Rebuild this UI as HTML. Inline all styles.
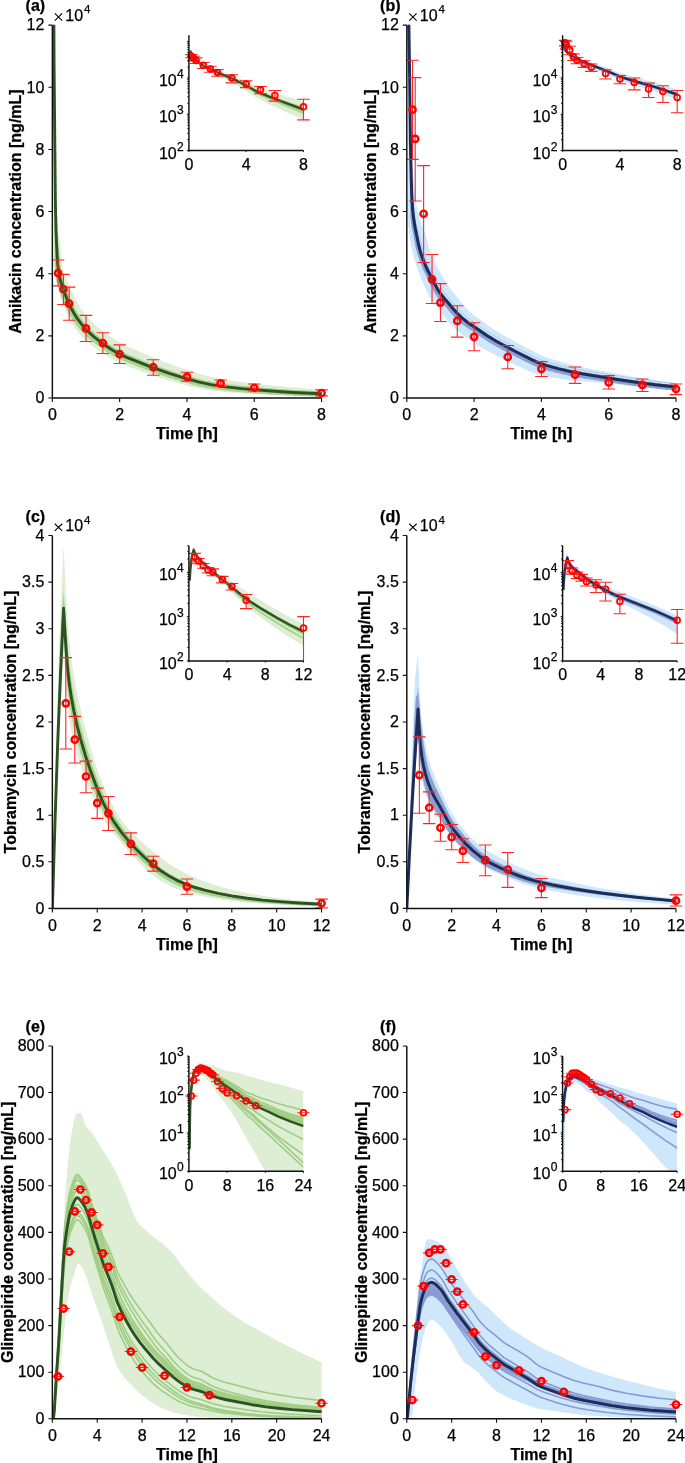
<!DOCTYPE html>
<html><head><meta charset="utf-8"><style>
html,body{margin:0;padding:0;background:#fff;}
svg{display:block;will-change:transform;}
text{font-family:"Liberation Sans",sans-serif;fill:#000;stroke:#000;stroke-width:0.25px;}
</style></head><body>
<svg width="685" height="1463" viewBox="0 0 685 1463">
<rect width="685" height="1463" fill="#fff"/>
<clipPath id="clipam"><rect x="52.35" y="24.65" width="269.7" height="372.85"/></clipPath>
<g clip-path="url(#clipam)"><path d="M52.4 -174.8 53.1 -174.7 53.1 -173.7 53.1 -172.7 53.1 -171.7 53.1 -170.7 53.1 -169.7 53.2 -168.7 53.2 -167.7" fill="none" stroke="#ddeed5" stroke-width="0.6" stroke-linecap="round" stroke-linejoin="round"/><path d="M53.2 -167.7 53.2 -166.7 53.2 -165.7 53.2 -164.7 53.2 -163.7 53.2 -162.7 53.2 -161.7 53.2 -160.7 53.2 -159.7" fill="none" stroke="#ddeed5" stroke-width="0.6" stroke-linecap="round" stroke-linejoin="round"/><path d="M53.2 -159.7 53.2 -158.7 53.2 -157.7 53.2 -156.7 53.2 -155.7 53.2 -154.7 53.2 -153.7 53.2 -152.7 53.2 -151.7" fill="none" stroke="#ddeed5" stroke-width="0.7" stroke-linecap="round" stroke-linejoin="round"/><path d="M53.2 -151.7 53.2 -150.7 53.2 -149.7 53.2 -148.7 53.2 -147.7 53.2 -146.7 53.2 -145.7 53.2 -144.7 53.2 -143.7" fill="none" stroke="#ddeed5" stroke-width="0.7" stroke-linecap="round" stroke-linejoin="round"/><path d="M53.2 -143.7 53.2 -142.7 53.2 -141.7 53.2 -140.7 53.2 -139.7 53.2 -138.7 53.2 -137.7 53.2 -136.7 53.2 -135.7" fill="none" stroke="#ddeed5" stroke-width="0.7" stroke-linecap="round" stroke-linejoin="round"/><path d="M53.2 -135.7 53.2 -134.7 53.2 -133.7 53.2 -132.7 53.2 -131.7 53.2 -130.7 53.2 -129.7 53.2 -128.7 53.2 -127.7" fill="none" stroke="#ddeed5" stroke-width="0.7" stroke-linecap="round" stroke-linejoin="round"/><path d="M53.2 -127.7 53.3 -126.7 53.3 -125.7 53.3 -124.7 53.3 -123.7 53.3 -122.7 53.3 -121.7 53.3 -120.7 53.3 -119.7" fill="none" stroke="#ddeed5" stroke-width="0.7" stroke-linecap="round" stroke-linejoin="round"/><path d="M53.3 -119.7 53.3 -118.7 53.3 -117.7 53.3 -116.7 53.3 -115.7 53.3 -114.7 53.3 -113.7 53.3 -112.7 53.3 -111.7" fill="none" stroke="#ddeed5" stroke-width="0.7" stroke-linecap="round" stroke-linejoin="round"/><path d="M53.3 -111.7 53.3 -110.7 53.3 -109.7 53.3 -108.7 53.3 -107.7 53.3 -106.7 53.3 -105.7 53.3 -104.7 53.3 -103.7" fill="none" stroke="#ddeed5" stroke-width="0.7" stroke-linecap="round" stroke-linejoin="round"/><path d="M53.3 -103.7 53.3 -102.7 53.3 -101.7 53.3 -100.7 53.3 -99.7 53.3 -98.7 53.3 -97.7 53.3 -96.7 53.3 -95.7" fill="none" stroke="#ddeed5" stroke-width="0.7" stroke-linecap="round" stroke-linejoin="round"/><path d="M53.3 -95.7 53.3 -94.7 53.3 -93.7 53.3 -92.7 53.3 -91.7 53.3 -90.7 53.3 -89.7 53.3 -88.7 53.4 -87.7" fill="none" stroke="#ddeed5" stroke-width="0.7" stroke-linecap="round" stroke-linejoin="round"/><path d="M53.4 -87.7 53.4 -86.7 53.4 -85.7 53.4 -84.7 53.4 -83.7 53.4 -82.7 53.4 -81.7 53.4 -80.7 53.4 -79.7" fill="none" stroke="#ddeed5" stroke-width="0.7" stroke-linecap="round" stroke-linejoin="round"/><path d="M53.4 -79.7 53.4 -78.7 53.4 -77.7 53.4 -76.7 53.4 -75.7 53.4 -74.7 53.4 -73.7 53.4 -72.7 53.4 -71.7" fill="none" stroke="#ddeed5" stroke-width="0.7" stroke-linecap="round" stroke-linejoin="round"/><path d="M53.4 -71.7 53.4 -70.7 53.4 -69.7 53.4 -68.7 53.4 -67.7 53.4 -66.7 53.4 -65.7 53.4 -64.7 53.4 -63.7" fill="none" stroke="#ddeed5" stroke-width="0.7" stroke-linecap="round" stroke-linejoin="round"/><path d="M53.4 -63.7 53.4 -62.7 53.4 -61.7 53.4 -60.7 53.4 -59.7 53.4 -58.7 53.4 -57.7 53.4 -56.7 53.4 -55.8" fill="none" stroke="#ddeed5" stroke-width="0.7" stroke-linecap="round" stroke-linejoin="round"/><path d="M53.4 -55.8 53.4 -54.8 53.5 -53.8 53.5 -52.8 53.5 -51.8 53.5 -50.8 53.5 -49.8 53.5 -48.8 53.5 -47.8" fill="none" stroke="#ddeed5" stroke-width="0.7" stroke-linecap="round" stroke-linejoin="round"/><path d="M53.5 -47.8 53.5 -46.8 53.5 -45.8 53.5 -44.8 53.5 -43.8 53.5 -42.8 53.5 -41.8 53.5 -40.8 53.5 -39.8" fill="none" stroke="#ddeed5" stroke-width="0.7" stroke-linecap="round" stroke-linejoin="round"/><path d="M53.5 -39.8 53.5 -38.8 53.5 -37.8 53.5 -36.8 53.5 -35.8 53.5 -34.8 53.5 -33.8 53.5 -32.8 53.5 -31.8" fill="none" stroke="#ddeed5" stroke-width="0.7" stroke-linecap="round" stroke-linejoin="round"/><path d="M53.5 -31.8 53.5 -30.8 53.5 -29.8 53.5 -28.8 53.5 -27.8 53.5 -26.8 53.5 -25.8 53.6 -24.8 53.6 -23.8" fill="none" stroke="#ddeed5" stroke-width="0.8" stroke-linecap="round" stroke-linejoin="round"/><path d="M53.6 -23.8 53.6 -22.8 53.6 -21.8 53.6 -20.8 53.6 -19.8 53.6 -18.8 53.6 -17.8 53.6 -16.8 53.6 -15.8" fill="none" stroke="#ddeed5" stroke-width="0.8" stroke-linecap="round" stroke-linejoin="round"/><path d="M53.6 -15.8 53.6 -14.8 53.6 -13.8 53.6 -12.8 53.6 -11.8 53.6 -10.8 53.6 -9.8 53.6 -8.8 53.6 -7.8" fill="none" stroke="#ddeed5" stroke-width="0.8" stroke-linecap="round" stroke-linejoin="round"/><path d="M53.6 -7.8 53.6 -6.8 53.6 -5.8 53.6 -4.8 53.6 -3.8 53.6 -2.8 53.6 -1.8 53.6 -0.8 53.6 0.2" fill="none" stroke="#ddeed5" stroke-width="0.8" stroke-linecap="round" stroke-linejoin="round"/><path d="M53.6 0.2 53.7 1.2 53.7 2.2 53.7 3.2 53.7 4.2 53.7 5.2 53.7 6.2 53.7 7.2 53.7 8.2" fill="none" stroke="#ddeed5" stroke-width="0.8" stroke-linecap="round" stroke-linejoin="round"/><path d="M53.7 8.2 53.7 9.2 53.7 10.2 53.7 11.2 53.7 12.2 53.7 13.2 53.7 14.2 53.7 15.2 53.7 16.2" fill="none" stroke="#ddeed5" stroke-width="0.8" stroke-linecap="round" stroke-linejoin="round"/><path d="M53.7 16.2 53.7 17.2 53.7 18.2 53.7 19.2 53.7 20.2 53.7 21.2 53.7 22.2 53.7 23.2 53.8 24.2" fill="none" stroke="#ddeed5" stroke-width="0.8" stroke-linecap="round" stroke-linejoin="round"/><path d="M53.8 24.2 53.8 25.2 53.8 26.2 53.8 27.2 53.8 28.2 53.8 29.2 53.8 30.2 53.8 31.2 53.8 32.2" fill="none" stroke="#ddeed5" stroke-width="0.8" stroke-linecap="round" stroke-linejoin="round"/><path d="M53.8 32.2 53.8 33.2 53.8 34.2 53.8 35.2 53.8 36.2 53.8 37.2 53.8 38.2 53.8 39.2 53.8 40.2" fill="none" stroke="#ddeed5" stroke-width="0.8" stroke-linecap="round" stroke-linejoin="round"/><path d="M53.8 40.2 53.8 41.2 53.8 42.2 53.9 43.2 53.9 44.2 53.9 45.2 53.9 46.2 53.9 47.2 53.9 48.2" fill="none" stroke="#ddeed5" stroke-width="0.9" stroke-linecap="round" stroke-linejoin="round"/><path d="M53.9 48.2 53.9 49.2 53.9 50.2 53.9 51.2 53.9 52.2 53.9 53.2 53.9 54.2 53.9 55.2 53.9 56.2" fill="none" stroke="#ddeed5" stroke-width="0.9" stroke-linecap="round" stroke-linejoin="round"/><path d="M53.9 56.2 53.9 57.2 53.9 58.2 53.9 59.2 54.0 60.2 54.0 61.2 54.0 62.2 54.0 63.2 54.0 64.2" fill="none" stroke="#ddeed5" stroke-width="0.9" stroke-linecap="round" stroke-linejoin="round"/><path d="M54.0 64.2 54.0 65.2 54.0 66.2 54.0 67.2 54.0 68.2 54.0 69.2 54.0 70.2 54.0 71.2 54.0 72.2" fill="none" stroke="#ddeed5" stroke-width="0.9" stroke-linecap="round" stroke-linejoin="round"/><path d="M54.0 72.2 54.0 73.2 54.1 74.2 54.1 75.2 54.1 76.2 54.1 77.2 54.1 78.2 54.1 79.2 54.1 80.2" fill="none" stroke="#ddeed5" stroke-width="0.9" stroke-linecap="round" stroke-linejoin="round"/><path d="M54.1 80.2 54.1 81.2 54.1 82.2 54.1 83.2 54.1 84.2 54.1 85.2 54.1 86.2 54.2 87.2 54.2 88.2" fill="none" stroke="#ddeed5" stroke-width="0.9" stroke-linecap="round" stroke-linejoin="round"/><path d="M54.2 88.2 54.2 89.2 54.2 90.2 54.2 91.2 54.2 92.2 54.2 93.2 54.2 94.2 54.2 95.2 54.2 96.2" fill="none" stroke="#ddeed5" stroke-width="1.0" stroke-linecap="round" stroke-linejoin="round"/><path d="M54.2 96.2 54.2 97.2 54.2 98.2 54.3 99.2 54.3 100.2 54.3 101.2 54.3 102.2 54.3 103.2 54.3 104.2" fill="none" stroke="#ddeed5" stroke-width="1.0" stroke-linecap="round" stroke-linejoin="round"/><path d="M54.3 104.2 54.3 105.2 54.3 106.2 54.3 107.2 54.3 108.2 54.3 109.2 54.4 110.2 54.4 111.2 54.4 112.2" fill="none" stroke="#ddeed5" stroke-width="1.0" stroke-linecap="round" stroke-linejoin="round"/><path d="M54.4 112.2 54.4 113.2 54.4 114.2 54.4 115.2 54.4 116.2 54.4 117.2 54.4 118.2 54.4 119.2 54.5 120.2" fill="none" stroke="#ddeed5" stroke-width="1.0" stroke-linecap="round" stroke-linejoin="round"/><path d="M54.5 120.2 54.5 121.2 54.5 122.2 54.5 123.2 54.5 124.2 54.5 125.2 54.5 126.2 54.5 127.2 54.5 128.2" fill="none" stroke="#ddeed5" stroke-width="1.0" stroke-linecap="round" stroke-linejoin="round"/><path d="M54.5 128.2 54.5 129.2 54.5 130.2 54.6 131.2 54.6 132.2 54.6 133.2 54.6 134.2 54.6 135.2 54.6 136.2" fill="none" stroke="#ddeed5" stroke-width="1.1" stroke-linecap="round" stroke-linejoin="round"/><path d="M54.6 136.2 54.6 137.2 54.6 138.2 54.6 139.2 54.6 140.2 54.7 141.2 54.7 142.1 54.7 143.1 54.7 144.1" fill="none" stroke="#ddeed5" stroke-width="1.1" stroke-linecap="round" stroke-linejoin="round"/><path d="M54.7 144.1 54.7 145.1 54.7 146.1 54.7 147.1 54.7 148.1 54.7 149.1 54.7 150.1 54.8 151.1 54.8 152.1" fill="none" stroke="#ddeed5" stroke-width="1.1" stroke-linecap="round" stroke-linejoin="round"/><path d="M54.8 152.1 54.8 153.1 54.8 154.1 54.8 155.1 54.8 156.1 54.8 157.1 54.8 158.1 54.8 159.1 54.8 160.1" fill="none" stroke="#ddeed5" stroke-width="1.1" stroke-linecap="round" stroke-linejoin="round"/><path d="M54.8 160.1 54.8 161.1 54.9 162.1 54.9 163.1 54.9 164.1 54.9 165.1 54.9 166.1 54.9 167.1 54.9 168.1" fill="none" stroke="#ddeed5" stroke-width="1.2" stroke-linecap="round" stroke-linejoin="round"/><path d="M54.9 168.1 54.9 169.1 54.9 170.1 54.9 171.1 54.9 172.1 55.0 173.1 55.0 174.1 55.0 175.1 55.0 176.1" fill="none" stroke="#ddeed5" stroke-width="1.2" stroke-linecap="round" stroke-linejoin="round"/><path d="M55.0 176.1 55.0 177.1 55.0 178.1 55.0 179.1 55.0 180.1 55.0 181.1 55.0 182.1 55.1 183.1 55.1 184.1" fill="none" stroke="#ddeed5" stroke-width="1.2" stroke-linecap="round" stroke-linejoin="round"/><path d="M55.1 184.1 55.1 185.1 55.1 186.1 55.1 187.1 55.1 188.1 55.1 189.1 55.2 190.1 55.2 191.1 55.2 192.1" fill="none" stroke="#ddeed5" stroke-width="1.5" stroke-linecap="round" stroke-linejoin="round"/><path d="M55.2 192.1 55.2 193.1 55.2 194.1 55.2 195.1 55.2 196.1 55.3 197.1 55.3 198.1 55.3 199.1 55.3 200.1" fill="none" stroke="#ddeed5" stroke-width="1.8" stroke-linecap="round" stroke-linejoin="round"/><path d="M55.3 200.1 55.3 201.1 55.3 202.1 55.4 203.1 55.4 204.1 55.4 205.1 55.4 206.1 55.4 207.1 55.5 208.1" fill="none" stroke="#ddeed5" stroke-width="2.2" stroke-linecap="round" stroke-linejoin="round"/><path d="M55.5 208.1 55.5 209.1 55.5 210.1 55.5 211.1 55.6 212.1 55.6 213.1 55.6 214.1 55.6 215.1 55.7 216.1" fill="none" stroke="#ddeed5" stroke-width="2.6" stroke-linecap="round" stroke-linejoin="round"/><path d="M55.7 216.1 55.7 217.1 55.7 218.1 55.8 219.1 55.8 220.1 55.8 221.1 55.9 222.1 55.9 223.1 55.9 224.1" fill="none" stroke="#ddeed5" stroke-width="3.2" stroke-linecap="round" stroke-linejoin="round"/><path d="M55.9 224.1 56.0 225.1 56.0 226.1 56.1 227.1 56.1 228.1 56.1 229.1 56.2 230.1 56.2 231.1 56.3 232.1" fill="none" stroke="#ddeed5" stroke-width="4.0" stroke-linecap="round" stroke-linejoin="round"/><path d="M56.3 232.1 56.3 233.1 56.4 234.1 56.4 235.1 56.5 236.1 56.6 237.1 56.6 238.1 56.7 239.1 56.8 240.1" fill="none" stroke="#ddeed5" stroke-width="5.0" stroke-linecap="round" stroke-linejoin="round"/><path d="M56.8 240.1 56.8 241.1 56.9 242.1 56.9 243.1 57.0 244.1 57.0 245.1 57.1 246.0 57.2 247.0 57.2 248.0" fill="none" stroke="#ddeed5" stroke-width="6.0" stroke-linecap="round" stroke-linejoin="round"/><path d="M57.2 248.0 57.3 249.0 57.3 250.0 57.4 251.0 57.5 252.0 57.5 253.0 57.6 254.0 57.6 255.0 57.7 256.0" fill="none" stroke="#ddeed5" stroke-width="6.5" stroke-linecap="round" stroke-linejoin="round"/><path d="M57.7 256.0 57.8 257.0 57.9 258.0 57.9 259.0 58.0 260.0 58.1 261.0 58.2 262.0 58.3 263.0 58.4 264.0" fill="none" stroke="#ddeed5" stroke-width="6.9" stroke-linecap="round" stroke-linejoin="round"/><path d="M58.4 264.0 58.5 265.0 58.6 265.9 58.7 266.9 58.8 267.9 59.0 268.9 59.1 269.9 59.3 270.9 59.4 271.8" fill="none" stroke="#ddeed5" stroke-width="7.6" stroke-linecap="round" stroke-linejoin="round"/><path d="M59.4 271.8 59.6 272.8 59.8 273.8 60.0 274.8 60.2 275.7 60.4 276.7 60.7 277.7 60.9 278.6 61.2 279.6" fill="none" stroke="#ddeed5" stroke-width="8.7" stroke-linecap="round" stroke-linejoin="round"/><path d="M61.2 279.6 61.5 280.5 61.8 281.4 62.1 282.4 62.4 283.3 62.8 284.2 63.1 285.1 63.5 286.1 63.9 287.0" fill="none" stroke="#ddeed5" stroke-width="10.5" stroke-linecap="round" stroke-linejoin="round"/><path d="M63.9 287.0 64.2 287.9 64.5 288.9 64.8 289.8 65.2 290.8 65.5 291.7 65.8 292.7 66.1 293.6 66.5 294.5" fill="none" stroke="#ddeed5" stroke-width="11.9" stroke-linecap="round" stroke-linejoin="round"/><path d="M66.5 294.5 66.8 295.5 67.2 296.4 67.5 297.3 67.9 298.2 68.2 299.2 68.6 300.1 69.0 301.0 69.4 301.9" fill="none" stroke="#ddeed5" stroke-width="12.6" stroke-linecap="round" stroke-linejoin="round"/><path d="M69.4 301.9 69.8 302.8 70.2 303.7 70.6 304.6 71.0 305.5 71.5 306.4 71.9 307.3 72.3 308.2 72.8 309.0" fill="none" stroke="#ddeed5" stroke-width="13.4" stroke-linecap="round" stroke-linejoin="round"/><path d="M72.8 309.0 73.3 309.9 73.7 310.8 74.2 311.7 74.7 312.5 75.2 313.4 75.7 314.2 76.2 315.1 76.7 315.9" fill="none" stroke="#ddeed5" stroke-width="14.4" stroke-linecap="round" stroke-linejoin="round"/><path d="M76.7 315.9 77.3 316.7 77.8 317.6 78.4 318.4 78.9 319.2 79.5 320.0 80.1 320.8 80.6 321.6 81.2 322.4" fill="none" stroke="#ddeed5" stroke-width="15.5" stroke-linecap="round" stroke-linejoin="round"/><path d="M81.2 322.4 81.8 323.2 82.4 324.0 83.1 324.8 83.7 325.5 84.3 326.3 85.0 327.0 85.6 327.8 86.3 328.5" fill="none" stroke="#ddeed5" stroke-width="16.8" stroke-linecap="round" stroke-linejoin="round"/><path d="M86.3 328.5 87.0 329.2 87.7 329.9 88.4 330.6 89.1 331.3 89.8 332.0 90.5 332.7 91.3 333.3 92.0 334.0" fill="none" stroke="#ddeed5" stroke-width="17.6" stroke-linecap="round" stroke-linejoin="round"/><path d="M92.0 334.0 92.8 334.6 93.5 335.3 94.3 335.9 95.0 336.5 95.8 337.2 96.6 337.8 97.4 338.4 98.2 339.0" fill="none" stroke="#ddeed5" stroke-width="17.8" stroke-linecap="round" stroke-linejoin="round"/><path d="M98.2 339.0 99.0 339.6 99.8 340.2 100.6 340.8 101.4 341.4 102.2 341.9 103.0 342.5 103.8 343.1 104.6 343.7" fill="none" stroke="#ddeed5" stroke-width="17.9" stroke-linecap="round" stroke-linejoin="round"/><path d="M104.6 343.7 105.4 344.2 106.3 344.8 107.1 345.3 107.9 345.9 108.7 346.4 109.6 347.0 110.4 347.5 111.2 348.1" fill="none" stroke="#ddeed5" stroke-width="18.1" stroke-linecap="round" stroke-linejoin="round"/><path d="M111.2 348.1 112.1 348.6 112.9 349.1 113.8 349.6 114.6 350.1 115.5 350.6 116.4 351.1 117.2 351.5 118.1 352.0" fill="none" stroke="#ddeed5" stroke-width="18.3" stroke-linecap="round" stroke-linejoin="round"/><path d="M118.1 352.0 119.0 352.5 119.8 352.9 120.7 353.3 121.6 353.8 122.5 354.2 123.4 354.6 124.3 355.0 125.2 355.4" fill="none" stroke="#ddeed5" stroke-width="18.4" stroke-linecap="round" stroke-linejoin="round"/><path d="M125.2 355.4 126.1 355.8 127.0 356.2 127.9 356.6 128.9 356.9 129.8 357.3 130.7 357.7 131.6 358.0 132.6 358.4" fill="none" stroke="#ddeed5" stroke-width="18.0" stroke-linecap="round" stroke-linejoin="round"/><path d="M132.6 358.4 133.5 358.8 134.4 359.2 135.4 359.5 136.3 359.9 137.2 360.3 138.1 360.7 139.1 361.1 140.0 361.4" fill="none" stroke="#ddeed5" stroke-width="17.6" stroke-linecap="round" stroke-linejoin="round"/><path d="M140.0 361.4 140.9 361.8 141.8 362.2 142.8 362.5 143.7 362.9 144.6 363.3 145.5 363.7 146.5 364.0 147.4 364.4" fill="none" stroke="#ddeed5" stroke-width="17.2" stroke-linecap="round" stroke-linejoin="round"/><path d="M147.4 364.4 148.3 364.7 149.3 365.1 150.2 365.5 151.1 365.8 152.1 366.2 153.0 366.5 153.9 366.9 154.9 367.2" fill="none" stroke="#ddeed5" stroke-width="16.8" stroke-linecap="round" stroke-linejoin="round"/><path d="M154.9 367.2 155.8 367.6 156.7 367.9 157.7 368.2 158.6 368.6 159.5 368.9 160.5 369.3 161.4 369.6 162.4 369.9" fill="none" stroke="#ddeed5" stroke-width="16.4" stroke-linecap="round" stroke-linejoin="round"/><path d="M162.4 369.9 163.3 370.2 164.2 370.6 165.2 370.9 166.1 371.2 167.1 371.5 168.0 371.8 169.0 372.1 169.9 372.4" fill="none" stroke="#ddeed5" stroke-width="15.9" stroke-linecap="round" stroke-linejoin="round"/><path d="M169.9 372.4 170.9 372.8 171.8 373.1 172.8 373.4 173.7 373.7 174.7 374.0 175.6 374.3 176.6 374.6 177.5 374.9" fill="none" stroke="#ddeed5" stroke-width="15.5" stroke-linecap="round" stroke-linejoin="round"/><path d="M177.5 374.9 178.5 375.1 179.4 375.4 180.4 375.7 181.3 376.0 182.3 376.3 183.3 376.6 184.2 376.9 185.2 377.1" fill="none" stroke="#ddeed5" stroke-width="15.1" stroke-linecap="round" stroke-linejoin="round"/><path d="M185.2 377.1 186.1 377.4 187.1 377.7 188.0 378.0 189.0 378.3 190.0 378.5 190.9 378.8 191.9 379.1 192.8 379.4" fill="none" stroke="#ddeed5" stroke-width="14.7" stroke-linecap="round" stroke-linejoin="round"/><path d="M192.8 379.4 193.8 379.7 194.8 379.9 195.7 380.2 196.7 380.5 197.6 380.7 198.6 381.0 199.5 381.2 200.5 381.5" fill="none" stroke="#ddeed5" stroke-width="14.2" stroke-linecap="round" stroke-linejoin="round"/><path d="M200.5 381.5 201.5 381.7 202.4 381.9 203.4 382.1 204.4 382.3 205.4 382.5 206.3 382.7 207.3 382.9 208.3 383.1" fill="none" stroke="#ddeed5" stroke-width="13.7" stroke-linecap="round" stroke-linejoin="round"/><path d="M208.3 383.1 209.3 383.3 210.2 383.5 211.2 383.7 212.2 383.8 213.2 384.0 214.2 384.2 215.2 384.3 216.1 384.5" fill="none" stroke="#ddeed5" stroke-width="13.1" stroke-linecap="round" stroke-linejoin="round"/><path d="M216.1 384.5 217.1 384.7 218.1 384.8 219.1 385.0 220.1 385.1 221.1 385.2 222.0 385.4 223.0 385.5 224.0 385.7" fill="none" stroke="#ddeed5" stroke-width="12.5" stroke-linecap="round" stroke-linejoin="round"/><path d="M224.0 385.7 225.0 385.8 226.0 385.9 227.0 386.0 228.0 386.2 229.0 386.3 230.0 386.4 230.9 386.5 231.9 386.6" fill="none" stroke="#ddeed5" stroke-width="12.0" stroke-linecap="round" stroke-linejoin="round"/><path d="M231.9 386.6 232.9 386.7 233.9 386.8 234.9 386.9 235.9 387.0 236.9 387.2 237.9 387.3 238.9 387.4 239.9 387.5" fill="none" stroke="#ddeed5" stroke-width="11.4" stroke-linecap="round" stroke-linejoin="round"/><path d="M239.9 387.5 240.9 387.5 241.9 387.6 242.9 387.7 243.9 387.8 244.8 387.9 245.8 388.0 246.8 388.1 247.8 388.2" fill="none" stroke="#ddeed5" stroke-width="10.8" stroke-linecap="round" stroke-linejoin="round"/><path d="M247.8 388.2 248.8 388.3 249.8 388.4 250.8 388.5 251.8 388.6 252.8 388.6 253.8 388.7 254.8 388.8 255.8 388.9" fill="none" stroke="#ddeed5" stroke-width="10.2" stroke-linecap="round" stroke-linejoin="round"/><path d="M255.8 388.9 256.8 389.0 257.8 389.1 258.8 389.1 259.8 389.2 260.8 389.3 261.8 389.4 262.8 389.5 263.8 389.5" fill="none" stroke="#ddeed5" stroke-width="9.7" stroke-linecap="round" stroke-linejoin="round"/><path d="M263.8 389.5 264.7 389.6 265.7 389.7 266.7 389.8 267.7 389.8 268.7 389.9 269.7 390.0 270.7 390.1 271.7 390.1" fill="none" stroke="#ddeed5" stroke-width="9.3" stroke-linecap="round" stroke-linejoin="round"/><path d="M271.7 390.1 272.7 390.2 273.7 390.3 274.7 390.3 275.7 390.4 276.7 390.5 277.7 390.5 278.7 390.6 279.7 390.7" fill="none" stroke="#ddeed5" stroke-width="8.9" stroke-linecap="round" stroke-linejoin="round"/><path d="M279.7 390.7 280.7 390.7 281.7 390.8 282.7 390.8 283.7 390.9 284.7 391.0 285.7 391.0 286.7 391.1 287.7 391.1" fill="none" stroke="#ddeed5" stroke-width="8.4" stroke-linecap="round" stroke-linejoin="round"/><path d="M287.7 391.1 288.7 391.2 289.7 391.3 290.7 391.3 291.7 391.4 292.7 391.4 293.6 391.5 294.6 391.5 295.6 391.6" fill="none" stroke="#ddeed5" stroke-width="8.0" stroke-linecap="round" stroke-linejoin="round"/><path d="M295.6 391.6 296.6 391.7 297.6 391.7 298.6 391.8 299.6 391.8 300.6 391.9 301.6 391.9 302.6 392.0 303.6 392.0" fill="none" stroke="#ddeed5" stroke-width="7.6" stroke-linecap="round" stroke-linejoin="round"/><path d="M303.6 392.0 304.6 392.1 305.6 392.1 306.6 392.2 307.6 392.2 308.6 392.2 309.6 392.3 310.6 392.3 311.6 392.4" fill="none" stroke="#ddeed5" stroke-width="7.1" stroke-linecap="round" stroke-linejoin="round"/><path d="M311.6 392.4 312.6 392.4 313.6 392.5 314.6 392.5 315.6 392.6 316.6 392.6 317.6 392.6 318.6 392.7 319.6 392.7" fill="none" stroke="#ddeed5" stroke-width="6.7" stroke-linecap="round" stroke-linejoin="round"/><path d="M319.6 392.7 320.6 392.8 321.6 392.8" fill="none" stroke="#ddeed5" stroke-width="6.5" stroke-linecap="round" stroke-linejoin="round"/><path d="M52.4 -174.8 53.2 -174.7 53.2 -173.7 53.2 -172.7 53.2 -171.7 53.2 -170.7 53.2 -169.7 53.2 -168.7 53.2 -167.7" fill="none" stroke="#a9d38f" stroke-width="0.5" stroke-linecap="round" stroke-linejoin="round"/><path d="M53.2 -167.7 53.2 -166.7 53.2 -165.7 53.2 -164.7 53.2 -163.7 53.2 -162.7 53.2 -161.7 53.2 -160.7 53.2 -159.7" fill="none" stroke="#a9d38f" stroke-width="0.5" stroke-linecap="round" stroke-linejoin="round"/><path d="M53.2 -159.7 53.2 -158.7 53.2 -157.7 53.2 -156.7 53.2 -155.7 53.2 -154.7 53.2 -153.7 53.2 -152.7 53.2 -151.7" fill="none" stroke="#a9d38f" stroke-width="0.5" stroke-linecap="round" stroke-linejoin="round"/><path d="M53.2 -151.7 53.2 -150.7 53.2 -149.7 53.2 -148.7 53.2 -147.7 53.2 -146.7 53.2 -145.7 53.2 -144.7 53.2 -143.7" fill="none" stroke="#a9d38f" stroke-width="0.5" stroke-linecap="round" stroke-linejoin="round"/><path d="M53.2 -143.7 53.2 -142.7 53.2 -141.7 53.3 -140.7 53.3 -139.7 53.3 -138.7 53.3 -137.7 53.3 -136.7 53.3 -135.7" fill="none" stroke="#a9d38f" stroke-width="0.5" stroke-linecap="round" stroke-linejoin="round"/><path d="M53.3 -135.7 53.3 -134.7 53.3 -133.7 53.3 -132.7 53.3 -131.7 53.3 -130.7 53.3 -129.7 53.3 -128.7 53.3 -127.7" fill="none" stroke="#a9d38f" stroke-width="0.5" stroke-linecap="round" stroke-linejoin="round"/><path d="M53.3 -127.7 53.3 -126.7 53.3 -125.7 53.3 -124.7 53.3 -123.7 53.3 -122.7 53.3 -121.7 53.3 -120.7 53.3 -119.7" fill="none" stroke="#a9d38f" stroke-width="0.5" stroke-linecap="round" stroke-linejoin="round"/><path d="M53.3 -119.7 53.3 -118.7 53.3 -117.7 53.3 -116.7 53.3 -115.7 53.3 -114.7 53.3 -113.7 53.3 -112.7 53.3 -111.7" fill="none" stroke="#a9d38f" stroke-width="0.5" stroke-linecap="round" stroke-linejoin="round"/><path d="M53.3 -111.7 53.3 -110.7 53.3 -109.7 53.3 -108.7 53.3 -107.7 53.3 -106.7 53.3 -105.7 53.3 -104.7 53.3 -103.7" fill="none" stroke="#a9d38f" stroke-width="0.5" stroke-linecap="round" stroke-linejoin="round"/><path d="M53.3 -103.7 53.3 -102.7 53.4 -101.7 53.4 -100.7 53.4 -99.7 53.4 -98.7 53.4 -97.7 53.4 -96.7 53.4 -95.7" fill="none" stroke="#a9d38f" stroke-width="0.5" stroke-linecap="round" stroke-linejoin="round"/><path d="M53.4 -95.7 53.4 -94.7 53.4 -93.7 53.4 -92.7 53.4 -91.7 53.4 -90.7 53.4 -89.7 53.4 -88.7 53.4 -87.7" fill="none" stroke="#a9d38f" stroke-width="0.5" stroke-linecap="round" stroke-linejoin="round"/><path d="M53.4 -87.7 53.4 -86.7 53.4 -85.7 53.4 -84.7 53.4 -83.7 53.4 -82.7 53.4 -81.7 53.4 -80.7 53.4 -79.7" fill="none" stroke="#a9d38f" stroke-width="0.6" stroke-linecap="round" stroke-linejoin="round"/><path d="M53.4 -79.7 53.4 -78.7 53.4 -77.7 53.4 -76.7 53.4 -75.7 53.4 -74.7 53.4 -73.7 53.4 -72.7 53.4 -71.7" fill="none" stroke="#a9d38f" stroke-width="0.6" stroke-linecap="round" stroke-linejoin="round"/><path d="M53.4 -71.7 53.4 -70.7 53.4 -69.7 53.4 -68.7 53.4 -67.7 53.5 -66.7 53.5 -65.7 53.5 -64.7 53.5 -63.7" fill="none" stroke="#a9d38f" stroke-width="0.6" stroke-linecap="round" stroke-linejoin="round"/><path d="M53.5 -63.7 53.5 -62.7 53.5 -61.7 53.5 -60.7 53.5 -59.7 53.5 -58.7 53.5 -57.7 53.5 -56.7 53.5 -55.8" fill="none" stroke="#a9d38f" stroke-width="0.6" stroke-linecap="round" stroke-linejoin="round"/><path d="M53.5 -55.8 53.5 -54.8 53.5 -53.8 53.5 -52.8 53.5 -51.8 53.5 -50.8 53.5 -49.8 53.5 -48.8 53.5 -47.8" fill="none" stroke="#a9d38f" stroke-width="0.6" stroke-linecap="round" stroke-linejoin="round"/><path d="M53.5 -47.8 53.5 -46.8 53.5 -45.8 53.5 -44.8 53.5 -43.8 53.5 -42.8 53.5 -41.8 53.5 -40.8 53.5 -39.8" fill="none" stroke="#a9d38f" stroke-width="0.6" stroke-linecap="round" stroke-linejoin="round"/><path d="M53.5 -39.8 53.5 -38.8 53.5 -37.8 53.6 -36.8 53.6 -35.8 53.6 -34.8 53.6 -33.8 53.6 -32.8 53.6 -31.8" fill="none" stroke="#a9d38f" stroke-width="0.6" stroke-linecap="round" stroke-linejoin="round"/><path d="M53.6 -31.8 53.6 -30.8 53.6 -29.8 53.6 -28.8 53.6 -27.8 53.6 -26.8 53.6 -25.8 53.6 -24.8 53.6 -23.8" fill="none" stroke="#a9d38f" stroke-width="0.6" stroke-linecap="round" stroke-linejoin="round"/><path d="M53.6 -23.8 53.6 -22.8 53.6 -21.8 53.6 -20.8 53.6 -19.8 53.6 -18.8 53.6 -17.8 53.6 -16.8 53.6 -15.8" fill="none" stroke="#a9d38f" stroke-width="0.6" stroke-linecap="round" stroke-linejoin="round"/><path d="M53.6 -15.8 53.6 -14.8 53.6 -13.8 53.6 -12.8 53.6 -11.8 53.6 -10.8 53.7 -9.8 53.7 -8.8 53.7 -7.8" fill="none" stroke="#a9d38f" stroke-width="0.6" stroke-linecap="round" stroke-linejoin="round"/><path d="M53.7 -7.8 53.7 -6.8 53.7 -5.8 53.7 -4.8 53.7 -3.8 53.7 -2.8 53.7 -1.8 53.7 -0.8 53.7 0.2" fill="none" stroke="#a9d38f" stroke-width="0.6" stroke-linecap="round" stroke-linejoin="round"/><path d="M53.7 0.2 53.7 1.2 53.7 2.2 53.7 3.2 53.7 4.2 53.7 5.2 53.7 6.2 53.7 7.2 53.7 8.2" fill="none" stroke="#a9d38f" stroke-width="0.6" stroke-linecap="round" stroke-linejoin="round"/><path d="M53.7 8.2 53.7 9.2 53.7 10.2 53.7 11.2 53.7 12.2 53.8 13.2 53.8 14.2 53.8 15.2 53.8 16.2" fill="none" stroke="#a9d38f" stroke-width="0.6" stroke-linecap="round" stroke-linejoin="round"/><path d="M53.8 16.2 53.8 17.2 53.8 18.2 53.8 19.2 53.8 20.2 53.8 21.2 53.8 22.2 53.8 23.2 53.8 24.2" fill="none" stroke="#a9d38f" stroke-width="0.6" stroke-linecap="round" stroke-linejoin="round"/><path d="M53.8 24.2 53.8 25.2 53.8 26.2 53.8 27.2 53.8 28.2 53.8 29.2 53.8 30.2 53.8 31.2 53.8 32.2" fill="none" stroke="#a9d38f" stroke-width="0.6" stroke-linecap="round" stroke-linejoin="round"/><path d="M53.8 32.2 53.9 33.2 53.9 34.2 53.9 35.2 53.9 36.2 53.9 37.2 53.9 38.2 53.9 39.2 53.9 40.2" fill="none" stroke="#a9d38f" stroke-width="0.6" stroke-linecap="round" stroke-linejoin="round"/><path d="M53.9 40.2 53.9 41.2 53.9 42.2 53.9 43.2 53.9 44.2 53.9 45.2 53.9 46.2 53.9 47.2 53.9 48.2" fill="none" stroke="#a9d38f" stroke-width="0.6" stroke-linecap="round" stroke-linejoin="round"/><path d="M53.9 48.2 53.9 49.2 54.0 50.2 54.0 51.2 54.0 52.2 54.0 53.2 54.0 54.2 54.0 55.2 54.0 56.2" fill="none" stroke="#a9d38f" stroke-width="0.6" stroke-linecap="round" stroke-linejoin="round"/><path d="M54.0 56.2 54.0 57.2 54.0 58.2 54.0 59.2 54.0 60.2 54.0 61.2 54.0 62.2 54.0 63.2 54.0 64.2" fill="none" stroke="#a9d38f" stroke-width="0.6" stroke-linecap="round" stroke-linejoin="round"/><path d="M54.0 64.2 54.0 65.2 54.1 66.2 54.1 67.2 54.1 68.2 54.1 69.2 54.1 70.2 54.1 71.2 54.1 72.2" fill="none" stroke="#a9d38f" stroke-width="0.6" stroke-linecap="round" stroke-linejoin="round"/><path d="M54.1 72.2 54.1 73.2 54.1 74.2 54.1 75.2 54.1 76.2 54.1 77.2 54.1 78.2 54.2 79.2 54.2 80.2" fill="none" stroke="#a9d38f" stroke-width="0.7" stroke-linecap="round" stroke-linejoin="round"/><path d="M54.2 80.2 54.2 81.2 54.2 82.2 54.2 83.2 54.2 84.2 54.2 85.2 54.2 86.2 54.2 87.2 54.2 88.2" fill="none" stroke="#a9d38f" stroke-width="0.7" stroke-linecap="round" stroke-linejoin="round"/><path d="M54.2 88.2 54.2 89.2 54.2 90.2 54.3 91.2 54.3 92.2 54.3 93.2 54.3 94.2 54.3 95.2 54.3 96.2" fill="none" stroke="#a9d38f" stroke-width="0.7" stroke-linecap="round" stroke-linejoin="round"/><path d="M54.3 96.2 54.3 97.2 54.3 98.2 54.3 99.2 54.3 100.2 54.3 101.2 54.4 102.2 54.4 103.2 54.4 104.2" fill="none" stroke="#a9d38f" stroke-width="0.7" stroke-linecap="round" stroke-linejoin="round"/><path d="M54.4 104.2 54.4 105.2 54.4 106.2 54.4 107.2 54.4 108.2 54.4 109.2 54.4 110.2 54.4 111.2 54.4 112.2" fill="none" stroke="#a9d38f" stroke-width="0.7" stroke-linecap="round" stroke-linejoin="round"/><path d="M54.4 112.2 54.5 113.2 54.5 114.2 54.5 115.2 54.5 116.2 54.5 117.2 54.5 118.2 54.5 119.2 54.5 120.2" fill="none" stroke="#a9d38f" stroke-width="0.7" stroke-linecap="round" stroke-linejoin="round"/><path d="M54.5 120.2 54.5 121.2 54.5 122.2 54.6 123.2 54.6 124.2 54.6 125.2 54.6 126.2 54.6 127.2 54.6 128.2" fill="none" stroke="#a9d38f" stroke-width="0.7" stroke-linecap="round" stroke-linejoin="round"/><path d="M54.6 128.2 54.6 129.2 54.6 130.2 54.6 131.2 54.7 132.2 54.7 133.2 54.7 134.2 54.7 135.2 54.7 136.2" fill="none" stroke="#a9d38f" stroke-width="0.7" stroke-linecap="round" stroke-linejoin="round"/><path d="M54.7 136.2 54.7 137.2 54.7 138.2 54.7 139.2 54.7 140.1 54.7 141.1 54.8 142.1 54.8 143.1 54.8 144.1" fill="none" stroke="#a9d38f" stroke-width="0.7" stroke-linecap="round" stroke-linejoin="round"/><path d="M54.8 144.1 54.8 145.1 54.8 146.1 54.8 147.1 54.8 148.1 54.8 149.1 54.8 150.1 54.8 151.1 54.9 152.1" fill="none" stroke="#a9d38f" stroke-width="0.8" stroke-linecap="round" stroke-linejoin="round"/><path d="M54.9 152.1 54.9 153.1 54.9 154.1 54.9 155.1 54.9 156.1 54.9 157.1 54.9 158.1 54.9 159.1 54.9 160.1" fill="none" stroke="#a9d38f" stroke-width="0.8" stroke-linecap="round" stroke-linejoin="round"/><path d="M54.9 160.1 54.9 161.1 55.0 162.1 55.0 163.1 55.0 164.1 55.0 165.1 55.0 166.1 55.0 167.1 55.0 168.1" fill="none" stroke="#a9d38f" stroke-width="0.8" stroke-linecap="round" stroke-linejoin="round"/><path d="M55.0 168.1 55.0 169.1 55.0 170.1 55.0 171.1 55.0 172.1 55.0 173.1 55.1 174.1 55.1 175.1 55.1 176.1" fill="none" stroke="#a9d38f" stroke-width="0.8" stroke-linecap="round" stroke-linejoin="round"/><path d="M55.1 176.1 55.1 177.1 55.1 178.1 55.1 179.1 55.1 180.1 55.1 181.1 55.1 182.1 55.1 183.1 55.1 184.1" fill="none" stroke="#a9d38f" stroke-width="0.8" stroke-linecap="round" stroke-linejoin="round"/><path d="M55.1 184.1 55.2 185.1 55.2 186.1 55.2 187.1 55.2 188.1 55.2 189.1 55.2 190.1 55.2 191.1 55.2 192.1" fill="none" stroke="#a9d38f" stroke-width="1.0" stroke-linecap="round" stroke-linejoin="round"/><path d="M55.2 192.1 55.2 193.1 55.2 194.1 55.2 195.1 55.2 196.1 55.3 197.1 55.3 198.1 55.3 199.1 55.3 200.1" fill="none" stroke="#a9d38f" stroke-width="1.1" stroke-linecap="round" stroke-linejoin="round"/><path d="M55.3 200.1 55.3 201.1 55.3 202.1 55.3 203.1 55.3 204.1 55.3 205.1 55.4 206.1 55.4 207.1 55.4 208.1" fill="none" stroke="#a9d38f" stroke-width="1.3" stroke-linecap="round" stroke-linejoin="round"/><path d="M55.4 208.1 55.4 209.1 55.4 210.1 55.4 211.1 55.4 212.1 55.4 213.1 55.5 214.1 55.5 215.1 55.5 216.1" fill="none" stroke="#a9d38f" stroke-width="1.5" stroke-linecap="round" stroke-linejoin="round"/><path d="M55.5 216.1 55.5 217.1 55.5 218.1 55.6 219.1 55.6 220.1 55.6 221.1 55.6 222.1 55.6 223.1 55.7 224.1" fill="none" stroke="#a9d38f" stroke-width="1.9" stroke-linecap="round" stroke-linejoin="round"/><path d="M55.7 224.1 55.7 225.1 55.7 226.1 55.7 227.1 55.7 228.1 55.8 229.1 55.8 230.1 55.8 231.1 55.9 232.1" fill="none" stroke="#a9d38f" stroke-width="2.3" stroke-linecap="round" stroke-linejoin="round"/><path d="M55.9 232.1 55.9 233.1 55.9 234.1 55.9 235.1 56.0 236.1 56.0 237.1 56.1 238.1 56.1 239.1 56.1 240.1" fill="none" stroke="#a9d38f" stroke-width="2.8" stroke-linecap="round" stroke-linejoin="round"/><path d="M56.1 240.1 56.2 241.1 56.2 242.1 56.3 243.1 56.3 244.1 56.3 245.1 56.4 246.1 56.4 247.1 56.5 248.1" fill="none" stroke="#a9d38f" stroke-width="3.5" stroke-linecap="round" stroke-linejoin="round"/><path d="M56.5 248.1 56.5 249.1 56.6 250.1 56.6 251.1 56.7 252.1 56.7 253.1 56.8 254.1 56.8 255.1 56.9 256.1" fill="none" stroke="#a9d38f" stroke-width="4.4" stroke-linecap="round" stroke-linejoin="round"/><path d="M56.9 256.1 57.0 257.1 57.0 258.1 57.1 259.1 57.1 260.1 57.2 261.1 57.3 262.1 57.4 263.1 57.4 264.1" fill="none" stroke="#a9d38f" stroke-width="5.4" stroke-linecap="round" stroke-linejoin="round"/><path d="M57.4 264.1 57.5 265.1 57.6 266.0 57.7 267.0 57.9 268.0 58.0 269.0 58.1 270.0 58.2 271.0 58.4 272.0" fill="none" stroke="#a9d38f" stroke-width="5.8" stroke-linecap="round" stroke-linejoin="round"/><path d="M58.4 272.0 58.5 273.0 58.7 274.0 58.9 275.0 59.0 276.0 59.2 277.0 59.4 277.9 59.7 278.9 59.9 279.9" fill="none" stroke="#a9d38f" stroke-width="6.3" stroke-linecap="round" stroke-linejoin="round"/><path d="M59.9 279.9 60.1 280.9 60.4 281.8 60.7 282.8 61.0 283.8 61.3 284.7 61.6 285.7 61.9 286.6 62.3 287.6" fill="none" stroke="#a9d38f" stroke-width="7.1" stroke-linecap="round" stroke-linejoin="round"/><path d="M62.3 287.6 62.6 288.5 62.9 289.4 63.3 290.4 63.6 291.3 63.9 292.3 64.2 293.2 64.6 294.2 64.9 295.1" fill="none" stroke="#a9d38f" stroke-width="7.5" stroke-linecap="round" stroke-linejoin="round"/><path d="M64.9 295.1 65.3 296.0 65.6 297.0 66.0 297.9 66.4 298.9 66.7 299.8 67.1 300.7 67.5 301.6 67.9 302.6" fill="none" stroke="#a9d38f" stroke-width="7.6" stroke-linecap="round" stroke-linejoin="round"/><path d="M67.9 302.6 68.3 303.5 68.7 304.4 69.2 305.3 69.6 306.2 70.0 307.1 70.5 308.0 71.0 308.9 71.4 309.8" fill="none" stroke="#a9d38f" stroke-width="7.6" stroke-linecap="round" stroke-linejoin="round"/><path d="M71.4 309.8 71.9 310.7 72.4 311.5 72.9 312.4 73.4 313.3 73.9 314.2 74.4 315.0 74.9 315.9 75.5 316.7" fill="none" stroke="#a9d38f" stroke-width="7.6" stroke-linecap="round" stroke-linejoin="round"/><path d="M75.5 316.7 76.0 317.6 76.6 318.4 77.1 319.2 77.7 320.1 78.3 320.9 78.9 321.7 79.5 322.5 80.1 323.3" fill="none" stroke="#a9d38f" stroke-width="7.7" stroke-linecap="round" stroke-linejoin="round"/><path d="M80.1 323.3 80.7 324.1 81.3 324.9 82.0 325.7 82.6 326.4 83.3 327.2 83.9 328.0 84.6 328.7 85.3 329.5" fill="none" stroke="#a9d38f" stroke-width="7.8" stroke-linecap="round" stroke-linejoin="round"/><path d="M85.3 329.5 86.0 330.2 86.7 330.9 87.4 331.6 88.1 332.3 88.8 333.0 89.6 333.7 90.3 334.4 91.1 335.1" fill="none" stroke="#a9d38f" stroke-width="7.8" stroke-linecap="round" stroke-linejoin="round"/><path d="M91.1 335.1 91.8 335.7 92.6 336.4 93.3 337.0 94.1 337.7 94.9 338.3 95.7 338.9 96.5 339.6 97.2 340.2" fill="none" stroke="#a9d38f" stroke-width="7.7" stroke-linecap="round" stroke-linejoin="round"/><path d="M97.2 340.2 98.0 340.8 98.8 341.4 99.6 342.0 100.4 342.6 101.3 343.2 102.1 343.8 102.9 344.4 103.7 345.0" fill="none" stroke="#a9d38f" stroke-width="7.7" stroke-linecap="round" stroke-linejoin="round"/><path d="M103.7 345.0 104.5 345.5 105.3 346.1 106.1 346.7 107.0 347.3 107.8 347.8 108.6 348.4 109.5 348.9 110.3 349.5" fill="none" stroke="#a9d38f" stroke-width="7.6" stroke-linecap="round" stroke-linejoin="round"/><path d="M110.3 349.5 111.2 350.0 112.0 350.5 112.9 351.1 113.7 351.6 114.6 352.1 115.5 352.6 116.4 353.1 117.2 353.6" fill="none" stroke="#a9d38f" stroke-width="7.6" stroke-linecap="round" stroke-linejoin="round"/><path d="M117.2 353.6 118.1 354.0 119.0 354.5 119.9 355.0 120.8 355.4 121.7 355.8 122.6 356.2 123.6 356.7 124.5 357.1" fill="none" stroke="#a9d38f" stroke-width="7.5" stroke-linecap="round" stroke-linejoin="round"/><path d="M124.5 357.1 125.4 357.4 126.3 357.8 127.3 358.2 128.2 358.6 129.1 359.0 130.1 359.3 131.0 359.7 131.9 360.1" fill="none" stroke="#a9d38f" stroke-width="7.5" stroke-linecap="round" stroke-linejoin="round"/><path d="M131.9 360.1 132.8 360.4 133.8 360.8 134.7 361.2 135.6 361.5 136.5 361.9 137.5 362.3 138.4 362.7 139.3 363.0" fill="none" stroke="#a9d38f" stroke-width="7.4" stroke-linecap="round" stroke-linejoin="round"/><path d="M139.3 363.0 140.3 363.4 141.2 363.8 142.1 364.2 143.1 364.5 144.0 364.9 144.9 365.2 145.8 365.6 146.8 366.0" fill="none" stroke="#a9d38f" stroke-width="7.3" stroke-linecap="round" stroke-linejoin="round"/><path d="M146.8 366.0 147.7 366.3 148.7 366.7 149.6 367.0 150.5 367.4 151.5 367.7 152.4 368.1 153.3 368.4 154.3 368.8" fill="none" stroke="#a9d38f" stroke-width="7.3" stroke-linecap="round" stroke-linejoin="round"/><path d="M154.3 368.8 155.2 369.1 156.2 369.5 157.1 369.8 158.0 370.1 159.0 370.5 159.9 370.8 160.9 371.1 161.8 371.5" fill="none" stroke="#a9d38f" stroke-width="7.2" stroke-linecap="round" stroke-linejoin="round"/><path d="M161.8 371.5 162.8 371.8 163.7 372.1 164.7 372.4 165.6 372.7 166.6 373.1 167.5 373.4 168.5 373.7 169.4 374.0" fill="none" stroke="#a9d38f" stroke-width="7.2" stroke-linecap="round" stroke-linejoin="round"/><path d="M169.4 374.0 170.4 374.3 171.3 374.6 172.3 374.9 173.2 375.2 174.2 375.5 175.1 375.8 176.1 376.1 177.1 376.4" fill="none" stroke="#a9d38f" stroke-width="7.1" stroke-linecap="round" stroke-linejoin="round"/><path d="M177.1 376.4 178.0 376.7 179.0 376.9 179.9 377.2 180.9 377.5 181.9 377.8 182.8 378.1 183.8 378.4 184.7 378.6" fill="none" stroke="#a9d38f" stroke-width="7.0" stroke-linecap="round" stroke-linejoin="round"/><path d="M184.7 378.6 185.7 378.9 186.7 379.2 187.6 379.4 188.6 379.7 189.5 380.0 190.5 380.3 191.5 380.6 192.4 380.8" fill="none" stroke="#a9d38f" stroke-width="7.0" stroke-linecap="round" stroke-linejoin="round"/><path d="M192.4 380.8 193.4 381.1 194.3 381.4 195.3 381.7 196.3 381.9 197.2 382.2 198.2 382.4 199.2 382.7 200.2 382.9" fill="none" stroke="#a9d38f" stroke-width="6.9" stroke-linecap="round" stroke-linejoin="round"/><path d="M200.2 382.9 201.2 383.1 202.1 383.3 203.1 383.5 204.1 383.8 205.1 384.0 206.0 384.2 207.0 384.4 208.0 384.5" fill="none" stroke="#a9d38f" stroke-width="6.8" stroke-linecap="round" stroke-linejoin="round"/><path d="M208.0 384.5 209.0 384.7 210.0 384.9 211.0 385.1 212.0 385.3 212.9 385.4 213.9 385.6 214.9 385.8 215.9 385.9" fill="none" stroke="#a9d38f" stroke-width="6.7" stroke-linecap="round" stroke-linejoin="round"/><path d="M215.9 385.9 216.9 386.1 217.9 386.2 218.9 386.4 219.9 386.5 220.9 386.7 221.8 386.8 222.8 386.9 223.8 387.1" fill="none" stroke="#a9d38f" stroke-width="6.6" stroke-linecap="round" stroke-linejoin="round"/><path d="M223.8 387.1 224.8 387.2 225.8 387.3 226.8 387.4 227.8 387.6 228.8 387.7 229.8 387.8 230.8 387.9 231.8 388.0" fill="none" stroke="#a9d38f" stroke-width="6.5" stroke-linecap="round" stroke-linejoin="round"/><path d="M231.8 388.0 232.8 388.1 233.8 388.2 234.8 388.3 235.8 388.4 236.8 388.6 237.7 388.7 238.7 388.7 239.7 388.8" fill="none" stroke="#a9d38f" stroke-width="6.5" stroke-linecap="round" stroke-linejoin="round"/><path d="M239.7 388.8 240.7 388.9 241.7 389.0 242.7 389.1 243.7 389.2 244.7 389.3 245.7 389.4 246.7 389.5 247.7 389.6" fill="none" stroke="#a9d38f" stroke-width="6.4" stroke-linecap="round" stroke-linejoin="round"/><path d="M247.7 389.6 248.7 389.7 249.7 389.8 250.7 389.8 251.7 389.9 252.7 390.0 253.7 390.1 254.7 390.2 255.7 390.3" fill="none" stroke="#a9d38f" stroke-width="6.3" stroke-linecap="round" stroke-linejoin="round"/><path d="M255.7 390.3 256.7 390.3 257.7 390.4 258.7 390.5 259.7 390.6 260.7 390.7 261.7 390.7 262.6 390.8 263.6 390.9" fill="none" stroke="#a9d38f" stroke-width="6.2" stroke-linecap="round" stroke-linejoin="round"/><path d="M263.6 390.9 264.6 391.0 265.6 391.0 266.6 391.1 267.6 391.2 268.6 391.3 269.6 391.3 270.6 391.4 271.6 391.5" fill="none" stroke="#a9d38f" stroke-width="6.1" stroke-linecap="round" stroke-linejoin="round"/><path d="M271.6 391.5 272.6 391.5 273.6 391.6 274.6 391.7 275.6 391.7 276.6 391.8 277.6 391.9 278.6 391.9 279.6 392.0" fill="none" stroke="#a9d38f" stroke-width="6.0" stroke-linecap="round" stroke-linejoin="round"/><path d="M279.6 392.0 280.6 392.0 281.6 392.1 282.6 392.2 283.6 392.2 284.6 392.3 285.6 392.3 286.6 392.4 287.6 392.5" fill="none" stroke="#a9d38f" stroke-width="5.9" stroke-linecap="round" stroke-linejoin="round"/><path d="M287.6 392.5 288.6 392.5 289.6 392.6 290.6 392.6 291.6 392.7 292.6 392.7 293.6 392.8 294.6 392.8 295.6 392.9" fill="none" stroke="#a9d38f" stroke-width="5.8" stroke-linecap="round" stroke-linejoin="round"/><path d="M295.6 392.9 296.6 392.9 297.6 393.0 298.6 393.0 299.6 393.1 300.6 393.1 301.6 393.2 302.6 393.2 303.6 393.3" fill="none" stroke="#a9d38f" stroke-width="5.7" stroke-linecap="round" stroke-linejoin="round"/><path d="M303.6 393.3 304.6 393.3 305.6 393.4 306.6 393.4 307.6 393.5 308.6 393.5 309.6 393.6 310.6 393.6 311.6 393.6" fill="none" stroke="#a9d38f" stroke-width="5.7" stroke-linecap="round" stroke-linejoin="round"/><path d="M311.6 393.6 312.6 393.7 313.5 393.7 314.5 393.8 315.5 393.8 316.5 393.9 317.5 393.9 318.5 393.9 319.5 394.0" fill="none" stroke="#a9d38f" stroke-width="5.6" stroke-linecap="round" stroke-linejoin="round"/><path d="M319.5 394.0 320.5 394.0 321.5 394.1" fill="none" stroke="#a9d38f" stroke-width="5.5" stroke-linecap="round" stroke-linejoin="round"/><path d="M52.4 -50.0 53.5 -50.0 54.1 68.2 55.4 204.3 56.1 233.3 57.2 256.7 57.7 264.1 58.6 271.3 59.6 277.0 60.9 282.3 64.9 293.8 67.8 301.0 70.9 307.7 74.4 314.0 77.7 319.1 81.3 323.9 85.0 328.3 89.2 332.5 93.7 336.6 98.9 340.7 105.8 345.7 111.8 349.7 119.3 354.0 126.7 357.4 151.5 367.2 169.3 373.4 182.0 377.3 199.2 382.2 210.9 384.6 223.3 386.6 241.8 388.6 267.6 390.8 293.1 392.5 321.6 393.8" fill="none" stroke="#2d5222" stroke-width="2.9" stroke-linejoin="round"/></g>
<path d="M58.07 260.05V285.83M51.82 260.05h12.5M51.82 285.83h12.5M63.45 274.34V304.48M57.20 274.34h12.5M57.20 304.48h12.5M69.17 287.08V320.32M62.92 287.08h12.5M62.92 320.32h12.5M86.00 315.35V341.45M79.75 315.35h12.5M79.75 341.45h12.5M102.82 332.75V353.57M96.57 332.75h12.5M96.57 353.57h12.5M119.65 344.87V363.51M113.40 344.87h12.5M113.40 363.51h12.5M153.30 359.78V375.32M147.05 359.78h12.5M147.05 375.32h12.5M186.95 372.21V381.22M180.70 372.21h12.5M180.70 381.22h12.5M220.60 379.98V386.50M214.35 379.98h12.5M214.35 386.50h12.5M254.25 384.02V390.85M248.00 384.02h12.5M248.00 390.85h12.5M321.55 389.92V395.83M315.30 389.92h12.5M315.30 395.83h12.5" stroke="#ff2525" stroke-width="1.1" fill="none"/>
<g fill="none" stroke="#ff0000" stroke-width="2.45"><circle cx="58.07" cy="273.10" r="3.15"/><circle cx="63.45" cy="289.25" r="3.15"/><circle cx="69.17" cy="303.54" r="3.15"/><circle cx="86.00" cy="328.40" r="3.15"/><circle cx="102.82" cy="343.00" r="3.15"/><circle cx="119.65" cy="354.19" r="3.15"/><circle cx="153.30" cy="367.24" r="3.15"/><circle cx="186.95" cy="376.87" r="3.15"/><circle cx="220.60" cy="383.40" r="3.15"/><circle cx="254.25" cy="387.75" r="3.15"/><circle cx="321.55" cy="393.03" r="3.15"/></g>
<clipPath id="clipai"><rect x="188.9" y="35.3" width="114.6" height="115.2"/></clipPath>
<g clip-path="url(#clipai)"><path d="M190.3 49.8 191.2 54.1 191.7 55.4 192.6 56.4 195.6 59.1 198.2 61.0 201.7 63.1 205.5 65.0 216.4 69.7 227.6 73.5 237.8 77.5 245.9 81.1 254.5 85.4 261.4 88.3 282.8 95.3 303.5 101.6 L303.5 119.7 282.8 110.4 261.4 100.4 254.5 96.5 245.9 90.8 237.8 86.0 227.6 80.5 216.4 75.1 205.5 68.9 201.7 66.4 198.2 63.8 195.6 61.5 192.6 58.3 191.7 57.2 191.2 55.9 190.3 51.4Z" fill="#ddeed5"/><path d="M190.3 50.0 191.2 54.4 191.7 55.6 192.6 56.7 195.6 59.6 198.2 61.6 201.7 63.9 205.5 66.0 216.4 71.1 227.6 75.5 237.8 79.9 245.9 83.9 254.5 88.7 261.4 91.9 282.8 99.9 303.5 107.1 L303.5 113.9 282.8 105.6 261.4 96.6 254.5 93.1 245.9 87.9 237.8 83.5 227.6 78.5 216.4 73.6 205.5 67.9 201.7 65.6 198.2 63.2 195.6 61.0 192.6 58.0 191.7 56.9 191.2 55.6 190.3 51.2Z" fill="#a9d38f"/><path d="M190.3 50.5 191.2 54.9 191.7 56.2 192.6 57.2 195.6 60.2 198.2 62.2 201.7 64.6 205.5 66.7 216.4 72.0 227.6 76.6 237.8 81.2 245.9 85.3 254.5 90.3 261.4 93.6 282.8 101.9 303.5 109.5" fill="none" stroke="#2d5222" stroke-width="2.4" stroke-linejoin="round"/></g>
<path d="M191.34 54.48V57.74M185.09 54.48h12.5M185.09 57.74h12.5M193.63 56.20V60.60M187.38 56.20h12.5M187.38 60.60h12.5M196.06 57.91V63.52M189.81 57.91h12.5M189.81 63.52h12.5M203.22 62.55V68.52M196.97 62.55h12.5M196.97 68.52h12.5M210.39 66.27V72.32M204.14 66.27h12.5M204.14 72.32h12.5M217.55 69.51V76.31M211.30 69.51h12.5M211.30 76.31h12.5M231.88 74.70V82.92M225.62 74.70h12.5M225.62 82.92h12.5M246.20 80.89V87.66M239.95 80.89h12.5M239.95 87.66h12.5M260.52 86.54V93.62M254.27 86.54h12.5M254.27 93.62h12.5M274.85 90.54V101.11M268.60 90.54h12.5M268.60 101.11h12.5M303.50 99.18V119.85M297.25 99.18h12.5M297.25 119.85h12.5" stroke="#ff2525" stroke-width="1.1" fill="none"/>
<g fill="none" stroke="#ff0000" stroke-width="1.7"><circle cx="191.34" cy="56.04" r="2.9"/><circle cx="193.63" cy="58.22" r="2.9"/><circle cx="196.06" cy="60.44" r="2.9"/><circle cx="203.22" cy="65.25" r="2.9"/><circle cx="210.39" cy="68.96" r="2.9"/><circle cx="217.55" cy="72.55" r="2.9"/><circle cx="231.88" cy="78.12" r="2.9"/><circle cx="246.20" cy="84.03" r="2.9"/><circle cx="260.52" cy="89.85" r="2.9"/><circle cx="274.85" cy="95.42" r="2.9"/><circle cx="303.50" cy="106.83" r="2.9"/></g>
<path d="M52.35 25.15V398H321.55" fill="none" stroke="#111" stroke-width="1.45"/>
<path d="M52.35 398v4M119.65 398v4M186.95 398v4M254.25 398v4M321.55 398v4M52.35 398h-4M52.35 335.86h-4M52.35 273.72h-4M52.35 211.57h-4M52.35 149.43h-4M52.35 87.29h-4M52.35 25.15h-4" stroke="#111" stroke-width="1.1" fill="none"/>
<text x="52.35" y="420.1" font-size="16" text-anchor="middle" >0</text>
<text x="119.65" y="420.1" font-size="16" text-anchor="middle" >2</text>
<text x="186.95" y="420.1" font-size="16" text-anchor="middle" >4</text>
<text x="254.25" y="420.1" font-size="16" text-anchor="middle" >6</text>
<text x="321.55" y="420.1" font-size="16" text-anchor="middle" >8</text>
<text x="44.35" y="403.3" font-size="16" text-anchor="end" >0</text>
<text x="44.35" y="341.16" font-size="16" text-anchor="end" >2</text>
<text x="44.35" y="279.02" font-size="16" text-anchor="end" >4</text>
<text x="44.35" y="216.88" font-size="16" text-anchor="end" >6</text>
<text x="44.35" y="154.73" font-size="16" text-anchor="end" >8</text>
<text x="44.35" y="92.59" font-size="16" text-anchor="end" >10</text>
<text x="44.35" y="30.45" font-size="16" text-anchor="end" >12</text>
<text x="186.95" y="439.3" font-size="16" text-anchor="middle" font-weight="bold" >Time [h]</text>
<text transform="translate(21.05,211.58) rotate(-90)" font-size="16" font-weight="bold" text-anchor="middle">Amikacin concentration [ng/mL]</text>
<text x="25.6" y="11.45" font-size="16" text-anchor="start" font-weight="bold" >(a)</text>
<path d="M54.8 13.35l7.4 7.2M54.8 20.55l7.4 -7.2" stroke="#000" stroke-width="1.05" fill="none"/>
<text x="65.35" y="21.05" font-size="16" text-anchor="start" >10</text>
<text x="83.95" y="13.35" font-size="11.5" text-anchor="start" >4</text>
<path d="M188.9 35.3V150.5H303.5" fill="none" stroke="#111" stroke-width="1.45"/>
<path d="M188.9 150.5v1.6M246.2 150.5v1.6M303.5 150.5v1.6M188.9 150.5h-2.0M188.9 139.58h-1.6M188.9 133.19h-1.6M188.9 128.66h-1.6M188.9 125.15h-1.6M188.9 122.28h-1.6M188.9 119.85h-1.6M188.9 117.74h-1.6M188.9 115.89h-1.6M188.9 114.23h-2.0M188.9 103.31h-1.6M188.9 96.92h-1.6M188.9 92.39h-1.6M188.9 88.88h-1.6M188.9 86h-1.6M188.9 83.58h-1.6M188.9 81.47h-1.6M188.9 79.62h-1.6M188.9 77.96h-2.0M188.9 67.04h-1.6M188.9 60.65h-1.6M188.9 56.12h-1.6M188.9 52.61h-1.6M188.9 49.73h-1.6M188.9 47.31h-1.6M188.9 45.2h-1.6M188.9 43.35h-1.6M188.9 41.69h-2.0" stroke="#111" stroke-width="1" fill="none"/>
<text x="188.9" y="169.8" font-size="16" text-anchor="middle" >0</text>
<text x="246.2" y="169.8" font-size="16" text-anchor="middle" >4</text>
<text x="303.5" y="169.8" font-size="16" text-anchor="middle" >8</text>
<text x="176.7" y="158.6" font-size="16" text-anchor="end" >10</text>
<text x="183.7" y="150.6" font-size="12" text-anchor="end" >2</text>
<text x="176.7" y="122.33" font-size="16" text-anchor="end" >10</text>
<text x="183.7" y="114.33" font-size="12" text-anchor="end" >3</text>
<text x="176.7" y="86.06" font-size="16" text-anchor="end" >10</text>
<text x="183.7" y="78.06" font-size="12" text-anchor="end" >4</text>
<clipPath id="clipbm"><rect x="406.8" y="24.65" width="269.7" height="372.85"/></clipPath>
<g clip-path="url(#clipbm)"><path d="M406.8 -174.8 407.7 -174.7 407.6 -173.9 407.6 -172.9 407.6 -171.9 407.6 -170.9 407.6 -169.9 407.6 -168.9 407.7 -167.9" fill="none" stroke="#cfe7fb" stroke-width="0.9" stroke-linecap="round" stroke-linejoin="round"/><path d="M407.7 -167.9 407.7 -166.9 407.7 -165.9 407.7 -164.9 407.7 -163.9 407.7 -162.9 407.7 -161.9 407.7 -160.9 407.7 -159.9" fill="none" stroke="#cfe7fb" stroke-width="0.9" stroke-linecap="round" stroke-linejoin="round"/><path d="M407.7 -159.9 407.7 -158.9 407.7 -157.9 407.7 -156.9 407.7 -155.9 407.7 -154.9 407.7 -153.9 407.7 -152.9 407.7 -151.9" fill="none" stroke="#cfe7fb" stroke-width="1.0" stroke-linecap="round" stroke-linejoin="round"/><path d="M407.7 -151.9 407.7 -150.9 407.7 -149.9 407.7 -148.9 407.7 -147.9 407.7 -146.9 407.7 -145.9 407.7 -144.9 407.7 -143.9" fill="none" stroke="#cfe7fb" stroke-width="1.0" stroke-linecap="round" stroke-linejoin="round"/><path d="M407.7 -143.9 407.7 -142.9 407.7 -141.9 407.7 -140.9 407.7 -139.9 407.7 -138.9 407.7 -137.9 407.7 -136.9 407.7 -135.9" fill="none" stroke="#cfe7fb" stroke-width="1.0" stroke-linecap="round" stroke-linejoin="round"/><path d="M407.7 -135.9 407.7 -134.9 407.7 -133.9 407.7 -132.9 407.7 -131.9 407.8 -130.9 407.8 -129.9 407.8 -128.9 407.8 -127.9" fill="none" stroke="#cfe7fb" stroke-width="1.0" stroke-linecap="round" stroke-linejoin="round"/><path d="M407.8 -127.9 407.8 -126.9 407.8 -125.9 407.8 -124.9 407.8 -123.9 407.8 -122.9 407.8 -121.9 407.8 -120.9 407.8 -119.9" fill="none" stroke="#cfe7fb" stroke-width="1.0" stroke-linecap="round" stroke-linejoin="round"/><path d="M407.8 -119.9 407.8 -118.9 407.8 -117.9 407.8 -116.9 407.8 -115.9 407.8 -114.9 407.8 -113.9 407.8 -112.9 407.8 -111.9" fill="none" stroke="#cfe7fb" stroke-width="1.0" stroke-linecap="round" stroke-linejoin="round"/><path d="M407.8 -111.9 407.8 -110.9 407.8 -109.9 407.8 -108.9 407.8 -107.9 407.8 -106.9 407.8 -105.9 407.8 -104.9 407.8 -103.9" fill="none" stroke="#cfe7fb" stroke-width="1.0" stroke-linecap="round" stroke-linejoin="round"/><path d="M407.8 -103.9 407.8 -102.9 407.8 -101.9 407.8 -100.9 407.8 -99.9 407.8 -98.9 407.9 -97.9 407.9 -96.9 407.9 -95.9" fill="none" stroke="#cfe7fb" stroke-width="1.0" stroke-linecap="round" stroke-linejoin="round"/><path d="M407.9 -95.9 407.9 -94.9 407.9 -93.9 407.9 -92.9 407.9 -91.9 407.9 -90.9 407.9 -89.9 407.9 -88.9 407.9 -87.9" fill="none" stroke="#cfe7fb" stroke-width="1.0" stroke-linecap="round" stroke-linejoin="round"/><path d="M407.9 -87.9 407.9 -86.9 407.9 -85.9 407.9 -84.9 407.9 -83.9 407.9 -82.9 407.9 -81.9 407.9 -80.9 407.9 -79.9" fill="none" stroke="#cfe7fb" stroke-width="1.1" stroke-linecap="round" stroke-linejoin="round"/><path d="M407.9 -79.9 407.9 -78.9 407.9 -77.9 407.9 -76.9 407.9 -75.9 407.9 -74.9 407.9 -74.0 407.9 -73.0 407.9 -72.0" fill="none" stroke="#cfe7fb" stroke-width="1.1" stroke-linecap="round" stroke-linejoin="round"/><path d="M407.9 -72.0 407.9 -71.0 408.0 -70.0 408.0 -69.0 408.0 -68.0 408.0 -67.0 408.0 -66.0 408.0 -65.0 408.0 -64.0" fill="none" stroke="#cfe7fb" stroke-width="1.1" stroke-linecap="round" stroke-linejoin="round"/><path d="M408.0 -64.0 408.0 -63.0 408.0 -62.0 408.0 -61.0 408.0 -60.0 408.0 -59.0 408.0 -58.0 408.0 -57.0 408.0 -56.0" fill="none" stroke="#cfe7fb" stroke-width="1.1" stroke-linecap="round" stroke-linejoin="round"/><path d="M408.0 -56.0 408.0 -55.0 408.0 -54.0 408.0 -53.0 408.0 -52.0 408.0 -51.0 408.0 -50.0 408.0 -49.0 408.0 -48.0" fill="none" stroke="#cfe7fb" stroke-width="1.1" stroke-linecap="round" stroke-linejoin="round"/><path d="M408.0 -48.0 408.0 -47.0 408.0 -46.0 408.1 -45.0 408.1 -44.0 408.1 -43.0 408.1 -42.0 408.1 -41.0 408.1 -40.0" fill="none" stroke="#cfe7fb" stroke-width="1.1" stroke-linecap="round" stroke-linejoin="round"/><path d="M408.1 -40.0 408.1 -39.0 408.1 -38.0 408.1 -37.0 408.1 -36.0 408.1 -35.0 408.1 -34.0 408.1 -33.0 408.1 -32.0" fill="none" stroke="#cfe7fb" stroke-width="1.2" stroke-linecap="round" stroke-linejoin="round"/><path d="M408.1 -32.0 408.1 -31.0 408.1 -30.0 408.1 -29.0 408.1 -28.0 408.1 -27.0 408.1 -26.0 408.1 -25.0 408.2 -24.0" fill="none" stroke="#cfe7fb" stroke-width="1.2" stroke-linecap="round" stroke-linejoin="round"/><path d="M408.2 -24.0 408.2 -23.0 408.2 -22.0 408.2 -21.0 408.2 -20.0 408.2 -19.0 408.2 -18.0 408.2 -17.0 408.2 -16.0" fill="none" stroke="#cfe7fb" stroke-width="1.2" stroke-linecap="round" stroke-linejoin="round"/><path d="M408.2 -16.0 408.2 -15.0 408.2 -14.0 408.2 -13.0 408.2 -12.0 408.2 -11.0 408.2 -10.0 408.2 -9.0 408.2 -8.0" fill="none" stroke="#cfe7fb" stroke-width="1.2" stroke-linecap="round" stroke-linejoin="round"/><path d="M408.2 -8.0 408.2 -7.0 408.3 -6.0 408.3 -5.0 408.3 -4.0 408.3 -3.0 408.3 -2.0 408.3 -1.0 408.3 -0.0" fill="none" stroke="#cfe7fb" stroke-width="1.2" stroke-linecap="round" stroke-linejoin="round"/><path d="M408.3 -0.0 408.3 1.0 408.3 2.0 408.3 3.0 408.3 4.0 408.3 5.0 408.3 6.0 408.3 7.0 408.3 8.0" fill="none" stroke="#cfe7fb" stroke-width="1.3" stroke-linecap="round" stroke-linejoin="round"/><path d="M408.3 8.0 408.3 9.0 408.4 10.0 408.4 11.0 408.4 12.0 408.4 13.0 408.4 14.0 408.4 15.0 408.4 16.0" fill="none" stroke="#cfe7fb" stroke-width="1.3" stroke-linecap="round" stroke-linejoin="round"/><path d="M408.4 16.0 408.4 17.0 408.4 18.0 408.4 19.0 408.4 20.0 408.4 21.0 408.4 22.0 408.5 23.0 408.5 24.0" fill="none" stroke="#cfe7fb" stroke-width="1.3" stroke-linecap="round" stroke-linejoin="round"/><path d="M408.5 24.0 408.5 25.0 408.5 26.0 408.5 27.0 408.5 28.0 408.5 29.0 408.5 30.0 408.5 31.0 408.5 32.0" fill="none" stroke="#cfe7fb" stroke-width="1.4" stroke-linecap="round" stroke-linejoin="round"/><path d="M408.5 32.0 408.5 33.0 408.6 34.0 408.6 35.0 408.6 36.0 408.6 37.0 408.6 37.9 408.6 38.9 408.6 39.9" fill="none" stroke="#cfe7fb" stroke-width="1.4" stroke-linecap="round" stroke-linejoin="round"/><path d="M408.6 39.9 408.6 40.9 408.6 41.9 408.7 42.9 408.7 43.9 408.7 44.9 408.7 45.9 408.7 46.9 408.7 47.9" fill="none" stroke="#cfe7fb" stroke-width="1.4" stroke-linecap="round" stroke-linejoin="round"/><path d="M408.7 47.9 408.7 48.9 408.8 49.9 408.8 50.9 408.8 51.9 408.8 52.9 408.8 53.9 408.8 54.9 408.9 55.9" fill="none" stroke="#cfe7fb" stroke-width="1.5" stroke-linecap="round" stroke-linejoin="round"/><path d="M408.9 55.9 408.9 56.9 408.9 57.9 408.9 58.9 408.9 59.9 408.9 60.9 409.0 61.9 409.0 62.9 409.0 63.9" fill="none" stroke="#cfe7fb" stroke-width="1.6" stroke-linecap="round" stroke-linejoin="round"/><path d="M409.0 63.9 409.0 64.9 409.0 65.9 409.0 66.9 409.0 67.9 409.1 68.9 409.1 69.9 409.1 70.9 409.1 71.9" fill="none" stroke="#cfe7fb" stroke-width="1.6" stroke-linecap="round" stroke-linejoin="round"/><path d="M409.1 71.9 409.1 72.9 409.1 73.9 409.1 74.9 409.2 75.9 409.2 76.9 409.2 77.9 409.2 78.9 409.2 79.9" fill="none" stroke="#cfe7fb" stroke-width="1.7" stroke-linecap="round" stroke-linejoin="round"/><path d="M409.2 79.9 409.2 80.9 409.2 81.9 409.2 82.9 409.2 83.9 409.3 84.9 409.3 85.9 409.3 86.9 409.3 87.9" fill="none" stroke="#cfe7fb" stroke-width="1.7" stroke-linecap="round" stroke-linejoin="round"/><path d="M409.3 87.9 409.3 88.9 409.3 89.9 409.3 90.9 409.3 91.9 409.3 92.9 409.3 93.9 409.3 94.9 409.4 95.9" fill="none" stroke="#cfe7fb" stroke-width="1.8" stroke-linecap="round" stroke-linejoin="round"/><path d="M409.4 95.9 409.4 96.9 409.4 97.9 409.4 98.9 409.4 99.9 409.4 100.9 409.4 101.9 409.4 102.9 409.4 103.9" fill="none" stroke="#cfe7fb" stroke-width="1.8" stroke-linecap="round" stroke-linejoin="round"/><path d="M409.4 103.9 409.4 104.9 409.4 105.9 409.4 106.9 409.5 107.9 409.5 108.9 409.5 109.9 409.5 110.9 409.5 111.9" fill="none" stroke="#cfe7fb" stroke-width="1.8" stroke-linecap="round" stroke-linejoin="round"/><path d="M409.5 111.9 409.5 112.9 409.5 113.9 409.5 114.9 409.5 115.9 409.5 116.9 409.5 117.9 409.5 118.9 409.6 119.9" fill="none" stroke="#cfe7fb" stroke-width="1.9" stroke-linecap="round" stroke-linejoin="round"/><path d="M409.6 119.9 409.6 120.9 409.6 121.9 409.6 122.9 409.6 123.9 409.6 124.9 409.6 125.9 409.6 126.9 409.6 127.9" fill="none" stroke="#cfe7fb" stroke-width="1.9" stroke-linecap="round" stroke-linejoin="round"/><path d="M409.6 127.9 409.6 128.9 409.7 129.9 409.7 130.9 409.7 131.9 409.7 132.9 409.7 133.9 409.7 134.9 409.7 135.9" fill="none" stroke="#cfe7fb" stroke-width="2.1" stroke-linecap="round" stroke-linejoin="round"/><path d="M409.7 135.9 409.8 136.9 409.8 137.9 409.8 138.9 409.8 139.9 409.8 140.9 409.8 141.9 409.9 142.8 409.9 143.8" fill="none" stroke="#cfe7fb" stroke-width="2.5" stroke-linecap="round" stroke-linejoin="round"/><path d="M409.9 143.8 409.9 144.8 409.9 145.8 409.9 146.8 409.9 147.8 410.0 148.8 410.0 149.8 410.0 150.8 410.0 151.8" fill="none" stroke="#cfe7fb" stroke-width="3.0" stroke-linecap="round" stroke-linejoin="round"/><path d="M410.0 151.8 410.0 152.8 410.1 153.8 410.1 154.8 410.1 155.8 410.1 156.8 410.1 157.8 410.2 158.8 410.2 159.8" fill="none" stroke="#cfe7fb" stroke-width="3.6" stroke-linecap="round" stroke-linejoin="round"/><path d="M410.2 159.8 410.2 160.8 410.2 161.8 410.3 162.8 410.3 163.8 410.3 164.8 410.3 165.8 410.4 166.8 410.4 167.8" fill="none" stroke="#cfe7fb" stroke-width="4.2" stroke-linecap="round" stroke-linejoin="round"/><path d="M410.4 167.8 410.4 168.8 410.4 169.8 410.5 170.8 410.5 171.8 410.5 172.8 410.5 173.8 410.6 174.8 410.6 175.8" fill="none" stroke="#cfe7fb" stroke-width="4.9" stroke-linecap="round" stroke-linejoin="round"/><path d="M410.6 175.8 410.6 176.8 410.7 177.8 410.7 178.8 410.7 179.8 410.7 180.8 410.8 181.8 410.8 182.8 410.8 183.8" fill="none" stroke="#cfe7fb" stroke-width="5.7" stroke-linecap="round" stroke-linejoin="round"/><path d="M410.8 183.8 410.9 184.8 410.9 185.8 410.9 186.8 410.9 187.8 411.0 188.8 411.0 189.8 411.0 190.8 411.1 191.8" fill="none" stroke="#cfe7fb" stroke-width="6.5" stroke-linecap="round" stroke-linejoin="round"/><path d="M411.1 191.8 411.1 192.8 411.2 193.8 411.2 194.8 411.3 195.8 411.3 196.8 411.4 197.8 411.4 198.8 411.5 199.8" fill="none" stroke="#cfe7fb" stroke-width="7.6" stroke-linecap="round" stroke-linejoin="round"/><path d="M411.5 199.8 411.5 200.8 411.6 201.8 411.7 202.8 411.8 203.8 411.8 204.8 411.9 205.8 412.0 206.8 412.1 207.8" fill="none" stroke="#cfe7fb" stroke-width="9.0" stroke-linecap="round" stroke-linejoin="round"/><path d="M412.1 207.8 412.2 208.8 412.4 209.8 412.5 210.8 412.6 211.7 412.7 212.7 412.9 213.7 413.0 214.7 413.1 215.7" fill="none" stroke="#cfe7fb" stroke-width="10.0" stroke-linecap="round" stroke-linejoin="round"/><path d="M413.1 215.7 413.3 216.7 413.4 217.7 413.6 218.7 413.8 219.7 413.9 220.6 414.1 221.6 414.3 222.6 414.5 223.6" fill="none" stroke="#cfe7fb" stroke-width="11.4" stroke-linecap="round" stroke-linejoin="round"/><path d="M414.5 223.6 414.7 224.6 415.0 225.5 415.2 226.5 415.4 227.5 415.7 228.4 415.9 229.4 416.2 230.4 416.4 231.3" fill="none" stroke="#cfe7fb" stroke-width="13.3" stroke-linecap="round" stroke-linejoin="round"/><path d="M416.4 231.3 416.7 232.3 417.0 233.3 417.2 234.2 417.5 235.2 417.7 236.2 418.0 237.2 418.1 238.1 418.3 239.1" fill="none" stroke="#cfe7fb" stroke-width="15.4" stroke-linecap="round" stroke-linejoin="round"/><path d="M418.3 239.1 418.5 240.1 418.7 241.1 418.9 242.0 419.1 243.0 419.3 244.0 419.5 245.0 419.7 245.9 419.9 246.9" fill="none" stroke="#cfe7fb" stroke-width="16.3" stroke-linecap="round" stroke-linejoin="round"/><path d="M419.9 246.9 420.2 247.9 420.4 248.8 420.7 249.8 420.9 250.7 421.2 251.7 421.5 252.6 421.8 253.6 422.1 254.5" fill="none" stroke="#cfe7fb" stroke-width="16.8" stroke-linecap="round" stroke-linejoin="round"/><path d="M422.1 254.5 422.4 255.5 422.7 256.4 423.0 257.3 423.4 258.3 423.7 259.2 424.1 260.1 424.4 261.1 424.8 262.0" fill="none" stroke="#cfe7fb" stroke-width="17.5" stroke-linecap="round" stroke-linejoin="round"/><path d="M424.8 262.0 425.1 262.9 425.5 263.9 425.9 264.8 426.3 265.7 426.6 266.6 427.0 267.5 427.4 268.4 427.8 269.4" fill="none" stroke="#cfe7fb" stroke-width="18.2" stroke-linecap="round" stroke-linejoin="round"/><path d="M427.8 269.4 428.2 270.3 428.7 271.2 429.1 272.1 429.5 273.0 429.9 273.9 430.4 274.8 430.8 275.7 431.2 276.6" fill="none" stroke="#cfe7fb" stroke-width="19.1" stroke-linecap="round" stroke-linejoin="round"/><path d="M431.2 276.6 431.7 277.5 432.1 278.4 432.5 279.3 433.0 280.2 433.4 281.1 433.9 281.9 434.3 282.8 434.8 283.7" fill="none" stroke="#cfe7fb" stroke-width="20.0" stroke-linecap="round" stroke-linejoin="round"/><path d="M434.8 283.7 435.2 284.6 435.7 285.5 436.2 286.4 436.6 287.3 437.1 288.1 437.6 289.0 438.1 289.9 438.6 290.7" fill="none" stroke="#cfe7fb" stroke-width="21.0" stroke-linecap="round" stroke-linejoin="round"/><path d="M438.6 290.7 439.1 291.6 439.7 292.4 440.2 293.3 440.8 294.1 441.3 294.9 441.9 295.7 442.5 296.5 443.1 297.3" fill="none" stroke="#cfe7fb" stroke-width="21.9" stroke-linecap="round" stroke-linejoin="round"/><path d="M443.1 297.3 443.7 298.1 444.3 298.9 445.0 299.7 445.6 300.5 446.2 301.3 446.8 302.0 447.5 302.8 448.1 303.6" fill="none" stroke="#cfe7fb" stroke-width="22.1" stroke-linecap="round" stroke-linejoin="round"/><path d="M448.1 303.6 448.7 304.4 449.3 305.2 449.9 306.0 450.5 306.8 451.1 307.6 451.7 308.4 452.4 309.1 453.0 309.9" fill="none" stroke="#cfe7fb" stroke-width="22.2" stroke-linecap="round" stroke-linejoin="round"/><path d="M453.0 309.9 453.6 310.7 454.2 311.5 454.9 312.3 455.5 313.1 456.2 313.8 456.9 314.6 457.6 315.3 458.3 316.1" fill="none" stroke="#cfe7fb" stroke-width="22.2" stroke-linecap="round" stroke-linejoin="round"/><path d="M458.3 316.1 459.0 316.8 459.7 317.5 460.4 318.2 461.1 318.9 461.9 319.6 462.6 320.3 463.4 321.0 464.1 321.7" fill="none" stroke="#cfe7fb" stroke-width="22.3" stroke-linecap="round" stroke-linejoin="round"/><path d="M464.1 321.7 464.9 322.3 465.7 323.0 466.4 323.7 467.2 324.3 468.1 325.0 468.9 325.6 469.7 326.2 470.5 326.8" fill="none" stroke="#cfe7fb" stroke-width="22.4" stroke-linecap="round" stroke-linejoin="round"/><path d="M470.5 326.8 471.4 327.3 472.2 327.9 473.0 328.5 473.8 329.0 474.6 329.6 475.4 330.1 476.2 330.7 477.0 331.3" fill="none" stroke="#cfe7fb" stroke-width="22.4" stroke-linecap="round" stroke-linejoin="round"/><path d="M477.0 331.3 477.8 331.8 478.6 332.4 479.5 333.0 480.3 333.6 481.1 334.1 481.9 334.7 482.8 335.3 483.6 335.9" fill="none" stroke="#cfe7fb" stroke-width="22.1" stroke-linecap="round" stroke-linejoin="round"/><path d="M483.6 335.9 484.5 336.4 485.3 337.0 486.2 337.5 487.0 338.1 487.9 338.6 488.7 339.1 489.6 339.6 490.5 340.2" fill="none" stroke="#cfe7fb" stroke-width="21.8" stroke-linecap="round" stroke-linejoin="round"/><path d="M490.5 340.2 491.3 340.7 492.2 341.2 493.1 341.7 494.0 342.2 494.8 342.7 495.7 343.2 496.6 343.7 497.5 344.1" fill="none" stroke="#cfe7fb" stroke-width="21.4" stroke-linecap="round" stroke-linejoin="round"/><path d="M497.5 344.1 498.4 344.6 499.2 345.1 500.1 345.6 501.0 346.0 501.9 346.5 502.8 347.0 503.7 347.5 504.5 347.9" fill="none" stroke="#cfe7fb" stroke-width="21.1" stroke-linecap="round" stroke-linejoin="round"/><path d="M504.5 347.9 505.4 348.4 506.3 348.9 507.2 349.3 508.1 349.8 509.0 350.3 509.9 350.7 510.8 351.2 511.7 351.6" fill="none" stroke="#cfe7fb" stroke-width="20.7" stroke-linecap="round" stroke-linejoin="round"/><path d="M511.7 351.6 512.5 352.1 513.4 352.6 514.3 353.0 515.2 353.5 516.1 353.9 517.0 354.4 517.9 354.8 518.8 355.3" fill="none" stroke="#cfe7fb" stroke-width="20.4" stroke-linecap="round" stroke-linejoin="round"/><path d="M518.8 355.3 519.7 355.7 520.6 356.1 521.5 356.6 522.4 357.0 523.3 357.5 524.2 357.9 525.1 358.3 526.0 358.8" fill="none" stroke="#cfe7fb" stroke-width="20.0" stroke-linecap="round" stroke-linejoin="round"/><path d="M526.0 358.8 526.9 359.2 527.8 359.7 528.7 360.1 529.6 360.6 530.5 361.0 531.4 361.4 532.3 361.9 533.2 362.3" fill="none" stroke="#cfe7fb" stroke-width="19.7" stroke-linecap="round" stroke-linejoin="round"/><path d="M533.2 362.3 534.2 362.7 535.1 363.1 536.0 363.5 537.0 363.9 537.9 364.3 538.9 364.7 539.8 365.0 540.8 365.4" fill="none" stroke="#cfe7fb" stroke-width="19.3" stroke-linecap="round" stroke-linejoin="round"/><path d="M540.8 365.4 541.7 365.7 542.7 366.0 543.7 366.2 544.7 366.5 545.6 366.8 546.6 367.1 547.6 367.3 548.6 367.6" fill="none" stroke="#cfe7fb" stroke-width="18.6" stroke-linecap="round" stroke-linejoin="round"/><path d="M548.6 367.6 549.5 367.8 550.5 368.1 551.5 368.3 552.5 368.5 553.4 368.8 554.4 369.0 555.4 369.2 556.4 369.4" fill="none" stroke="#cfe7fb" stroke-width="17.6" stroke-linecap="round" stroke-linejoin="round"/><path d="M556.4 369.4 557.3 369.7 558.3 369.9 559.3 370.1 560.3 370.3 561.3 370.5 562.2 370.7 563.2 371.0 564.2 371.2" fill="none" stroke="#cfe7fb" stroke-width="16.7" stroke-linecap="round" stroke-linejoin="round"/><path d="M564.2 371.2 565.2 371.4 566.2 371.6 567.1 371.8 568.1 372.0 569.1 372.1 570.1 372.3 571.1 372.5 572.1 372.7" fill="none" stroke="#cfe7fb" stroke-width="15.7" stroke-linecap="round" stroke-linejoin="round"/><path d="M572.1 372.7 573.1 372.9 574.0 373.1 575.0 373.2 576.0 373.4 577.0 373.6 578.0 373.7 579.0 373.9 580.0 374.0" fill="none" stroke="#cfe7fb" stroke-width="14.7" stroke-linecap="round" stroke-linejoin="round"/><path d="M580.0 374.0 581.0 374.2 581.9 374.3 582.9 374.5 583.9 374.6 584.9 374.8 585.9 374.9 586.9 375.0 587.9 375.2" fill="none" stroke="#cfe7fb" stroke-width="13.7" stroke-linecap="round" stroke-linejoin="round"/><path d="M587.9 375.2 588.9 375.3 589.9 375.5 590.9 375.6 591.9 375.7 592.8 375.8 593.8 376.0 594.8 376.1 595.8 376.2" fill="none" stroke="#cfe7fb" stroke-width="12.6" stroke-linecap="round" stroke-linejoin="round"/><path d="M595.8 376.2 596.8 376.4 597.8 376.5 598.8 376.6 599.8 376.7 600.8 376.9 601.8 377.0 602.8 377.1 603.8 377.2" fill="none" stroke="#cfe7fb" stroke-width="11.6" stroke-linecap="round" stroke-linejoin="round"/><path d="M603.8 377.2 604.7 377.4 605.7 377.5 606.7 377.6 607.7 377.7 608.7 377.9 609.7 378.0 610.7 378.2 611.7 378.3" fill="none" stroke="#cfe7fb" stroke-width="10.7" stroke-linecap="round" stroke-linejoin="round"/><path d="M611.7 378.3 612.7 378.5 613.6 378.6 614.6 378.8 615.6 378.9 616.6 379.1 617.6 379.2 618.6 379.4 619.6 379.5" fill="none" stroke="#cfe7fb" stroke-width="10.2" stroke-linecap="round" stroke-linejoin="round"/><path d="M619.6 379.5 620.6 379.7 621.5 379.8 622.5 380.0 623.5 380.1 624.5 380.3 625.5 380.4 626.5 380.6 627.5 380.7" fill="none" stroke="#cfe7fb" stroke-width="9.8" stroke-linecap="round" stroke-linejoin="round"/><path d="M627.5 380.7 628.5 380.8 629.5 381.0 630.4 381.1 631.4 381.3 632.4 381.4 633.4 381.5 634.4 381.7 635.4 381.8" fill="none" stroke="#cfe7fb" stroke-width="9.4" stroke-linecap="round" stroke-linejoin="round"/><path d="M635.4 381.8 636.4 382.0 637.4 382.1 638.4 382.2 639.3 382.4 640.3 382.5 641.3 382.6 642.3 382.8 643.3 382.9" fill="none" stroke="#cfe7fb" stroke-width="9.0" stroke-linecap="round" stroke-linejoin="round"/><path d="M643.3 382.9 644.3 383.0 645.3 383.1 646.3 383.3 647.3 383.4 648.3 383.5 649.3 383.6 650.2 383.8 651.2 383.9" fill="none" stroke="#cfe7fb" stroke-width="8.6" stroke-linecap="round" stroke-linejoin="round"/><path d="M651.2 383.9 652.2 384.0 653.2 384.1 654.2 384.3 655.2 384.4 656.2 384.5 657.2 384.6 658.2 384.7 659.2 384.9" fill="none" stroke="#cfe7fb" stroke-width="8.2" stroke-linecap="round" stroke-linejoin="round"/><path d="M659.2 384.9 660.2 385.0 661.2 385.1 662.1 385.2 663.1 385.3 664.1 385.4 665.1 385.5 666.1 385.7 667.1 385.8" fill="none" stroke="#cfe7fb" stroke-width="7.8" stroke-linecap="round" stroke-linejoin="round"/><path d="M667.1 385.8 668.1 385.9 669.1 386.0 670.1 386.1 671.1 386.2 672.1 386.3 673.1 386.4 674.1 386.5 675.0 386.6" fill="none" stroke="#cfe7fb" stroke-width="7.4" stroke-linecap="round" stroke-linejoin="round"/><path d="M675.0 386.6 676.0 386.7" fill="none" stroke="#cfe7fb" stroke-width="7.2" stroke-linecap="round" stroke-linejoin="round"/><path d="M406.8 -174.8 407.8 -174.8 407.8 -173.9 407.8 -172.9 407.8 -171.9 407.8 -170.9 407.8 -169.9 407.8 -168.9 407.8 -167.9" fill="none" stroke="#8d9fd3" stroke-width="0.5" stroke-linecap="round" stroke-linejoin="round"/><path d="M407.8 -167.9 407.8 -166.9 407.8 -165.9 407.8 -164.9 407.8 -163.9 407.8 -162.9 407.8 -161.9 407.8 -160.9 407.8 -159.9" fill="none" stroke="#8d9fd3" stroke-width="0.5" stroke-linecap="round" stroke-linejoin="round"/><path d="M407.8 -159.9 407.9 -158.9 407.9 -157.9 407.9 -156.9 407.9 -155.9 407.9 -154.9 407.9 -153.9 407.9 -152.9 407.9 -151.9" fill="none" stroke="#8d9fd3" stroke-width="0.5" stroke-linecap="round" stroke-linejoin="round"/><path d="M407.9 -151.9 407.9 -150.9 407.9 -149.9 407.9 -148.9 407.9 -147.9 407.9 -146.9 407.9 -145.9 407.9 -144.9 407.9 -143.9" fill="none" stroke="#8d9fd3" stroke-width="0.5" stroke-linecap="round" stroke-linejoin="round"/><path d="M407.9 -143.9 407.9 -142.9 407.9 -141.9 407.9 -140.9 407.9 -139.9 407.9 -138.9 407.9 -137.9 407.9 -136.9 407.9 -135.9" fill="none" stroke="#8d9fd3" stroke-width="0.5" stroke-linecap="round" stroke-linejoin="round"/><path d="M407.9 -135.9 407.9 -134.9 407.9 -133.9 407.9 -132.9 407.9 -131.9 407.9 -130.9 407.9 -129.9 407.9 -128.9 408.0 -127.9" fill="none" stroke="#8d9fd3" stroke-width="0.5" stroke-linecap="round" stroke-linejoin="round"/><path d="M408.0 -127.9 408.0 -126.9 408.0 -125.9 408.0 -124.9 408.0 -123.9 408.0 -122.9 408.0 -121.9 408.0 -120.9 408.0 -119.9" fill="none" stroke="#8d9fd3" stroke-width="0.5" stroke-linecap="round" stroke-linejoin="round"/><path d="M408.0 -119.9 408.0 -118.9 408.0 -117.9 408.0 -116.9 408.0 -115.9 408.0 -114.9 408.0 -113.9 408.0 -112.9 408.0 -111.9" fill="none" stroke="#8d9fd3" stroke-width="0.5" stroke-linecap="round" stroke-linejoin="round"/><path d="M408.0 -111.9 408.0 -110.9 408.0 -109.9 408.0 -108.9 408.0 -107.9 408.0 -106.9 408.0 -105.9 408.0 -104.9 408.0 -103.9" fill="none" stroke="#8d9fd3" stroke-width="0.5" stroke-linecap="round" stroke-linejoin="round"/><path d="M408.0 -103.9 408.0 -102.9 408.0 -101.9 408.0 -100.9 408.0 -99.9 408.1 -98.9 408.1 -97.9 408.1 -96.9 408.1 -95.9" fill="none" stroke="#8d9fd3" stroke-width="0.6" stroke-linecap="round" stroke-linejoin="round"/><path d="M408.1 -95.9 408.1 -94.9 408.1 -93.9 408.1 -92.9 408.1 -91.9 408.1 -90.9 408.1 -89.9 408.1 -88.9 408.1 -87.9" fill="none" stroke="#8d9fd3" stroke-width="0.6" stroke-linecap="round" stroke-linejoin="round"/><path d="M408.1 -87.9 408.1 -86.9 408.1 -85.9 408.1 -84.9 408.1 -83.9 408.1 -82.9 408.1 -81.9 408.1 -80.9 408.1 -79.9" fill="none" stroke="#8d9fd3" stroke-width="0.6" stroke-linecap="round" stroke-linejoin="round"/><path d="M408.1 -79.9 408.1 -78.9 408.1 -77.9 408.1 -76.9 408.1 -76.0 408.1 -75.0 408.2 -74.0 408.2 -73.0 408.2 -72.0" fill="none" stroke="#8d9fd3" stroke-width="0.6" stroke-linecap="round" stroke-linejoin="round"/><path d="M408.2 -72.0 408.2 -71.0 408.2 -70.0 408.2 -69.0 408.2 -68.0 408.2 -67.0 408.2 -66.0 408.2 -65.0 408.2 -64.0" fill="none" stroke="#8d9fd3" stroke-width="0.6" stroke-linecap="round" stroke-linejoin="round"/><path d="M408.2 -64.0 408.2 -63.0 408.2 -62.0 408.2 -61.0 408.2 -60.0 408.2 -59.0 408.2 -58.0 408.2 -57.0 408.2 -56.0" fill="none" stroke="#8d9fd3" stroke-width="0.6" stroke-linecap="round" stroke-linejoin="round"/><path d="M408.2 -56.0 408.2 -55.0 408.2 -54.0 408.2 -53.0 408.3 -52.0 408.3 -51.0 408.3 -50.0 408.3 -49.0 408.3 -48.0" fill="none" stroke="#8d9fd3" stroke-width="0.6" stroke-linecap="round" stroke-linejoin="round"/><path d="M408.3 -48.0 408.3 -47.0 408.3 -46.0 408.3 -45.0 408.3 -44.0 408.3 -43.0 408.3 -42.0 408.3 -41.0 408.3 -40.0" fill="none" stroke="#8d9fd3" stroke-width="0.6" stroke-linecap="round" stroke-linejoin="round"/><path d="M408.3 -40.0 408.3 -39.0 408.3 -38.0 408.3 -37.0 408.3 -36.0 408.3 -35.0 408.3 -34.0 408.3 -33.0 408.4 -32.0" fill="none" stroke="#8d9fd3" stroke-width="0.6" stroke-linecap="round" stroke-linejoin="round"/><path d="M408.4 -32.0 408.4 -31.0 408.4 -30.0 408.4 -29.0 408.4 -28.0 408.4 -27.0 408.4 -26.0 408.4 -25.0 408.4 -24.0" fill="none" stroke="#8d9fd3" stroke-width="0.6" stroke-linecap="round" stroke-linejoin="round"/><path d="M408.4 -24.0 408.4 -23.0 408.4 -22.0 408.4 -21.0 408.4 -20.0 408.4 -19.0 408.4 -18.0 408.4 -17.0 408.4 -16.0" fill="none" stroke="#8d9fd3" stroke-width="0.6" stroke-linecap="round" stroke-linejoin="round"/><path d="M408.4 -16.0 408.5 -15.0 408.5 -14.0 408.5 -13.0 408.5 -12.0 408.5 -11.0 408.5 -10.0 408.5 -9.0 408.5 -8.0" fill="none" stroke="#8d9fd3" stroke-width="0.6" stroke-linecap="round" stroke-linejoin="round"/><path d="M408.5 -8.0 408.5 -7.0 408.5 -6.0 408.5 -5.0 408.5 -4.0 408.5 -3.0 408.5 -2.0 408.5 -1.0 408.6 -0.0" fill="none" stroke="#8d9fd3" stroke-width="0.6" stroke-linecap="round" stroke-linejoin="round"/><path d="M408.6 -0.0 408.6 1.0 408.6 2.0 408.6 3.0 408.6 4.0 408.6 5.0 408.6 6.0 408.6 7.0 408.6 8.0" fill="none" stroke="#8d9fd3" stroke-width="0.6" stroke-linecap="round" stroke-linejoin="round"/><path d="M408.6 8.0 408.6 9.0 408.6 10.0 408.6 11.0 408.6 12.0 408.7 13.0 408.7 14.0 408.7 15.0 408.7 16.0" fill="none" stroke="#8d9fd3" stroke-width="0.6" stroke-linecap="round" stroke-linejoin="round"/><path d="M408.7 16.0 408.7 17.0 408.7 18.0 408.7 19.0 408.7 20.0 408.7 21.0 408.7 22.0 408.7 23.0 408.7 24.0" fill="none" stroke="#8d9fd3" stroke-width="0.6" stroke-linecap="round" stroke-linejoin="round"/><path d="M408.7 24.0 408.8 25.0 408.8 26.0 408.8 27.0 408.8 28.0 408.8 29.0 408.8 30.0 408.8 31.0 408.8 32.0" fill="none" stroke="#8d9fd3" stroke-width="0.6" stroke-linecap="round" stroke-linejoin="round"/><path d="M408.8 32.0 408.8 33.0 408.9 33.9 408.9 34.9 408.9 35.9 408.9 36.9 408.9 37.9 408.9 38.9 408.9 39.9" fill="none" stroke="#8d9fd3" stroke-width="0.7" stroke-linecap="round" stroke-linejoin="round"/><path d="M408.9 39.9 408.9 40.9 409.0 41.9 409.0 42.9 409.0 43.9 409.0 44.9 409.0 45.9 409.0 46.9 409.1 47.9" fill="none" stroke="#8d9fd3" stroke-width="0.7" stroke-linecap="round" stroke-linejoin="round"/><path d="M409.1 47.9 409.1 48.9 409.1 49.9 409.1 50.9 409.1 51.9 409.1 52.9 409.2 53.9 409.2 54.9 409.2 55.9" fill="none" stroke="#8d9fd3" stroke-width="0.7" stroke-linecap="round" stroke-linejoin="round"/><path d="M409.2 55.9 409.2 56.9 409.2 57.9 409.3 58.9 409.3 59.9 409.3 60.9 409.3 61.9 409.3 62.9 409.3 63.9" fill="none" stroke="#8d9fd3" stroke-width="0.7" stroke-linecap="round" stroke-linejoin="round"/><path d="M409.3 63.9 409.4 64.9 409.4 65.9 409.4 66.9 409.4 67.9 409.4 68.9 409.4 69.9 409.5 70.9 409.5 71.9" fill="none" stroke="#8d9fd3" stroke-width="0.7" stroke-linecap="round" stroke-linejoin="round"/><path d="M409.5 71.9 409.5 72.9 409.5 73.9 409.5 74.9 409.5 75.9 409.6 76.9 409.6 77.9 409.6 78.9 409.6 79.9" fill="none" stroke="#8d9fd3" stroke-width="0.7" stroke-linecap="round" stroke-linejoin="round"/><path d="M409.6 79.9 409.6 80.9 409.6 81.9 409.6 82.9 409.6 83.9 409.7 84.9 409.7 85.9 409.7 86.9 409.7 87.9" fill="none" stroke="#8d9fd3" stroke-width="0.7" stroke-linecap="round" stroke-linejoin="round"/><path d="M409.7 87.9 409.7 88.9 409.7 89.9 409.7 90.9 409.7 91.9 409.7 92.9 409.7 93.9 409.8 94.9 409.8 95.9" fill="none" stroke="#8d9fd3" stroke-width="0.8" stroke-linecap="round" stroke-linejoin="round"/><path d="M409.8 95.9 409.8 96.9 409.8 97.9 409.8 98.9 409.8 99.9 409.8 100.9 409.8 101.9 409.8 102.9 409.8 103.9" fill="none" stroke="#8d9fd3" stroke-width="0.8" stroke-linecap="round" stroke-linejoin="round"/><path d="M409.8 103.9 409.9 104.9 409.9 105.9 409.9 106.9 409.9 107.9 409.9 108.9 409.9 109.9 409.9 110.9 409.9 111.9" fill="none" stroke="#8d9fd3" stroke-width="0.8" stroke-linecap="round" stroke-linejoin="round"/><path d="M409.9 111.9 409.9 112.9 409.9 113.9 409.9 114.9 410.0 115.9 410.0 116.9 410.0 117.9 410.0 118.9 410.0 119.9" fill="none" stroke="#8d9fd3" stroke-width="0.8" stroke-linecap="round" stroke-linejoin="round"/><path d="M410.0 119.9 410.0 120.9 410.0 121.9 410.0 122.9 410.0 123.9 410.0 124.9 410.1 125.9 410.1 126.9 410.1 127.9" fill="none" stroke="#8d9fd3" stroke-width="0.8" stroke-linecap="round" stroke-linejoin="round"/><path d="M410.1 127.9 410.1 128.9 410.1 129.9 410.1 130.9 410.1 131.9 410.1 132.9 410.1 133.9 410.2 134.8 410.2 135.8" fill="none" stroke="#8d9fd3" stroke-width="0.9" stroke-linecap="round" stroke-linejoin="round"/><path d="M410.2 135.8 410.2 136.8 410.2 137.8 410.2 138.8 410.2 139.8 410.2 140.8 410.2 141.8 410.3 142.8 410.3 143.8" fill="none" stroke="#8d9fd3" stroke-width="1.0" stroke-linecap="round" stroke-linejoin="round"/><path d="M410.3 143.8 410.3 144.8 410.3 145.8 410.3 146.8 410.3 147.8 410.4 148.8 410.4 149.8 410.4 150.8 410.4 151.8" fill="none" stroke="#8d9fd3" stroke-width="1.2" stroke-linecap="round" stroke-linejoin="round"/><path d="M410.4 151.8 410.4 152.8 410.4 153.8 410.5 154.8 410.5 155.8 410.5 156.8 410.5 157.8 410.5 158.8 410.5 159.8" fill="none" stroke="#8d9fd3" stroke-width="1.4" stroke-linecap="round" stroke-linejoin="round"/><path d="M410.5 159.8 410.6 160.8 410.6 161.8 410.6 162.8 410.6 163.8 410.6 164.8 410.7 165.8 410.7 166.8 410.7 167.8" fill="none" stroke="#8d9fd3" stroke-width="1.6" stroke-linecap="round" stroke-linejoin="round"/><path d="M410.7 167.8 410.7 168.8 410.8 169.8 410.8 170.8 410.8 171.8 410.8 172.8 410.8 173.8 410.9 174.8 410.9 175.8" fill="none" stroke="#8d9fd3" stroke-width="1.8" stroke-linecap="round" stroke-linejoin="round"/><path d="M410.9 175.8 410.9 176.8 410.9 177.8 411.0 178.8 411.0 179.8 411.0 180.8 411.0 181.8 411.0 182.8 411.1 183.8" fill="none" stroke="#8d9fd3" stroke-width="2.1" stroke-linecap="round" stroke-linejoin="round"/><path d="M411.1 183.8 411.1 184.8 411.1 185.8 411.1 186.8 411.2 187.8 411.2 188.8 411.2 189.8 411.3 190.8 411.3 191.8" fill="none" stroke="#8d9fd3" stroke-width="2.3" stroke-linecap="round" stroke-linejoin="round"/><path d="M411.3 191.8 411.3 192.8 411.4 193.8 411.4 194.8 411.4 195.8 411.5 196.8 411.5 197.8 411.6 198.8 411.6 199.8" fill="none" stroke="#8d9fd3" stroke-width="2.7" stroke-linecap="round" stroke-linejoin="round"/><path d="M411.6 199.8 411.7 200.8 411.7 201.8 411.8 202.8 411.8 203.8 411.9 204.8 411.9 205.8 412.0 206.8 412.1 207.8" fill="none" stroke="#8d9fd3" stroke-width="3.3" stroke-linecap="round" stroke-linejoin="round"/><path d="M412.1 207.8 412.1 208.8 412.2 209.8 412.3 210.8 412.4 211.8 412.5 212.8 412.5 213.8 412.6 214.8 412.7 215.8" fill="none" stroke="#8d9fd3" stroke-width="4.0" stroke-linecap="round" stroke-linejoin="round"/><path d="M412.7 215.8 412.8 216.8 412.9 217.8 413.0 218.7 413.2 219.7 413.3 220.7 413.4 221.7 413.6 222.7 413.7 223.7" fill="none" stroke="#8d9fd3" stroke-width="4.8" stroke-linecap="round" stroke-linejoin="round"/><path d="M413.7 223.7 413.9 224.7 414.1 225.7 414.2 226.7 414.4 227.7 414.6 228.7 414.8 229.6 415.0 230.6 415.2 231.6" fill="none" stroke="#8d9fd3" stroke-width="4.9" stroke-linecap="round" stroke-linejoin="round"/><path d="M415.2 231.6 415.4 232.6 415.6 233.6 415.7 234.5 415.9 235.5 416.1 236.5 416.3 237.5 416.5 238.5 416.7 239.4" fill="none" stroke="#8d9fd3" stroke-width="5.0" stroke-linecap="round" stroke-linejoin="round"/><path d="M416.7 239.4 416.9 240.4 417.1 241.4 417.3 242.4 417.5 243.4 417.7 244.4 417.9 245.3 418.1 246.3 418.3 247.3" fill="none" stroke="#8d9fd3" stroke-width="5.1" stroke-linecap="round" stroke-linejoin="round"/><path d="M418.3 247.3 418.6 248.3 418.8 249.3 419.1 250.2 419.3 251.2 419.6 252.2 419.9 253.1 420.2 254.1 420.5 255.1" fill="none" stroke="#8d9fd3" stroke-width="5.2" stroke-linecap="round" stroke-linejoin="round"/><path d="M420.5 255.1 420.9 256.0 421.2 257.0 421.5 257.9 421.9 258.9 422.2 259.8 422.6 260.7 423.0 261.7 423.3 262.6" fill="none" stroke="#8d9fd3" stroke-width="5.3" stroke-linecap="round" stroke-linejoin="round"/><path d="M423.3 262.6 423.7 263.5 424.1 264.5 424.5 265.4 424.8 266.3 425.2 267.2 425.6 268.2 426.0 269.1 426.5 270.0" fill="none" stroke="#8d9fd3" stroke-width="5.5" stroke-linecap="round" stroke-linejoin="round"/><path d="M426.5 270.0 426.9 270.9 427.3 271.8 427.7 272.7 428.2 273.6 428.6 274.5 429.0 275.4 429.5 276.3 429.9 277.2" fill="none" stroke="#8d9fd3" stroke-width="5.7" stroke-linecap="round" stroke-linejoin="round"/><path d="M429.9 277.2 430.4 278.1 430.8 279.0 431.3 279.9 431.7 280.8 432.2 281.7 432.6 282.6 433.1 283.5 433.5 284.4" fill="none" stroke="#8d9fd3" stroke-width="5.9" stroke-linecap="round" stroke-linejoin="round"/><path d="M433.5 284.4 434.0 285.3 434.5 286.2 435.0 287.1 435.4 287.9 435.9 288.8 436.4 289.7 437.0 290.6 437.5 291.4" fill="none" stroke="#8d9fd3" stroke-width="6.2" stroke-linecap="round" stroke-linejoin="round"/><path d="M437.5 291.4 438.0 292.3 438.6 293.2 439.1 294.0 439.7 294.9 440.3 295.7 441.0 296.5 441.6 297.3 442.2 298.1" fill="none" stroke="#8d9fd3" stroke-width="6.4" stroke-linecap="round" stroke-linejoin="round"/><path d="M442.2 298.1 442.9 298.8 443.5 299.6 444.2 300.4 444.8 301.1 445.5 301.9 446.2 302.6 446.8 303.4 447.5 304.1" fill="none" stroke="#8d9fd3" stroke-width="6.4" stroke-linecap="round" stroke-linejoin="round"/><path d="M447.5 304.1 448.1 304.9 448.7 305.6 449.4 306.4 450.0 307.2 450.7 308.0 451.3 308.7 451.9 309.5 452.6 310.3" fill="none" stroke="#8d9fd3" stroke-width="6.4" stroke-linecap="round" stroke-linejoin="round"/><path d="M452.6 310.3 453.2 311.0 453.9 311.8 454.6 312.6 455.3 313.3 456.0 314.0 456.7 314.8 457.4 315.5 458.2 316.2" fill="none" stroke="#8d9fd3" stroke-width="6.4" stroke-linecap="round" stroke-linejoin="round"/><path d="M458.2 316.2 458.9 316.9 459.6 317.6 460.4 318.2 461.1 318.9 461.9 319.6 462.7 320.2 463.5 320.9 464.2 321.5" fill="none" stroke="#8d9fd3" stroke-width="6.4" stroke-linecap="round" stroke-linejoin="round"/><path d="M464.2 321.5 465.0 322.2 465.8 322.8 466.6 323.4 467.5 324.0 468.3 324.6 469.2 325.2 470.0 325.7 470.9 326.3" fill="none" stroke="#8d9fd3" stroke-width="6.4" stroke-linecap="round" stroke-linejoin="round"/><path d="M470.9 326.3 471.7 326.8 472.5 327.3 473.4 327.9 474.2 328.4 475.0 329.0 475.8 329.5 476.6 330.1 477.4 330.7" fill="none" stroke="#8d9fd3" stroke-width="6.4" stroke-linecap="round" stroke-linejoin="round"/><path d="M477.4 330.7 478.3 331.3 479.1 331.8 479.9 332.4 480.7 333.0 481.5 333.6 482.3 334.1 483.2 334.7 484.0 335.3" fill="none" stroke="#8d9fd3" stroke-width="6.4" stroke-linecap="round" stroke-linejoin="round"/><path d="M484.0 335.3 484.8 335.8 485.7 336.4 486.5 337.0 487.4 337.5 488.2 338.0 489.1 338.6 489.9 339.1 490.8 339.6" fill="none" stroke="#8d9fd3" stroke-width="6.4" stroke-linecap="round" stroke-linejoin="round"/><path d="M490.8 339.6 491.7 340.1 492.5 340.6 493.4 341.1 494.3 341.6 495.2 342.1 496.0 342.6 496.9 343.1 497.8 343.6" fill="none" stroke="#8d9fd3" stroke-width="6.4" stroke-linecap="round" stroke-linejoin="round"/><path d="M497.8 343.6 498.7 344.1 499.5 344.6 500.4 345.1 501.3 345.5 502.2 346.0 503.1 346.5 503.9 347.0 504.8 347.4" fill="none" stroke="#8d9fd3" stroke-width="6.4" stroke-linecap="round" stroke-linejoin="round"/><path d="M504.8 347.4 505.7 347.9 506.6 348.4 507.5 348.9 508.3 349.3 509.2 349.8 510.1 350.3 511.0 350.7 511.9 351.2" fill="none" stroke="#8d9fd3" stroke-width="6.4" stroke-linecap="round" stroke-linejoin="round"/><path d="M511.9 351.2 512.8 351.6 513.7 352.1 514.6 352.6 515.5 353.0 516.3 353.5 517.2 353.9 518.1 354.4 519.0 354.8" fill="none" stroke="#8d9fd3" stroke-width="6.4" stroke-linecap="round" stroke-linejoin="round"/><path d="M519.0 354.8 519.9 355.3 520.8 355.7 521.7 356.2 522.6 356.6 523.5 357.0 524.4 357.5 525.3 357.9 526.2 358.4" fill="none" stroke="#8d9fd3" stroke-width="6.4" stroke-linecap="round" stroke-linejoin="round"/><path d="M526.2 358.4 527.1 358.8 528.0 359.3 528.9 359.7 529.8 360.2 530.7 360.6 531.6 361.1 532.5 361.5 533.4 361.9" fill="none" stroke="#8d9fd3" stroke-width="6.4" stroke-linecap="round" stroke-linejoin="round"/><path d="M533.4 361.9 534.3 362.4 535.2 362.8 536.2 363.2 537.1 363.6 538.0 363.9 539.0 364.3 539.9 364.7 540.9 365.0" fill="none" stroke="#8d9fd3" stroke-width="6.4" stroke-linecap="round" stroke-linejoin="round"/><path d="M540.9 365.0 541.9 365.4 542.8 365.7 543.8 366.0 544.7 366.3 545.7 366.6 546.7 366.9 547.6 367.1 548.6 367.4" fill="none" stroke="#8d9fd3" stroke-width="6.4" stroke-linecap="round" stroke-linejoin="round"/><path d="M548.6 367.4 549.6 367.7 550.5 367.9 551.5 368.2 552.5 368.5 553.5 368.7 554.4 369.0 555.4 369.2 556.4 369.5" fill="none" stroke="#8d9fd3" stroke-width="6.3" stroke-linecap="round" stroke-linejoin="round"/><path d="M556.4 369.5 557.3 369.7 558.3 370.0 559.3 370.2 560.2 370.4 561.2 370.7 562.2 370.9 563.2 371.1 564.1 371.4" fill="none" stroke="#8d9fd3" stroke-width="6.2" stroke-linecap="round" stroke-linejoin="round"/><path d="M564.1 371.4 565.1 371.6 566.1 371.8 567.1 372.0 568.1 372.3 569.0 372.5 570.0 372.7 571.0 372.9 572.0 373.1" fill="none" stroke="#8d9fd3" stroke-width="6.2" stroke-linecap="round" stroke-linejoin="round"/><path d="M572.0 373.1 573.0 373.3 573.9 373.5 574.9 373.7 575.9 373.9 576.9 374.1 577.9 374.3 578.9 374.5 579.9 374.6" fill="none" stroke="#8d9fd3" stroke-width="6.1" stroke-linecap="round" stroke-linejoin="round"/><path d="M579.9 374.6 580.8 374.8 581.8 375.0 582.8 375.2 583.8 375.3 584.8 375.5 585.8 375.7 586.8 375.8 587.8 376.0" fill="none" stroke="#8d9fd3" stroke-width="6.1" stroke-linecap="round" stroke-linejoin="round"/><path d="M587.8 376.0 588.7 376.1 589.7 376.3 590.7 376.5 591.7 376.6 592.7 376.8 593.7 376.9 594.7 377.1 595.7 377.2" fill="none" stroke="#8d9fd3" stroke-width="6.0" stroke-linecap="round" stroke-linejoin="round"/><path d="M595.7 377.2 596.7 377.4 597.6 377.5 598.6 377.7 599.6 377.8 600.6 378.0 601.6 378.1 602.6 378.3 603.6 378.4" fill="none" stroke="#8d9fd3" stroke-width="5.9" stroke-linecap="round" stroke-linejoin="round"/><path d="M603.6 378.4 604.6 378.6 605.5 378.7 606.5 378.9 607.5 379.0 608.5 379.2 609.5 379.3 610.5 379.5 611.5 379.6" fill="none" stroke="#8d9fd3" stroke-width="5.9" stroke-linecap="round" stroke-linejoin="round"/><path d="M611.5 379.6 612.5 379.8 613.4 379.9 614.4 380.1 615.4 380.2 616.4 380.4 617.4 380.5 618.4 380.7 619.4 380.8" fill="none" stroke="#8d9fd3" stroke-width="5.8" stroke-linecap="round" stroke-linejoin="round"/><path d="M619.4 380.8 620.4 381.0 621.4 381.1 622.3 381.3 623.3 381.4 624.3 381.6 625.3 381.7 626.3 381.8 627.3 382.0" fill="none" stroke="#8d9fd3" stroke-width="5.7" stroke-linecap="round" stroke-linejoin="round"/><path d="M627.3 382.0 628.3 382.1 629.3 382.3 630.3 382.4 631.2 382.6 632.2 382.7 633.2 382.8 634.2 383.0 635.2 383.1" fill="none" stroke="#8d9fd3" stroke-width="5.7" stroke-linecap="round" stroke-linejoin="round"/><path d="M635.2 383.1 636.2 383.2 637.2 383.4 638.2 383.5 639.2 383.6 640.2 383.8 641.2 383.9 642.1 384.0 643.1 384.2" fill="none" stroke="#8d9fd3" stroke-width="5.6" stroke-linecap="round" stroke-linejoin="round"/><path d="M643.1 384.2 644.1 384.3 645.1 384.4 646.1 384.5 647.1 384.7 648.1 384.8 649.1 384.9 650.1 385.0 651.1 385.2" fill="none" stroke="#8d9fd3" stroke-width="5.5" stroke-linecap="round" stroke-linejoin="round"/><path d="M651.1 385.2 652.1 385.3 653.1 385.4 654.1 385.5 655.0 385.6 656.0 385.8 657.0 385.9 658.0 386.0 659.0 386.1" fill="none" stroke="#8d9fd3" stroke-width="5.5" stroke-linecap="round" stroke-linejoin="round"/><path d="M659.0 386.1 660.0 386.2 661.0 386.3 662.0 386.5 663.0 386.6 664.0 386.7 665.0 386.8 666.0 386.9 667.0 387.0" fill="none" stroke="#8d9fd3" stroke-width="5.4" stroke-linecap="round" stroke-linejoin="round"/><path d="M667.0 387.0 668.0 387.1 669.0 387.2 669.9 387.3 670.9 387.4 671.9 387.6 672.9 387.7 673.9 387.8 674.9 387.9" fill="none" stroke="#8d9fd3" stroke-width="5.3" stroke-linecap="round" stroke-linejoin="round"/><path d="M674.9 387.9 675.9 388.0" fill="none" stroke="#8d9fd3" stroke-width="5.3" stroke-linecap="round" stroke-linejoin="round"/><path d="M406.8 -174.8 407.8 -174.8 407.8 -172.9 408.3 -48.0 408.8 28.0 409.7 80.9 410.4 144.8 411.2 178.8 411.8 196.8 412.6 204.7 413.4 211.7 414.4 217.6 415.7 223.4 419.5 235.8 421.6 245.5 423.2 251.1 425.8 258.4 429.8 267.4 432.9 273.5 438.1 283.1 440.5 287.3 443.2 291.2 446.7 295.7 457.6 308.5 460.9 311.9 465.1 315.8 471.1 320.5 476.9 324.3 487.6 331.8 494.2 335.9 512.4 345.9 534.6 357.1 541.6 360.1 549.9 362.8 565.2 366.7 579.7 369.8 594.4 372.3 633.9 378.4 654.6 381.2 676.4 383.7" fill="none" stroke="#869bd4" stroke-width="0.40"/><path d="M406.8 -50.0 408.3 -50.0 408.9 28.4 409.7 81.1 410.4 143.2 411.6 191.2 412.1 201.4 412.8 211.2 413.8 220.1 415.1 227.8 418.6 245.0 420.8 253.3 423.4 260.5 427.4 269.8 433.8 282.5 438.2 290.3 440.3 293.4 442.8 296.7 455.9 312.0 461.9 317.8 468.3 323.0 475.2 327.5 486.4 335.3 496.1 341.2 516.3 352.0 531.5 359.6 538.1 362.6 546.2 365.4 557.8 368.6 570.1 371.5 581.9 373.8 613.9 378.9 634.5 382.0 655.0 384.7 676.0 387.1" fill="none" stroke="#1b2d58" stroke-width="3.0" stroke-linejoin="round"/></g>
<path d="M412.52 60.26V159.38M406.27 60.26h12.5M406.27 159.38h12.5M415.21 77.66V201.01M408.96 77.66h12.5M408.96 201.01h12.5M423.62 165.59V262.53M417.38 165.59h12.5M417.38 262.53h12.5M432.04 254.45V303.54M425.79 254.45h12.5M425.79 303.54h12.5M440.45 283.66V321.57M434.20 283.66h12.5M434.20 321.57h12.5M457.27 305.72V337.10M451.02 305.72h12.5M451.02 337.10h12.5M474.10 322.81V350.77M467.85 322.81h12.5M467.85 350.77h12.5M507.75 345.49V368.79M501.50 345.49h12.5M501.50 368.79h12.5M541.40 361.65V376.56M535.15 361.65h12.5M535.15 376.56h12.5M575.05 366.93V383.40M568.80 366.93h12.5M568.80 383.40h12.5M608.70 375.63V388.99M602.45 375.63h12.5M602.45 388.99h12.5M642.35 379.05V391.48M636.10 379.05h12.5M636.10 391.48h12.5M676.00 384.02V394.58M669.75 384.02h12.5M669.75 394.58h12.5" stroke="#ff2525" stroke-width="1.1" fill="none"/>
<g fill="none" stroke="#ff0000" stroke-width="2.45"><circle cx="412.52" cy="109.66" r="3.15"/><circle cx="415.21" cy="138.87" r="3.15"/><circle cx="423.62" cy="213.75" r="3.15"/><circle cx="432.04" cy="279.31" r="3.15"/><circle cx="440.45" cy="302.61" r="3.15"/><circle cx="457.27" cy="320.94" r="3.15"/><circle cx="474.10" cy="336.79" r="3.15"/><circle cx="507.75" cy="356.99" r="3.15"/><circle cx="541.40" cy="368.79" r="3.15"/><circle cx="575.05" cy="374.70" r="3.15"/><circle cx="608.70" cy="382.46" r="3.15"/><circle cx="642.35" cy="384.95" r="3.15"/><circle cx="676.00" cy="388.99" r="3.15"/></g>
<clipPath id="clipbi"><rect x="562.6" y="35.3" width="114.6" height="115.2"/></clipPath>
<g clip-path="url(#clipbi)"><path d="M564.0 41.6 564.6 45.7 565.1 47.3 565.9 48.7 568.1 51.1 570.8 53.0 576.1 56.2 583.8 59.8 587.8 61.3 605.6 67.2 612.1 69.7 618.7 72.5 621.8 73.5 633.8 77.0 647.0 80.3 653.8 82.1 665.9 85.8 677.2 89.5 L677.2 99.7 665.8 95.3 653.7 91.1 646.9 88.9 633.7 85.0 621.6 80.9 606.4 74.2 587.6 66.9 583.7 65.3 575.9 61.4 570.8 58.2 568.1 56.2 565.9 53.6 565.1 52.2 564.6 50.5 564.0 46.4Z" fill="#cfe7fb"/><path d="M564.0 43.0 564.6 47.1 565.1 48.7 565.9 50.1 568.1 52.5 570.7 54.4 576.0 57.5 583.9 61.2 606.7 69.7 618.6 74.8 621.7 76.0 633.9 79.8 647.0 83.2 653.9 85.2 666.0 89.1 677.2 93.0 L677.2 96.5 666.0 92.5 653.9 88.5 647.0 86.4 633.9 82.7 621.7 78.8 618.6 77.6 606.7 72.4 583.9 63.6 576.0 59.8 570.7 56.6 568.1 54.7 565.9 52.2 565.1 50.8 564.6 49.2 564.0 45.1Z" fill="#8d9fd3"/><path d="M564.0 43.8 564.6 47.9 565.1 49.5 565.9 50.9 568.1 53.3 570.7 55.2 576.0 58.4 583.9 62.1 606.7 70.8 618.6 75.9 621.7 77.1 633.9 81.0 647.0 84.5 653.9 86.6 666.0 90.6 677.2 94.5" fill="none" stroke="#1b2d58" stroke-width="2.4" stroke-linejoin="round"/></g>
<path d="M565.04 40.37V45.85M558.79 40.37h12.5M558.79 45.85h12.5M566.18 41.21V48.87M559.93 41.21h12.5M559.93 48.87h12.5M569.76 46.26V54.76M563.51 46.26h12.5M563.51 54.76h12.5M573.34 53.85V60.44M567.09 53.85h12.5M567.09 60.44h12.5M576.93 57.43V63.78M570.68 57.43h12.5M570.68 63.78h12.5M584.09 60.81V67.36M577.84 60.81h12.5M577.84 67.36h12.5M591.25 64.04V71.36M585.00 64.04h12.5M585.00 71.36h12.5M605.58 69.69V78.93M599.33 69.69h12.5M599.33 78.93h12.5M619.90 75.48V83.80M613.65 75.48h12.5M613.65 83.80h12.5M634.23 77.96V89.85M627.98 77.96h12.5M627.98 89.85h12.5M648.55 83.13V97.46M642.30 83.13h12.5M642.30 97.46h12.5M662.88 85.74V102.54M656.62 85.74h12.5M656.62 102.54h12.5M677.20 90.54V112.73M670.95 90.54h12.5M670.95 112.73h12.5" stroke="#ff2525" stroke-width="1.1" fill="none"/>
<g fill="none" stroke="#ff0000" stroke-width="1.7"><circle cx="565.04" cy="42.86" r="2.9"/><circle cx="566.18" cy="44.55" r="2.9"/><circle cx="569.76" cy="49.92" r="2.9"/><circle cx="573.34" cy="56.85" r="2.9"/><circle cx="576.93" cy="60.29" r="2.9"/><circle cx="584.09" cy="63.65" r="2.9"/><circle cx="591.25" cy="67.28" r="2.9"/><circle cx="605.58" cy="73.58" r="2.9"/><circle cx="619.90" cy="78.93" r="2.9"/><circle cx="634.23" cy="82.49" r="2.9"/><circle cx="648.55" cy="88.88" r="2.9"/><circle cx="662.88" cy="91.62" r="2.9"/><circle cx="677.20" cy="97.46" r="2.9"/></g>
<path d="M406.8 25.15V398H676" fill="none" stroke="#111" stroke-width="1.45"/>
<path d="M406.8 398v4M474.1 398v4M541.4 398v4M608.7 398v4M676 398v4M406.8 398h-4M406.8 335.86h-4M406.8 273.72h-4M406.8 211.57h-4M406.8 149.43h-4M406.8 87.29h-4M406.8 25.15h-4" stroke="#111" stroke-width="1.1" fill="none"/>
<text x="406.8" y="420.1" font-size="16" text-anchor="middle" >0</text>
<text x="474.1" y="420.1" font-size="16" text-anchor="middle" >2</text>
<text x="541.4" y="420.1" font-size="16" text-anchor="middle" >4</text>
<text x="608.7" y="420.1" font-size="16" text-anchor="middle" >6</text>
<text x="676" y="420.1" font-size="16" text-anchor="middle" >8</text>
<text x="398.8" y="403.3" font-size="16" text-anchor="end" >0</text>
<text x="398.8" y="341.16" font-size="16" text-anchor="end" >2</text>
<text x="398.8" y="279.02" font-size="16" text-anchor="end" >4</text>
<text x="398.8" y="216.88" font-size="16" text-anchor="end" >6</text>
<text x="398.8" y="154.73" font-size="16" text-anchor="end" >8</text>
<text x="398.8" y="92.59" font-size="16" text-anchor="end" >10</text>
<text x="398.8" y="30.45" font-size="16" text-anchor="end" >12</text>
<text x="541.4" y="439.3" font-size="16" text-anchor="middle" font-weight="bold" >Time [h]</text>
<text transform="translate(375.5,211.58) rotate(-90)" font-size="16" font-weight="bold" text-anchor="middle">Amikacin concentration [ng/mL]</text>
<text x="380.05" y="11.45" font-size="16" text-anchor="start" font-weight="bold" >(b)</text>
<path d="M409.25 13.35l7.4 7.2M409.25 20.55l7.4 -7.2" stroke="#000" stroke-width="1.05" fill="none"/>
<text x="419.8" y="21.05" font-size="16" text-anchor="start" >10</text>
<text x="438.4" y="13.35" font-size="11.5" text-anchor="start" >4</text>
<path d="M562.6 35.3V150.5H677.2" fill="none" stroke="#111" stroke-width="1.45"/>
<path d="M562.6 150.5v1.6M619.9 150.5v1.6M677.2 150.5v1.6M562.6 150.5h-2.0M562.6 139.58h-1.6M562.6 133.19h-1.6M562.6 128.66h-1.6M562.6 125.15h-1.6M562.6 122.28h-1.6M562.6 119.85h-1.6M562.6 117.74h-1.6M562.6 115.89h-1.6M562.6 114.23h-2.0M562.6 103.31h-1.6M562.6 96.92h-1.6M562.6 92.39h-1.6M562.6 88.88h-1.6M562.6 86h-1.6M562.6 83.58h-1.6M562.6 81.47h-1.6M562.6 79.62h-1.6M562.6 77.96h-2.0M562.6 67.04h-1.6M562.6 60.65h-1.6M562.6 56.12h-1.6M562.6 52.61h-1.6M562.6 49.73h-1.6M562.6 47.31h-1.6M562.6 45.2h-1.6M562.6 43.35h-1.6M562.6 41.69h-2.0" stroke="#111" stroke-width="1" fill="none"/>
<text x="562.6" y="169.8" font-size="16" text-anchor="middle" >0</text>
<text x="619.9" y="169.8" font-size="16" text-anchor="middle" >4</text>
<text x="677.2" y="169.8" font-size="16" text-anchor="middle" >8</text>
<text x="550.4" y="158.6" font-size="16" text-anchor="end" >10</text>
<text x="557.4" y="150.6" font-size="12" text-anchor="end" >2</text>
<text x="550.4" y="122.33" font-size="16" text-anchor="end" >10</text>
<text x="557.4" y="114.33" font-size="12" text-anchor="end" >3</text>
<text x="550.4" y="86.06" font-size="16" text-anchor="end" >10</text>
<text x="557.4" y="78.06" font-size="12" text-anchor="end" >4</text>
<clipPath id="clipcm"><rect x="52.35" y="535.05" width="269.7" height="372.85"/></clipPath>
<g clip-path="url(#clipcm)"><path d="M52.4 908.4 55.2 782.5 58.1 678.4 60.0 621.0 63.6 545.2 64.9 574.6 66.2 600.3 67.5 620.1 69.0 638.2 70.7 653.8 72.6 667.6 75.6 685.5 78.4 699.5 83.5 721.5 88.0 738.8 94.4 760.4 99.7 776.4 104.8 789.4 110.0 800.5 115.9 811.3 119.8 817.5 122.8 821.9 128.5 829.0 135.6 836.3 140.9 841.2 154.1 852.8 160.1 857.6 167.3 862.7 178.4 869.4 188.7 874.9 197.2 878.7 209.8 883.3 223.0 887.4 237.1 891.0 251.6 894.0 266.5 896.5 282.7 898.6 301.3 900.4 321.6 902.0 L321.6 906.3 299.8 905.7 280.6 904.8 264.0 903.9 248.6 902.7 234.1 901.2 220.9 899.5 208.7 897.5 197.6 895.2 188.9 893.0 180.8 890.4 172.9 887.2 165.4 883.6 159.9 880.4 154.1 876.3 148.4 871.5 142.0 865.6 132.8 856.0 118.1 839.0 111.9 831.3 107.0 824.3 101.4 815.0 96.7 805.8 89.9 790.6 84.6 777.2 79.7 763.2 76.3 752.0 72.8 738.2 70.5 726.3 68.6 713.3 66.9 697.5 65.2 677.6 63.6 653.3 60.6 707.4 57.7 767.9 55.0 834.9 52.4 908.4Z" fill="#ddeed5"/><path d="M52.4 908.4 55.4 795.1 58.4 699.1 61.4 621.9 63.6 589.6 64.1 598.8 65.5 614.6 67.9 648.6 69.2 662.1 70.7 674.8 72.8 689.3 75.4 703.2 78.4 716.7 82.0 730.9 87.1 749.0 92.9 767.0 98.7 783.2 104.0 796.0 109.1 806.4 114.9 816.3 122.5 827.7 130.2 837.6 137.3 845.7 145.2 853.9 153.9 862.1 161.6 868.3 169.0 873.4 177.4 878.2 185.5 882.1 194.0 885.4 205.1 888.8 218.7 892.2 232.0 894.8 247.5 897.3 263.3 899.3 280.2 900.9 299.8 902.4 321.6 903.6 L321.6 904.8 299.6 903.8 279.7 902.6 262.7 901.2 246.9 899.5 231.3 897.4 218.1 895.1 204.5 892.2 193.4 889.3 184.8 886.5 176.5 883.0 168.0 878.8 160.7 874.5 152.8 868.9 144.1 861.9 136.2 854.8 128.9 847.6 121.5 839.2 113.8 829.3 108.3 820.9 102.9 811.3 97.6 800.0 91.0 783.7 85.6 769.0 80.5 752.9 76.9 740.1 73.9 727.5 71.4 715.1 69.4 703.2 67.9 691.0 66.4 674.9 65.0 655.6 63.6 632.6 60.6 691.1 57.7 756.4 55.0 828.9 52.4 908.4Z" fill="#a9d38f"/><path d="M52.4 908.4 55.0 822.0 57.7 743.1 60.6 671.9 63.6 608.3 65.1 635.0 66.7 657.1 68.2 674.0 69.6 686.8 71.8 700.8 75.0 717.4 77.8 729.8 81.4 743.8 86.5 761.5 91.8 777.7 97.8 794.0 103.1 806.4 108.5 817.0 114.2 826.5 121.9 837.4 129.4 846.6 136.4 854.3 144.1 861.7 152.6 869.0 160.3 874.8 167.3 879.2 175.9 883.7 184.2 887.2 192.7 890.2 203.6 893.1 217.0 896.0 230.3 898.2 245.6 900.3 261.6 901.9 278.9 903.3 298.9 904.4 321.6 905.4" fill="none" stroke="#9fcd82" stroke-width="1.6"/><path d="M52.4 908.4 55.0 822.0 57.7 743.1 60.6 671.9 63.6 608.3 65.0 633.2 66.4 654.2 67.9 671.6 69.4 684.8 71.4 697.8 73.9 711.3 76.9 724.9 80.5 738.8 85.6 756.2 91.0 772.1 97.6 789.8 102.9 802.1 108.3 812.5 113.8 821.6 121.5 832.3 128.9 841.4 136.2 849.3 144.1 857.0 153.0 864.8 160.7 870.7 168.0 875.4 176.5 880.1 184.8 883.9 193.4 887.0 204.5 890.2 218.1 893.4 231.5 895.9 247.1 898.2 262.9 900.1 280.0 901.6 299.6 903.0 321.6 904.1" fill="none" stroke="#2d5222" stroke-width="2.9" stroke-linejoin="round"/></g>
<path d="M65.81 657.66V749.01M59.56 657.66h12.5M59.56 749.01h12.5M74.78 716.38V762.99M68.53 716.38h12.5M68.53 762.99h12.5M86.00 761.12V792.82M79.75 761.12h12.5M79.75 792.82h12.5M97.22 788.16V818.36M90.97 788.16h12.5M90.97 818.36h12.5M108.43 796.54V830.47M102.18 796.54h12.5M102.18 830.47h12.5M130.87 832.90V854.52M124.62 832.90h12.5M124.62 854.52h12.5M153.30 856.20V871.12M147.05 856.20h12.5M147.05 871.12h12.5M186.95 879.04V894.23M180.70 879.04h12.5M180.70 894.23h12.5M321.55 899.08V907.84M315.30 899.08h12.5M315.30 907.84h12.5" stroke="#ff2525" stroke-width="1.1" fill="none"/>
<g fill="none" stroke="#ff0000" stroke-width="2.45"><circle cx="65.81" cy="703.33" r="3.15"/><circle cx="74.78" cy="739.69" r="3.15"/><circle cx="86.00" cy="776.50" r="3.15"/><circle cx="97.22" cy="803.07" r="3.15"/><circle cx="108.43" cy="813.32" r="3.15"/><circle cx="130.87" cy="843.80" r="3.15"/><circle cx="153.30" cy="863.66" r="3.15"/><circle cx="186.95" cy="886.68" r="3.15"/><circle cx="321.55" cy="903.27" r="3.15"/></g>
<clipPath id="clipci"><rect x="188.9" y="545.7" width="114.6" height="115.2"/></clipPath>
<g clip-path="url(#clipci)"><path d="M189.7 574.8 190.3 564.5 191.1 556.5 192.1 551.0 193.7 546.2 194.8 549.4 195.9 551.7 197.1 553.5 199.1 555.9 210.9 567.3 214.3 570.3 219.2 574.0 229.8 580.6 249.4 593.6 272.4 607.5 287.3 615.8 295.5 620.0 303.5 623.8 L303.5 645.7 290.5 638.0 277.8 629.7 260.8 617.6 251.7 610.8 247.2 607.1 236.5 597.3 227.0 587.3 222.1 582.5 218.8 579.5 210.2 572.7 199.4 562.8 197.4 560.4 196.0 558.5 194.9 556.2 193.7 553.0 192.2 558.4 191.1 565.1 190.3 573.3 189.7 583.7Z" fill="#ddeed5"/><path d="M189.7 577.9 190.3 567.3 191.1 559.0 192.4 552.1 192.9 550.4 193.7 548.7 196.0 553.5 197.9 556.3 200.2 558.7 209.3 567.4 213.9 571.3 227.0 581.5 237.4 590.2 246.1 597.1 251.0 600.4 260.0 606.1 276.8 616.0 290.0 623.0 303.5 629.4 L303.5 634.9 290.0 628.0 276.9 620.6 259.7 610.0 250.7 604.1 245.9 600.7 237.4 593.8 227.1 585.1 213.7 574.4 209.0 570.2 200.0 561.6 197.2 558.6 195.4 555.9 193.7 551.5 192.2 556.9 191.1 563.6 190.3 571.8 189.7 582.1Z" fill="#a9d38f"/><path d="M189.7 580.5 190.3 570.2 191.1 562.0 192.2 555.3 193.7 549.9 195.4 554.3 197.2 557.0 199.9 560.0 208.8 569.0 213.4 573.3 226.7 584.5 237.5 594.4 246.1 601.7 250.9 605.4 260.0 611.8 276.9 622.9 290.0 630.8 303.5 638.1" fill="none" stroke="#9fcd82" stroke-width="1.6"/><path d="M189.7 580.5 190.3 570.2 191.1 562.0 192.2 555.3 193.7 549.9 195.4 554.3 197.2 556.9 200.0 560.0 209.1 568.6 213.8 572.7 227.0 583.1 237.4 591.8 245.9 598.5 250.8 601.9 259.8 607.7 276.8 617.8 290.0 625.0 303.5 631.6" fill="none" stroke="#2d5222" stroke-width="2.4" stroke-linejoin="round"/></g>
<path d="M194.63 553.33V562.04M188.38 553.33h12.5M188.38 562.04h12.5M198.45 558.46V563.80M192.20 558.46h12.5M192.20 563.80h12.5M203.22 563.56V568.22M196.97 563.56h12.5M196.97 568.22h12.5M208.00 567.46V573.02M201.75 567.46h12.5M201.75 573.02h12.5M212.78 568.85V575.80M206.53 568.85h12.5M206.53 575.80h12.5M222.32 576.41V582.89M216.07 576.41h12.5M216.07 582.89h12.5M231.88 583.50V589.97M225.62 583.50h12.5M225.62 589.97h12.5M246.20 594.57V608.58M239.95 594.57h12.5M239.95 608.58h12.5M303.50 616.63V660.90M297.25 616.63h12.5" stroke="#ff2525" stroke-width="1.1" fill="none"/>
<g fill="none" stroke="#ff0000" stroke-width="1.7"><circle cx="194.63" cy="557.19" r="2.9"/><circle cx="198.45" cy="560.95" r="2.9"/><circle cx="203.22" cy="565.68" r="2.9"/><circle cx="208.00" cy="570.00" r="2.9"/><circle cx="212.78" cy="571.97" r="2.9"/><circle cx="222.32" cy="579.41" r="2.9"/><circle cx="231.88" cy="586.47" r="2.9"/><circle cx="246.20" cy="600.36" r="2.9"/><circle cx="303.50" cy="628.12" r="2.9"/></g>
<path d="M52.35 535.55V908.4H321.55" fill="none" stroke="#111" stroke-width="1.45"/>
<path d="M52.35 908.4v4M97.22 908.4v4M142.08 908.4v4M186.95 908.4v4M231.82 908.4v4M276.68 908.4v4M321.55 908.4v4M52.35 908.4h-4M52.35 861.79h-4M52.35 815.19h-4M52.35 768.58h-4M52.35 721.97h-4M52.35 675.37h-4M52.35 628.76h-4M52.35 582.16h-4M52.35 535.55h-4" stroke="#111" stroke-width="1.1" fill="none"/>
<text x="52.35" y="930.5" font-size="16" text-anchor="middle" >0</text>
<text x="97.22" y="930.5" font-size="16" text-anchor="middle" >2</text>
<text x="142.08" y="930.5" font-size="16" text-anchor="middle" >4</text>
<text x="186.95" y="930.5" font-size="16" text-anchor="middle" >6</text>
<text x="231.82" y="930.5" font-size="16" text-anchor="middle" >8</text>
<text x="276.68" y="930.5" font-size="16" text-anchor="middle" >10</text>
<text x="321.55" y="930.5" font-size="16" text-anchor="middle" >12</text>
<text x="44.35" y="913.7" font-size="16" text-anchor="end" >0</text>
<text x="44.35" y="867.09" font-size="16" text-anchor="end" >0.5</text>
<text x="44.35" y="820.49" font-size="16" text-anchor="end" >1</text>
<text x="44.35" y="773.88" font-size="16" text-anchor="end" >1.5</text>
<text x="44.35" y="727.27" font-size="16" text-anchor="end" >2</text>
<text x="44.35" y="680.67" font-size="16" text-anchor="end" >2.5</text>
<text x="44.35" y="634.06" font-size="16" text-anchor="end" >3</text>
<text x="44.35" y="587.46" font-size="16" text-anchor="end" >3.5</text>
<text x="44.35" y="540.85" font-size="16" text-anchor="end" >4</text>
<text x="186.95" y="949.7" font-size="16" text-anchor="middle" font-weight="bold" >Time [h]</text>
<text transform="translate(16,721.97) rotate(-90)" font-size="16" font-weight="bold" text-anchor="middle">Tobramycin concentration [ng/mL]</text>
<text x="25.6" y="521.85" font-size="16" text-anchor="start" font-weight="bold" >(c)</text>
<path d="M54.8 523.75l7.4 7.2M54.8 530.95l7.4 -7.2" stroke="#000" stroke-width="1.05" fill="none"/>
<text x="65.35" y="531.45" font-size="16" text-anchor="start" >10</text>
<text x="83.95" y="523.75" font-size="11.5" text-anchor="start" >4</text>
<path d="M188.9 545.7V660.9H303.5" fill="none" stroke="#111" stroke-width="1.45"/>
<path d="M188.9 660.9v1.6M227.1 660.9v1.6M265.3 660.9v1.6M303.5 660.9v1.6M188.9 660.9h-2.0M188.9 647.57h-1.6M188.9 639.78h-1.6M188.9 634.25h-1.6M188.9 629.95h-1.6M188.9 626.45h-1.6M188.9 623.49h-1.6M188.9 620.92h-1.6M188.9 618.65h-1.6M188.9 616.63h-2.0M188.9 603.3h-1.6M188.9 595.5h-1.6M188.9 589.97h-1.6M188.9 585.68h-1.6M188.9 582.18h-1.6M188.9 579.21h-1.6M188.9 576.65h-1.6M188.9 574.38h-1.6M188.9 572.35h-2.0M188.9 559.03h-1.6M188.9 551.23h-1.6M188.9 545.7h-1.6" stroke="#111" stroke-width="1" fill="none"/>
<text x="188.9" y="680.2" font-size="16" text-anchor="middle" >0</text>
<text x="227.1" y="680.2" font-size="16" text-anchor="middle" >4</text>
<text x="265.3" y="680.2" font-size="16" text-anchor="middle" >8</text>
<text x="303.5" y="680.2" font-size="16" text-anchor="middle" >12</text>
<text x="176.7" y="669" font-size="16" text-anchor="end" >10</text>
<text x="183.7" y="661" font-size="12" text-anchor="end" >2</text>
<text x="176.7" y="624.73" font-size="16" text-anchor="end" >10</text>
<text x="183.7" y="616.73" font-size="12" text-anchor="end" >3</text>
<text x="176.7" y="580.45" font-size="16" text-anchor="end" >10</text>
<text x="183.7" y="572.45" font-size="12" text-anchor="end" >4</text>
<clipPath id="clipdm"><rect x="406.8" y="535.05" width="269.7" height="372.85"/></clipPath>
<g clip-path="url(#clipdm)"><path d="M406.8 908.4 410.4 793.8 413.7 703.5 414.5 688.5 415.3 676.5 416.9 661.2 417.7 656.3 418.0 653.1 419.6 691.9 420.7 708.0 421.8 719.7 423.2 731.8 425.0 742.6 426.9 752.0 429.2 761.2 432.0 769.7 435.4 778.5 446.3 802.8 450.5 811.3 454.8 818.2 459.9 825.2 466.1 832.4 472.5 839.0 478.1 844.0 483.8 848.3 489.8 852.2 497.7 856.5 512.2 863.9 519.9 867.4 530.3 871.5 540.3 874.8 550.2 877.3 573.2 882.6 588.5 885.8 602.4 888.4 619.9 891.3 639.3 894.2 657.7 896.6 676.0 898.7 L676.0 904.7 657.2 903.5 639.3 902.2 621.2 900.5 604.3 898.7 589.8 896.9 575.5 894.9 558.3 892.0 545.7 889.7 538.4 888.1 531.2 886.2 523.5 883.8 516.7 881.4 507.9 877.8 494.5 871.9 488.3 868.8 482.8 865.5 475.9 860.7 469.1 855.0 461.2 847.5 454.8 840.6 449.5 833.9 440.3 820.2 435.2 813.4 432.2 808.7 429.9 804.5 427.5 799.3 425.2 792.8 423.2 785.8 421.8 778.7 420.7 771.7 419.6 762.3 418.0 738.8 415.1 776.9 412.2 817.9 409.5 861.7 406.8 908.4Z" fill="#cfe7fb"/><path d="M406.8 908.4 410.7 802.0 414.5 718.6 415.7 699.3 416.2 696.4 417.0 694.8 417.4 693.5 418.0 687.0 418.6 696.1 419.6 705.5 421.1 723.4 423.5 742.6 425.2 753.2 427.1 762.9 428.8 769.6 431.1 776.5 435.4 786.8 439.9 795.8 445.6 807.8 449.3 814.9 452.5 820.2 458.2 828.3 465.3 836.8 472.3 844.3 479.3 850.7 485.3 855.2 491.7 859.2 499.4 863.3 512.2 869.5 519.2 872.6 526.5 875.4 534.4 878.0 542.3 880.2 552.3 882.4 573.0 886.6 587.1 889.1 600.9 891.3 618.6 893.8 638.5 896.2 657.0 898.2 676.0 900.0 L676.0 902.1 638.7 899.0 601.3 895.1 587.3 893.3 573.4 891.3 552.7 888.0 542.5 886.2 534.8 884.4 526.9 882.4 519.4 880.1 512.6 877.7 499.8 872.7 492.1 869.4 485.5 866.0 479.8 862.6 472.9 857.6 466.1 851.8 458.9 844.8 453.1 838.4 450.5 835.1 448.0 831.4 439.9 818.2 435.6 811.8 432.6 806.6 430.3 802.0 427.7 795.9 425.4 789.0 423.5 781.7 422.0 774.3 420.7 765.6 419.7 756.3 418.0 731.2 415.1 770.9 412.2 813.7 409.5 859.5 406.8 908.4Z" fill="#8d9fd3"/><path d="M406.8 908.4 409.5 853.5 412.2 801.9 415.1 753.7 418.0 708.9 419.7 737.2 420.7 747.6 422.0 757.3 423.5 765.6 425.4 773.8 427.7 781.6 430.3 788.3 432.6 793.5 435.6 799.3 439.9 806.5 448.2 821.6 450.5 825.4 453.1 829.1 458.9 836.3 466.1 844.2 472.9 850.7 479.8 856.2 485.5 860.2 492.1 863.9 499.8 867.6 512.6 873.3 519.4 876.0 526.9 878.5 534.8 880.9 542.5 882.8 552.5 884.9 573.4 888.7 587.3 890.9 601.3 893.0 619.1 895.2 638.9 897.5 657.2 899.3 676.0 900.9" fill="none" stroke="#1b2d58" stroke-width="3.0" stroke-linejoin="round"/></g>
<path d="M419.36 736.89V813.32M413.11 736.89h12.5M413.11 813.32h12.5M429.23 791.88V823.58M422.98 791.88h12.5M422.98 823.58h12.5M440.45 814.26V841.29M434.20 814.26h12.5M434.20 841.29h12.5M451.67 824.51V849.68M445.42 824.51h12.5M445.42 849.68h12.5M462.88 838.77V862.54M456.63 838.77h12.5M456.63 862.54h12.5M485.32 845.02V875.78M479.07 845.02h12.5M479.07 875.78h12.5M507.75 852.47V887.33M501.50 852.47h12.5M501.50 887.33h12.5M541.40 878.57V897.59M535.15 878.57h12.5M535.15 897.59h12.5M676.00 894.88V906.07M669.75 894.88h12.5M669.75 906.07h12.5" stroke="#ff2525" stroke-width="1.1" fill="none"/>
<g fill="none" stroke="#ff0000" stroke-width="2.45"><circle cx="419.36" cy="775.11" r="3.15"/><circle cx="429.23" cy="807.73" r="3.15"/><circle cx="440.45" cy="827.77" r="3.15"/><circle cx="451.67" cy="837.19" r="3.15"/><circle cx="462.88" cy="850.89" r="3.15"/><circle cx="485.32" cy="860.21" r="3.15"/><circle cx="507.75" cy="869.53" r="3.15"/><circle cx="541.40" cy="887.89" r="3.15"/><circle cx="676.00" cy="900.66" r="3.15"/></g>
<clipPath id="clipdi"><rect x="562.6" y="545.7" width="114.6" height="115.2"/></clipPath>
<g clip-path="url(#clipdi)"><path d="M563.4 580.9 564.0 569.5 565.0 560.7 565.9 555.7 566.5 554.3 567.4 553.0 568.1 556.3 569.1 559.0 570.4 561.4 572.2 563.7 582.6 572.6 587.9 576.3 593.3 579.7 597.6 581.9 615.9 590.5 620.7 592.4 634.3 597.4 653.2 604.9 665.0 610.1 677.2 615.9 L677.2 634.2 666.1 627.1 655.3 620.7 636.1 610.3 617.8 601.2 595.3 587.5 583.9 579.1 577.3 573.8 573.7 571.3 571.8 569.7 570.1 567.9 569.0 566.0 568.1 563.8 567.4 560.9 565.9 566.8 564.8 573.9 564.0 582.4 563.4 593.0Z" fill="#cfe7fb"/><path d="M563.4 584.1 564.0 572.8 565.0 563.9 566.2 557.2 566.5 556.7 567.1 556.3 567.4 555.7 568.8 559.4 569.9 561.6 571.3 563.9 572.7 565.4 583.2 574.3 591.3 580.1 596.4 583.3 610.8 591.0 617.9 594.3 654.9 608.8 665.8 613.5 677.2 618.7 L677.2 624.0 665.7 618.5 654.6 613.6 617.7 598.8 610.7 595.4 596.3 587.6 591.4 584.5 583.6 578.8 572.1 569.4 570.3 567.4 569.0 565.2 568.1 562.9 567.4 560.0 565.9 565.9 564.8 573.0 564.0 581.5 563.4 592.1Z" fill="#8d9fd3"/><path d="M563.4 589.9 564.0 579.3 564.8 570.8 565.9 563.6 567.4 557.7 568.1 560.6 569.0 562.9 570.3 565.1 572.1 567.1 583.6 576.4 591.4 582.0 596.3 585.1 610.7 592.8 617.7 596.1 654.6 610.7 665.7 615.5 677.2 620.9" fill="none" stroke="#1b2d58" stroke-width="2.4" stroke-linejoin="round"/></g>
<path d="M567.95 560.63V571.97M561.70 560.63h12.5M561.70 571.97h12.5M572.15 568.06V574.17M565.90 568.06h12.5M565.90 574.17h12.5M576.93 572.16V578.67M570.68 572.16h12.5M570.68 578.67h12.5M581.70 574.38V581.24M575.45 574.38h12.5M575.45 581.24h12.5M586.48 577.96V585.99M580.23 577.96h12.5M580.23 585.99h12.5M596.02 579.77V592.54M589.77 579.77h12.5M589.77 592.54h12.5M605.58 582.18V600.95M599.33 582.18h12.5M599.33 600.95h12.5M619.90 594.26V613.77M613.65 594.26h12.5M613.65 613.77h12.5M677.20 609.48V643.28M670.95 609.48h12.5M670.95 643.28h12.5" stroke="#ff2525" stroke-width="1.1" fill="none"/>
<g fill="none" stroke="#ff0000" stroke-width="1.7"><circle cx="567.95" cy="565.48" r="2.9"/><circle cx="572.15" cy="570.88" r="2.9"/><circle cx="576.93" cy="575.14" r="2.9"/><circle cx="581.70" cy="577.53" r="2.9"/><circle cx="586.48" cy="581.64" r="2.9"/><circle cx="596.02" cy="585.04" r="2.9"/><circle cx="605.58" cy="589.17" r="2.9"/><circle cx="619.90" cy="601.47" r="2.9"/><circle cx="677.20" cy="620.21" r="2.9"/></g>
<path d="M406.8 535.55V908.4H676" fill="none" stroke="#111" stroke-width="1.45"/>
<path d="M406.8 908.4v4M451.67 908.4v4M496.53 908.4v4M541.4 908.4v4M586.27 908.4v4M631.13 908.4v4M676 908.4v4M406.8 908.4h-4M406.8 861.79h-4M406.8 815.19h-4M406.8 768.58h-4M406.8 721.97h-4M406.8 675.37h-4M406.8 628.76h-4M406.8 582.16h-4M406.8 535.55h-4" stroke="#111" stroke-width="1.1" fill="none"/>
<text x="406.8" y="930.5" font-size="16" text-anchor="middle" >0</text>
<text x="451.67" y="930.5" font-size="16" text-anchor="middle" >2</text>
<text x="496.53" y="930.5" font-size="16" text-anchor="middle" >4</text>
<text x="541.4" y="930.5" font-size="16" text-anchor="middle" >6</text>
<text x="586.27" y="930.5" font-size="16" text-anchor="middle" >8</text>
<text x="631.13" y="930.5" font-size="16" text-anchor="middle" >10</text>
<text x="676" y="930.5" font-size="16" text-anchor="middle" >12</text>
<text x="398.8" y="913.7" font-size="16" text-anchor="end" >0</text>
<text x="398.8" y="867.09" font-size="16" text-anchor="end" >0.5</text>
<text x="398.8" y="820.49" font-size="16" text-anchor="end" >1</text>
<text x="398.8" y="773.88" font-size="16" text-anchor="end" >1.5</text>
<text x="398.8" y="727.27" font-size="16" text-anchor="end" >2</text>
<text x="398.8" y="680.67" font-size="16" text-anchor="end" >2.5</text>
<text x="398.8" y="634.06" font-size="16" text-anchor="end" >3</text>
<text x="398.8" y="587.46" font-size="16" text-anchor="end" >3.5</text>
<text x="398.8" y="540.85" font-size="16" text-anchor="end" >4</text>
<text x="541.4" y="949.7" font-size="16" text-anchor="middle" font-weight="bold" >Time [h]</text>
<text transform="translate(370.45,721.97) rotate(-90)" font-size="16" font-weight="bold" text-anchor="middle">Tobramycin concentration [ng/mL]</text>
<text x="380.05" y="521.85" font-size="16" text-anchor="start" font-weight="bold" >(d)</text>
<path d="M409.25 523.75l7.4 7.2M409.25 530.95l7.4 -7.2" stroke="#000" stroke-width="1.05" fill="none"/>
<text x="419.8" y="531.45" font-size="16" text-anchor="start" >10</text>
<text x="438.4" y="523.75" font-size="11.5" text-anchor="start" >4</text>
<path d="M562.6 545.7V660.9H677.2" fill="none" stroke="#111" stroke-width="1.45"/>
<path d="M562.6 660.9v1.6M600.8 660.9v1.6M639 660.9v1.6M677.2 660.9v1.6M562.6 660.9h-2.0M562.6 647.57h-1.6M562.6 639.78h-1.6M562.6 634.25h-1.6M562.6 629.95h-1.6M562.6 626.45h-1.6M562.6 623.49h-1.6M562.6 620.92h-1.6M562.6 618.65h-1.6M562.6 616.63h-2.0M562.6 603.3h-1.6M562.6 595.5h-1.6M562.6 589.97h-1.6M562.6 585.68h-1.6M562.6 582.18h-1.6M562.6 579.21h-1.6M562.6 576.65h-1.6M562.6 574.38h-1.6M562.6 572.35h-2.0M562.6 559.03h-1.6M562.6 551.23h-1.6M562.6 545.7h-1.6" stroke="#111" stroke-width="1" fill="none"/>
<text x="562.6" y="680.2" font-size="16" text-anchor="middle" >0</text>
<text x="600.8" y="680.2" font-size="16" text-anchor="middle" >4</text>
<text x="639" y="680.2" font-size="16" text-anchor="middle" >8</text>
<text x="677.2" y="680.2" font-size="16" text-anchor="middle" >12</text>
<text x="550.4" y="669" font-size="16" text-anchor="end" >10</text>
<text x="557.4" y="661" font-size="12" text-anchor="end" >2</text>
<text x="550.4" y="624.73" font-size="16" text-anchor="end" >10</text>
<text x="557.4" y="616.73" font-size="12" text-anchor="end" >3</text>
<text x="550.4" y="580.45" font-size="16" text-anchor="end" >10</text>
<text x="557.4" y="572.45" font-size="12" text-anchor="end" >4</text>
<clipPath id="clipem"><rect x="52.35" y="1045.45" width="269.7" height="372.85"/></clipPath>
<g clip-path="url(#clipem)"><path d="M52.4 1418.8 52.7 1418.7 52.9 1418.3 53.2 1415.7 57.3 1331.9 62.6 1246.4 65.6 1192.1 67.0 1173.2 68.5 1157.2 70.0 1144.0 71.3 1135.0 73.5 1123.0 74.6 1118.0 75.7 1114.8 76.4 1114.0 78.6 1113.3 80.5 1113.1 81.2 1113.7 82.3 1116.1 84.5 1122.9 85.6 1125.5 87.3 1128.0 91.7 1132.7 94.1 1136.0 102.4 1149.6 110.1 1161.4 113.6 1167.4 118.2 1176.8 125.6 1193.8 133.7 1214.9 135.5 1218.6 137.0 1221.2 140.1 1225.0 143.8 1228.6 152.1 1235.8 164.8 1245.6 170.3 1250.6 175.1 1256.3 187.8 1273.2 193.3 1279.4 199.6 1286.2 209.9 1296.1 220.6 1305.4 231.8 1314.0 242.5 1321.3 251.5 1326.5 287.6 1345.9 304.9 1354.6 321.6 1362.4 L321.6 1418.8 265.9 1418.7 233.8 1418.4 213.8 1417.8 197.6 1416.7 190.2 1415.8 183.6 1414.8 177.7 1413.5 172.3 1412.0 167.0 1410.2 162.4 1408.2 157.8 1405.9 152.6 1402.7 147.5 1399.3 142.7 1395.7 138.5 1392.2 134.6 1388.5 128.0 1381.7 124.1 1377.2 120.6 1372.4 117.7 1367.6 115.8 1363.6 114.2 1359.6 102.4 1323.4 92.8 1296.4 86.4 1277.4 84.9 1273.7 81.4 1266.6 79.9 1264.4 79.2 1263.8 78.6 1263.6 78.1 1263.7 77.7 1264.1 76.6 1266.3 72.2 1280.0 69.8 1289.2 67.8 1299.1 66.1 1311.6 62.1 1351.2 57.6 1389.7 53.9 1416.7 53.4 1418.4 53.0 1418.7 52.4 1418.8Z" fill="#ddeed5"/><path d="M52.4 1418.8 53.1 1418.5 53.6 1417.4 54.3 1410.8 56.6 1372.8 58.8 1341.8 62.4 1277.5 63.9 1254.4 65.0 1242.0 67.0 1227.9 68.7 1218.2 70.0 1212.2 72.4 1204.7 74.4 1199.6 75.9 1197.0 76.6 1196.4 77.2 1196.2 78.1 1196.4 79.0 1196.8 81.2 1199.1 84.5 1203.7 86.9 1208.5 88.6 1213.1 91.3 1222.7 95.6 1236.9 103.5 1260.1 104.8 1263.4 108.3 1270.5 110.5 1275.7 113.2 1282.5 116.0 1291.2 117.5 1295.0 120.4 1301.0 125.0 1309.3 129.1 1316.2 133.7 1323.0 139.6 1331.0 144.7 1337.2 154.1 1348.3 157.6 1352.1 166.3 1360.2 173.3 1367.3 177.1 1370.7 180.4 1373.4 183.4 1375.6 187.8 1378.4 191.1 1380.1 193.7 1381.0 199.0 1382.2 201.2 1382.9 211.0 1387.7 215.2 1389.4 221.3 1391.3 228.1 1393.2 254.3 1399.1 267.3 1401.3 278.4 1402.7 292.7 1404.2 321.6 1406.4 L321.6 1410.5 292.4 1408.2 278.2 1406.7 266.6 1405.3 253.0 1403.1 226.3 1397.5 219.8 1395.8 213.8 1394.0 210.3 1392.7 201.2 1388.6 193.7 1386.7 190.9 1385.6 187.4 1383.9 182.5 1381.0 178.8 1378.3 174.4 1374.7 166.6 1367.3 157.4 1359.0 153.4 1354.7 144.2 1344.1 139.4 1338.0 134.2 1330.8 129.6 1323.7 125.4 1316.6 120.6 1307.4 117.7 1301.3 116.2 1297.4 113.4 1288.5 110.3 1280.1 103.7 1264.8 95.6 1240.3 91.5 1226.5 88.6 1215.9 86.9 1211.1 84.5 1206.0 81.0 1200.8 78.8 1198.4 77.9 1197.9 77.0 1197.8 76.4 1198.0 75.7 1198.7 74.2 1201.3 72.4 1205.7 70.0 1213.0 68.7 1218.9 67.0 1228.4 65.0 1242.3 63.9 1254.7 62.4 1277.7 58.8 1341.8 56.6 1372.8 54.3 1410.8 53.6 1417.4 53.1 1418.5 52.4 1418.8Z" fill="#a9d38f"/><path d="M52.4 1418.8 53.1 1418.5 53.6 1417.3 54.3 1410.0 56.6 1368.0 58.8 1333.7 62.4 1262.9 63.9 1237.5 65.0 1223.8 67.0 1208.4 68.7 1197.9 70.0 1191.4 72.4 1183.3 74.2 1178.5 75.7 1175.5 76.4 1174.8 77.0 1174.5 77.7 1174.6 78.6 1175.1 80.3 1177.0 84.5 1183.2 86.9 1188.0 88.6 1192.6 91.0 1201.5 94.5 1212.6 103.3 1237.1 105.1 1241.1 108.6 1247.6 110.5 1252.1 113.4 1259.5 116.2 1268.5 118.0 1272.8 120.6 1278.2 125.0 1286.2 129.8 1294.3 135.5 1302.8 141.0 1310.4 148.8 1320.8 156.5 1331.5 159.3 1335.0 166.6 1343.2 174.7 1353.4 178.6 1357.7 181.9 1361.0 187.8 1365.8 192.0 1368.4 194.1 1369.2 198.7 1370.4 200.7 1371.0 203.3 1372.3 209.9 1376.3 213.0 1377.9 219.5 1380.5 227.2 1382.9 240.3 1386.2 256.8 1390.6 267.9 1393.0 279.1 1394.9 294.0 1397.2 321.6 1400.6" fill="none" stroke="#9fcd82" stroke-width="1.6"/><path d="M52.4 1418.8 53.1 1418.5 53.6 1417.3 54.3 1410.1 56.6 1368.6 58.8 1334.6 62.4 1264.6 63.9 1239.4 65.0 1225.9 67.0 1210.7 68.7 1200.3 70.0 1193.8 72.4 1185.9 74.2 1181.1 75.7 1178.2 76.4 1177.5 77.0 1177.2 77.7 1177.3 78.6 1177.7 80.5 1179.9 84.5 1185.8 86.9 1190.8 88.6 1195.5 91.3 1205.3 94.8 1216.7 103.5 1242.1 105.1 1245.8 108.6 1252.9 110.5 1257.7 113.4 1265.5 116.2 1274.8 118.0 1279.3 120.8 1285.5 126.1 1295.6 131.1 1304.4 137.2 1314.0 141.6 1320.4 155.8 1340.3 158.9 1344.1 166.6 1352.7 173.8 1361.5 180.1 1368.0 183.0 1370.5 186.7 1373.4 189.5 1375.4 192.0 1376.7 193.9 1377.5 199.0 1379.0 201.2 1379.8 210.8 1385.2 214.7 1387.0 221.3 1389.5 228.5 1391.7 254.3 1398.4 267.5 1401.0 278.9 1402.8 293.1 1404.7 306.9 1406.2 321.6 1407.6" fill="none" stroke="#9fcd82" stroke-width="1.6"/><path d="M52.4 1418.8 53.1 1418.5 53.6 1417.3 54.3 1410.2 56.6 1369.2 58.8 1335.6 62.4 1266.4 63.9 1241.6 65.0 1228.2 67.0 1213.2 68.7 1202.9 70.0 1196.5 72.4 1188.7 74.2 1183.9 75.7 1181.0 76.4 1180.4 77.0 1180.1 77.9 1180.2 78.8 1180.8 80.8 1183.0 84.7 1189.1 87.1 1194.2 88.6 1198.5 91.3 1208.4 94.8 1219.9 103.5 1246.1 105.1 1249.9 108.6 1257.3 110.5 1262.3 113.4 1270.3 116.2 1279.7 118.0 1284.4 121.0 1291.2 126.5 1302.1 131.8 1311.4 138.1 1321.5 142.3 1327.7 155.2 1345.7 159.1 1350.6 166.6 1358.6 172.9 1366.0 178.2 1371.3 183.9 1376.1 188.2 1379.1 191.5 1381.0 193.9 1382.0 199.0 1383.4 201.2 1384.2 210.3 1389.0 214.1 1390.7 220.6 1393.0 227.9 1395.1 253.5 1401.2 267.3 1403.8 278.9 1405.4 292.9 1407.1 321.6 1409.7" fill="none" stroke="#9fcd82" stroke-width="1.6"/><path d="M52.4 1418.8 53.1 1418.5 53.6 1417.3 54.3 1410.3 56.6 1370.2 58.8 1337.4 62.4 1269.6 63.9 1245.3 65.0 1232.2 67.0 1217.5 68.7 1207.5 70.0 1201.3 72.4 1193.6 74.2 1188.9 75.7 1186.1 76.4 1185.4 77.0 1185.2 77.9 1185.3 78.8 1185.8 81.0 1188.4 84.7 1194.1 87.1 1199.3 88.6 1203.6 91.3 1213.6 94.8 1225.3 103.7 1252.8 105.3 1256.6 108.3 1263.4 110.3 1268.4 113.4 1277.2 116.2 1286.7 118.0 1291.3 121.0 1298.3 126.3 1308.9 131.8 1318.7 137.9 1328.3 142.7 1335.2 153.0 1348.8 158.9 1355.9 175.1 1372.5 179.3 1376.2 182.8 1379.0 187.6 1382.1 191.1 1384.0 193.7 1385.1 201.2 1387.3 210.3 1391.7 213.6 1393.0 219.5 1395.0 226.3 1396.9 252.6 1402.8 266.6 1405.2 278.2 1406.7 292.4 1408.3 321.6 1410.8" fill="none" stroke="#9fcd82" stroke-width="1.6"/><path d="M52.4 1418.8 53.1 1418.5 53.6 1417.4 54.3 1410.5 56.6 1371.3 58.8 1339.2 62.4 1272.9 63.9 1249.1 65.0 1236.3 67.0 1221.9 68.7 1212.1 70.0 1206.0 72.4 1198.5 74.2 1193.9 75.7 1191.2 76.4 1190.5 77.0 1190.2 77.9 1190.4 78.8 1190.9 81.0 1193.4 84.7 1199.1 87.1 1204.4 88.6 1208.7 91.3 1218.7 95.0 1231.2 103.7 1258.3 105.3 1262.2 108.3 1269.1 110.3 1274.2 113.4 1283.1 116.2 1292.5 118.0 1297.1 121.0 1304.1 126.3 1314.6 130.4 1322.1 134.8 1329.1 140.1 1336.8 144.7 1342.8 153.4 1353.6 157.4 1358.1 174.2 1374.4 178.6 1378.1 182.3 1380.9 187.1 1383.9 190.6 1385.7 193.7 1386.9 201.2 1388.9 210.1 1393.0 213.4 1394.3 219.1 1396.1 225.7 1397.8 252.6 1403.5 266.4 1405.8 278.2 1407.3 292.4 1408.7 321.6 1411.1" fill="none" stroke="#9fcd82" stroke-width="1.6"/><path d="M52.4 1418.8 53.1 1418.5 53.6 1417.4 54.3 1411.0 56.6 1374.2 58.8 1344.1 62.4 1281.9 63.9 1259.6 65.0 1247.6 67.0 1234.1 68.7 1224.9 70.0 1219.2 72.4 1212.1 74.2 1207.8 75.7 1205.3 76.4 1204.6 77.0 1204.4 77.9 1204.5 79.0 1205.2 81.4 1207.9 84.7 1213.0 87.3 1218.9 88.9 1223.4 91.3 1232.7 95.0 1245.4 103.7 1273.6 110.3 1290.6 117.1 1311.5 119.7 1318.0 123.0 1325.2 126.7 1332.6 130.4 1339.3 134.6 1346.1 139.0 1352.5 143.8 1358.7 150.4 1366.3 155.4 1371.8 159.6 1375.7 174.4 1387.7 179.7 1391.3 184.3 1393.9 188.7 1396.0 192.2 1397.4 200.7 1399.5 210.8 1403.0 216.0 1404.4 223.7 1406.2 231.6 1407.6 249.3 1410.3 260.7 1411.7 273.2 1412.9 288.3 1414.0 321.6 1415.7" fill="none" stroke="#9fcd82" stroke-width="1.6"/><path d="M52.4 1418.8 53.1 1418.6 53.6 1417.5 54.3 1411.3 56.6 1375.8 58.8 1346.8 62.4 1286.9 63.9 1265.4 65.0 1253.8 67.0 1240.8 68.9 1230.8 70.2 1225.6 72.7 1219.0 74.4 1215.0 75.9 1212.7 76.6 1212.2 77.2 1212.1 78.1 1212.3 79.2 1213.1 81.8 1216.1 84.9 1220.8 87.3 1226.2 88.9 1230.6 91.3 1239.6 95.0 1252.1 103.7 1279.6 110.3 1296.5 117.1 1316.9 119.7 1323.3 123.4 1331.2 127.2 1338.5 130.9 1345.1 135.0 1351.7 139.4 1357.9 144.2 1364.0 150.8 1371.5 155.6 1376.5 159.8 1380.3 174.7 1392.0 180.4 1395.8 185.6 1398.6 189.5 1400.5 192.8 1401.7 200.7 1403.9 211.0 1407.3 216.9 1408.9 225.2 1410.6 233.8 1411.9 247.3 1413.7 258.7 1414.8 271.2 1415.7 286.1 1416.4 321.6 1417.5" fill="none" stroke="#9fcd82" stroke-width="1.6"/><path d="M52.4 1418.8 53.1 1418.6 53.6 1417.5 54.3 1411.4 56.6 1376.5 58.8 1348.0 62.4 1289.0 63.9 1267.8 65.0 1256.4 67.0 1243.6 68.9 1233.9 70.2 1228.7 72.7 1222.2 74.4 1218.3 75.9 1216.0 76.6 1215.6 77.2 1215.4 78.3 1215.8 79.4 1216.6 82.1 1219.7 84.9 1224.1 87.5 1230.0 88.9 1233.9 91.0 1242.1 94.8 1254.7 103.7 1283.3 110.3 1300.4 117.1 1321.0 119.7 1327.4 123.2 1334.9 126.9 1342.2 130.7 1348.8 134.8 1355.5 139.2 1361.7 143.6 1367.3 149.3 1373.7 154.7 1379.4 159.1 1383.4 173.8 1394.4 179.0 1397.6 183.9 1400.1 188.5 1402.1 192.4 1403.5 200.7 1405.6 210.8 1408.5 215.6 1409.6 224.1 1411.3 233.1 1412.6 247.6 1414.3 259.6 1415.5 272.3 1416.3 287.0 1417.0 321.6 1418.0" fill="none" stroke="#9fcd82" stroke-width="1.6"/><path d="M52.4 1418.8 53.1 1418.6 53.6 1417.5 54.3 1411.6 56.6 1377.4 58.8 1349.5 62.4 1291.8 63.9 1271.1 65.0 1260.0 67.0 1247.4 68.9 1237.9 70.2 1232.8 72.7 1226.5 74.4 1222.6 75.9 1220.4 76.6 1220.0 77.2 1219.9 78.3 1220.2 79.4 1221.0 82.1 1224.1 84.9 1228.5 87.5 1234.5 88.9 1238.4 91.0 1246.7 95.0 1260.3 103.7 1288.8 110.1 1305.9 116.9 1326.6 119.5 1333.2 122.8 1340.4 126.5 1347.8 130.2 1354.5 134.2 1360.9 138.3 1366.8 142.5 1372.1 147.1 1377.3 153.0 1383.3 157.8 1387.7 162.4 1391.1 172.7 1397.9 177.7 1400.7 182.8 1403.1 187.8 1405.0 192.2 1406.4 213.4 1411.2 221.7 1412.6 231.1 1413.8 245.6 1415.2 258.1 1416.1 285.6 1417.4 321.6 1418.2" fill="none" stroke="#9fcd82" stroke-width="1.6"/><path d="M52.4 1418.8 53.1 1418.5 53.6 1417.4 54.3 1410.8 56.6 1372.8 58.8 1341.8 62.4 1277.7 63.9 1254.7 65.0 1242.3 67.0 1228.4 68.7 1218.9 70.0 1213.0 72.4 1205.7 74.2 1201.3 75.7 1198.7 76.4 1198.0 77.0 1197.8 77.9 1197.9 79.0 1198.6 81.2 1201.1 84.7 1206.4 87.1 1211.6 88.6 1215.9 91.3 1225.7 95.0 1238.2 103.7 1265.1 110.3 1281.2 113.4 1289.9 116.2 1299.1 117.7 1303.2 121.0 1310.6 126.3 1321.0 130.4 1328.3 134.8 1335.2 139.9 1342.3 144.5 1348.0 153.2 1358.2 157.4 1362.6 173.3 1377.1 177.7 1380.6 181.9 1383.6 186.7 1386.4 190.4 1388.3 193.5 1389.4 201.4 1391.5 213.2 1396.3 218.7 1397.9 225.0 1399.5 251.9 1404.7 265.9 1406.9 277.8 1408.2 292.0 1409.6 321.6 1411.8" fill="none" stroke="#2d5222" stroke-width="2.9" stroke-linejoin="round"/></g>
<path d="M51.71 1376.39h12.5M57.32 1308.53h12.5M62.92 1251.72h12.5M68.53 1211.40h12.5M74.14 1189.50h12.5M79.75 1200.03h12.5M85.36 1212.43h12.5M90.97 1224.92h12.5M96.58 1253.35h12.5M102.18 1266.86h12.5M113.40 1316.87h12.5M124.62 1351.55h12.5M135.83 1367.53h12.5M158.27 1375.64h12.5M180.70 1387.43h12.5M203.13 1395.12h12.5M315.30 1403.23h12.5" stroke="#ff2525" stroke-width="1.1" fill="none"/>
<g fill="none" stroke="#ff0000" stroke-width="2.45"><circle cx="57.96" cy="1376.39" r="3.15"/><circle cx="63.57" cy="1308.53" r="3.15"/><circle cx="69.17" cy="1251.72" r="3.15"/><circle cx="74.78" cy="1211.40" r="3.15"/><circle cx="80.39" cy="1189.50" r="3.15"/><circle cx="86.00" cy="1200.03" r="3.15"/><circle cx="91.61" cy="1212.43" r="3.15"/><circle cx="97.22" cy="1224.92" r="3.15"/><circle cx="102.83" cy="1253.35" r="3.15"/><circle cx="108.43" cy="1266.86" r="3.15"/><circle cx="119.65" cy="1316.87" r="3.15"/><circle cx="130.87" cy="1351.55" r="3.15"/><circle cx="142.08" cy="1367.53" r="3.15"/><circle cx="164.52" cy="1375.64" r="3.15"/><circle cx="186.95" cy="1387.43" r="3.15"/><circle cx="209.38" cy="1395.12" r="3.15"/><circle cx="321.55" cy="1403.23" r="3.15"/></g>
<clipPath id="clipei"><rect x="188.9" y="1056.1" width="114.6" height="115.2"/></clipPath>
<g clip-path="url(#clipei)"><path d="M189.5 1115.9 190.2 1093.3 190.8 1085.5 191.8 1079.2 193.3 1072.3 194.9 1067.2 196.6 1064.7 198.0 1063.6 198.9 1063.2 201.2 1063.2 203.0 1063.8 206.9 1064.5 214.4 1066.2 219.3 1067.9 224.9 1070.4 239.8 1073.3 248.2 1076.0 260.4 1079.6 269.2 1082.0 285.7 1086.1 303.5 1091.3 L303.5 1225.0 283.5 1196.8 271.7 1180.8 265.4 1171.4 261.1 1164.2 234.8 1117.6 230.7 1110.9 223.5 1101.2 217.0 1093.3 215.7 1091.4 213.5 1087.2 210.6 1083.0 207.7 1079.9 204.3 1076.7 202.9 1075.6 200.9 1074.6 199.7 1074.5 197.4 1076.3 195.9 1078.1 195.0 1079.8 194.4 1082.0 192.4 1092.0 191.1 1102.9 190.2 1115.1 189.8 1129.4 189.5 1157.6Z" fill="#ddeed5"/><path d="M189.5 1148.7 190.0 1110.2 190.5 1098.0 191.0 1090.9 192.5 1079.5 193.9 1073.2 194.7 1071.6 196.0 1070.1 197.1 1069.3 198.7 1068.6 199.6 1068.4 200.9 1068.6 202.9 1069.1 204.3 1069.7 210.8 1074.1 213.8 1075.9 217.9 1079.0 237.1 1090.5 243.9 1095.2 247.9 1097.5 252.2 1098.9 257.1 1101.6 260.4 1103.1 278.2 1110.1 283.5 1111.8 290.4 1113.6 303.5 1116.6 L303.5 1123.2 290.3 1118.8 278.0 1114.3 269.2 1110.2 260.0 1106.2 257.0 1104.7 252.2 1101.7 247.8 1100.1 243.8 1097.6 237.1 1092.6 220.1 1081.5 216.7 1079.1 213.6 1076.3 210.8 1074.6 204.3 1070.0 202.9 1069.3 201.2 1068.8 199.9 1068.6 198.8 1068.6 197.4 1069.2 196.1 1070.0 194.7 1071.5 194.0 1072.9 193.2 1076.0 192.5 1079.5 191.1 1090.7 190.5 1097.8 190.0 1109.9 189.5 1148.7Z" fill="#a9d38f"/><path d="M189.5 1147.1 190.0 1108.9 190.5 1096.6 191.0 1089.4 192.5 1077.8 193.9 1071.5 194.7 1070.0 195.9 1068.5 196.6 1067.9 198.5 1067.0 199.4 1066.9 200.5 1067.0 202.8 1067.5 204.3 1068.1 210.7 1071.9 213.8 1073.3 217.7 1075.9 230.4 1082.4 237.5 1086.4 244.3 1091.1 248.1 1093.1 252.4 1094.2 257.1 1096.6 260.6 1098.0 269.3 1100.6 277.9 1103.5 286.9 1106.0 303.5 1110.2" fill="none" stroke="#9fcd82" stroke-width="1.6"/><path d="M189.5 1147.3 190.0 1108.6 190.5 1096.4 191.1 1089.3 192.5 1078.0 193.2 1074.5 194.0 1071.5 194.7 1070.0 196.1 1068.6 197.4 1067.7 198.8 1067.1 200.6 1067.2 203.9 1068.1 210.8 1072.3 213.3 1073.6 217.5 1076.6 229.4 1083.5 236.9 1088.2 244.0 1093.5 248.1 1096.1 252.2 1097.5 257.0 1100.3 259.9 1101.8 269.2 1105.6 277.9 1109.5 290.2 1114.0 303.5 1118.3" fill="none" stroke="#9fcd82" stroke-width="1.6"/><path d="M189.5 1147.5 190.0 1108.6 190.5 1096.5 191.1 1089.4 192.5 1078.2 193.2 1074.7 194.0 1071.7 194.7 1070.2 196.1 1068.8 197.4 1067.9 198.8 1067.3 200.7 1067.4 204.0 1068.4 210.8 1072.7 213.3 1074.1 217.5 1077.3 229.4 1084.7 237.0 1089.8 243.9 1095.2 248.0 1097.9 252.2 1099.5 257.0 1102.5 259.9 1104.0 269.2 1108.2 277.9 1112.3 290.2 1117.1 303.5 1121.8" fill="none" stroke="#9fcd82" stroke-width="1.6"/><path d="M189.5 1147.8 190.0 1108.9 190.5 1096.9 191.1 1089.8 192.5 1078.6 193.2 1075.1 194.0 1072.0 194.7 1070.6 196.1 1069.1 197.4 1068.2 198.8 1067.7 199.9 1067.6 201.2 1067.9 203.0 1068.4 204.4 1069.0 210.9 1073.4 213.5 1074.9 217.6 1078.3 237.0 1091.3 243.9 1096.7 247.9 1099.3 252.2 1101.0 257.0 1104.1 259.9 1105.6 269.2 1109.8 277.9 1114.1 290.2 1119.0 303.5 1123.8" fill="none" stroke="#9fcd82" stroke-width="1.6"/><path d="M189.5 1148.2 190.0 1109.3 190.5 1097.3 191.1 1090.2 192.5 1078.9 193.2 1075.5 194.0 1072.4 194.7 1071.0 196.1 1069.5 197.4 1068.6 198.8 1068.1 199.9 1068.0 201.2 1068.2 202.9 1068.7 204.4 1069.4 210.9 1073.9 213.5 1075.6 216.8 1078.5 220.6 1081.2 237.1 1092.4 243.8 1097.6 247.9 1100.3 252.2 1101.9 257.0 1104.9 259.9 1106.5 269.2 1110.7 277.9 1114.9 290.1 1119.7 303.5 1124.5" fill="none" stroke="#9fcd82" stroke-width="1.6"/><path d="M189.5 1149.3 190.1 1109.7 190.5 1097.9 191.1 1090.8 192.6 1079.4 194.0 1073.4 194.8 1071.9 196.2 1070.4 197.9 1069.4 199.2 1069.1 201.5 1069.4 204.2 1070.4 212.8 1077.0 214.6 1078.6 217.0 1081.1 221.1 1084.7 237.3 1098.0 243.9 1103.9 247.9 1107.1 252.2 1109.3 257.0 1113.0 259.9 1115.0 269.2 1120.6 277.8 1126.0 290.1 1132.6 303.5 1139.5" fill="none" stroke="#9fcd82" stroke-width="1.6"/><path d="M189.5 1149.9 189.8 1121.1 190.3 1102.7 190.9 1093.9 192.1 1083.2 193.2 1077.1 193.8 1074.6 194.4 1073.2 195.3 1071.9 196.5 1070.8 198.4 1069.9 199.7 1069.7 202.4 1070.3 204.3 1071.1 212.9 1077.8 214.7 1079.5 216.9 1081.9 220.5 1085.2 237.6 1100.3 247.1 1109.9 248.7 1111.2 252.5 1113.9 257.4 1118.8 263.3 1124.1 279.6 1137.7 291.7 1146.5 303.5 1154.7" fill="none" stroke="#9fcd82" stroke-width="1.6"/><path d="M189.5 1150.1 189.8 1121.4 190.3 1102.6 190.9 1093.9 192.2 1082.8 193.3 1077.0 193.9 1074.6 194.6 1073.2 195.6 1071.9 196.6 1071.0 198.6 1070.1 200.1 1070.0 202.6 1070.6 204.3 1071.4 213.3 1078.7 218.0 1083.6 237.5 1102.0 246.8 1111.6 248.7 1113.2 252.8 1116.1 257.7 1121.0 269.6 1131.4 303.5 1162.9" fill="none" stroke="#9fcd82" stroke-width="1.6"/><path d="M189.5 1150.5 189.8 1121.8 190.3 1103.0 190.9 1094.3 192.2 1083.1 193.3 1077.4 193.9 1075.0 194.6 1073.6 195.7 1072.2 196.7 1071.3 198.7 1070.4 200.2 1070.4 202.7 1071.0 204.3 1071.9 213.0 1079.3 217.6 1084.5 237.5 1104.9 243.7 1111.8 247.1 1115.4 248.8 1116.9 252.6 1119.7 259.1 1126.3 269.1 1135.2 277.8 1143.5 303.5 1167.2" fill="none" stroke="#9fcd82" stroke-width="1.6"/><path d="M189.5 1148.7 190.1 1109.7 190.5 1097.7 191.1 1090.6 192.5 1079.5 193.2 1076.0 194.0 1072.9 194.8 1071.4 196.1 1070.0 197.6 1069.1 198.9 1068.6 200.0 1068.6 201.4 1068.8 203.0 1069.3 204.4 1070.0 213.5 1076.4 216.9 1079.5 221.3 1082.8 237.2 1093.8 243.8 1099.0 247.8 1101.6 252.2 1103.3 257.0 1106.4 259.9 1108.0 269.2 1112.2 277.9 1116.4 290.2 1121.3 303.5 1126.1" fill="none" stroke="#2d5222" stroke-width="2.4" stroke-linejoin="round"/></g>
<path d="M185.04 1096.07h12.5M187.43 1080.14h12.5M189.81 1073.21h12.5M192.20 1069.60h12.5M194.59 1067.93h12.5M196.97 1068.71h12.5M199.36 1069.69h12.5M201.75 1070.73h12.5M204.14 1073.37h12.5M206.53 1074.79h12.5M211.30 1081.45h12.5M216.07 1088.38h12.5M220.85 1092.91h12.5M230.40 1095.78h12.5M239.95 1101.10h12.5M249.50 1105.79h12.5M297.25 1112.79h12.5" stroke="#ff2525" stroke-width="1.1" fill="none"/>
<g fill="none" stroke="#ff0000" stroke-width="1.7"><circle cx="191.29" cy="1096.07" r="2.9"/><circle cx="193.68" cy="1080.14" r="2.9"/><circle cx="196.06" cy="1073.21" r="2.9"/><circle cx="198.45" cy="1069.60" r="2.9"/><circle cx="200.84" cy="1067.93" r="2.9"/><circle cx="203.22" cy="1068.71" r="2.9"/><circle cx="205.61" cy="1069.69" r="2.9"/><circle cx="208.00" cy="1070.73" r="2.9"/><circle cx="210.39" cy="1073.37" r="2.9"/><circle cx="212.78" cy="1074.79" r="2.9"/><circle cx="217.55" cy="1081.45" r="2.9"/><circle cx="222.32" cy="1088.38" r="2.9"/><circle cx="227.10" cy="1092.91" r="2.9"/><circle cx="236.65" cy="1095.78" r="2.9"/><circle cx="246.20" cy="1101.10" r="2.9"/><circle cx="255.75" cy="1105.79" r="2.9"/><circle cx="303.50" cy="1112.79" r="2.9"/></g>
<path d="M52.35 1045.95V1418.8H321.55" fill="none" stroke="#111" stroke-width="1.45"/>
<path d="M52.35 1418.8v4M97.22 1418.8v4M142.08 1418.8v4M186.95 1418.8v4M231.82 1418.8v4M276.68 1418.8v4M321.55 1418.8v4M52.35 1418.8h-4M52.35 1372.19h-4M52.35 1325.59h-4M52.35 1278.98h-4M52.35 1232.38h-4M52.35 1185.77h-4M52.35 1139.16h-4M52.35 1092.56h-4M52.35 1045.95h-4" stroke="#111" stroke-width="1.1" fill="none"/>
<text x="52.35" y="1440.9" font-size="16" text-anchor="middle" >0</text>
<text x="97.22" y="1440.9" font-size="16" text-anchor="middle" >4</text>
<text x="142.08" y="1440.9" font-size="16" text-anchor="middle" >8</text>
<text x="186.95" y="1440.9" font-size="16" text-anchor="middle" >12</text>
<text x="231.82" y="1440.9" font-size="16" text-anchor="middle" >16</text>
<text x="276.68" y="1440.9" font-size="16" text-anchor="middle" >20</text>
<text x="321.55" y="1440.9" font-size="16" text-anchor="middle" >24</text>
<text x="44.35" y="1424.1" font-size="16" text-anchor="end" >0</text>
<text x="44.35" y="1377.49" font-size="16" text-anchor="end" >100</text>
<text x="44.35" y="1330.89" font-size="16" text-anchor="end" >200</text>
<text x="44.35" y="1284.28" font-size="16" text-anchor="end" >300</text>
<text x="44.35" y="1237.68" font-size="16" text-anchor="end" >400</text>
<text x="44.35" y="1191.07" font-size="16" text-anchor="end" >500</text>
<text x="44.35" y="1144.46" font-size="16" text-anchor="end" >600</text>
<text x="44.35" y="1097.86" font-size="16" text-anchor="end" >700</text>
<text x="44.35" y="1051.25" font-size="16" text-anchor="end" >800</text>
<text x="186.95" y="1460.1" font-size="16" text-anchor="middle" font-weight="bold" >Time [h]</text>
<text transform="translate(12.55,1232.38) rotate(-90)" font-size="16" font-weight="bold" text-anchor="middle">Glimepiride concentration [ng/mL]</text>
<text x="25.6" y="1032.25" font-size="16" text-anchor="start" font-weight="bold" >(e)</text>
<path d="M188.9 1056.1V1171.3H303.5" fill="none" stroke="#111" stroke-width="1.45"/>
<path d="M188.9 1171.3v1.6M227.1 1171.3v1.6M265.3 1171.3v1.6M303.5 1171.3v1.6M188.9 1171.3h-2.0M188.9 1159.74h-1.6M188.9 1152.98h-1.6M188.9 1148.18h-1.6M188.9 1144.46h-1.6M188.9 1141.42h-1.6M188.9 1138.85h-1.6M188.9 1136.62h-1.6M188.9 1134.66h-1.6M188.9 1132.9h-2.0M188.9 1121.34h-1.6M188.9 1114.58h-1.6M188.9 1109.78h-1.6M188.9 1106.06h-1.6M188.9 1103.02h-1.6M188.9 1100.45h-1.6M188.9 1098.22h-1.6M188.9 1096.26h-1.6M188.9 1094.5h-2.0M188.9 1082.94h-1.6M188.9 1076.18h-1.6M188.9 1071.38h-1.6M188.9 1067.66h-1.6M188.9 1064.62h-1.6M188.9 1062.05h-1.6M188.9 1059.82h-1.6M188.9 1057.86h-1.6M188.9 1056.1h-2.0" stroke="#111" stroke-width="1" fill="none"/>
<text x="188.9" y="1190.6" font-size="16" text-anchor="middle" >0</text>
<text x="227.1" y="1190.6" font-size="16" text-anchor="middle" >8</text>
<text x="265.3" y="1190.6" font-size="16" text-anchor="middle" >16</text>
<text x="303.5" y="1190.6" font-size="16" text-anchor="middle" >24</text>
<text x="176.7" y="1179.4" font-size="16" text-anchor="end" >10</text>
<text x="183.7" y="1171.4" font-size="12" text-anchor="end" >0</text>
<text x="176.7" y="1141" font-size="16" text-anchor="end" >10</text>
<text x="183.7" y="1133" font-size="12" text-anchor="end" >1</text>
<text x="176.7" y="1102.6" font-size="16" text-anchor="end" >10</text>
<text x="183.7" y="1094.6" font-size="12" text-anchor="end" >2</text>
<text x="176.7" y="1064.2" font-size="16" text-anchor="end" >10</text>
<text x="183.7" y="1056.2" font-size="12" text-anchor="end" >3</text>
<clipPath id="clipfm"><rect x="406.8" y="1045.45" width="269.7" height="372.85"/></clipPath>
<g clip-path="url(#clipfm)"><path d="M406.8 1418.8 407.3 1418.6 407.5 1417.6 407.9 1413.4 410.8 1391.9 411.5 1385.8 413.4 1361.5 417.7 1295.3 418.6 1284.7 419.4 1278.9 421.8 1267.2 424.3 1248.4 426.2 1241.6 427.1 1239.7 427.8 1239.1 429.9 1239.3 432.4 1239.8 435.9 1240.8 437.4 1241.5 439.1 1242.8 440.9 1244.4 445.7 1249.9 449.0 1254.7 455.3 1265.9 466.1 1283.8 472.9 1293.4 475.5 1296.7 477.7 1299.0 480.3 1301.3 488.8 1308.0 499.3 1318.6 505.7 1324.5 510.1 1328.2 513.8 1330.9 520.6 1335.0 534.6 1343.9 540.9 1347.6 546.6 1350.5 559.5 1355.8 567.9 1360.0 580.1 1365.7 585.8 1368.1 591.3 1370.1 618.6 1378.4 634.0 1382.6 654.5 1387.6 676.0 1392.1 L676.0 1418.5 646.2 1418.2 623.5 1417.6 603.1 1416.6 585.4 1415.2 567.2 1413.1 541.6 1409.3 537.0 1408.4 533.1 1407.3 523.6 1403.9 510.5 1398.5 503.1 1395.0 496.7 1391.3 494.3 1389.6 491.9 1387.5 488.4 1384.0 481.2 1375.7 478.1 1372.5 474.6 1369.6 466.5 1363.9 462.8 1360.4 461.0 1358.2 459.1 1355.0 451.8 1341.4 445.3 1332.0 441.6 1327.6 435.9 1321.9 433.5 1320.1 431.5 1319.5 430.8 1319.6 430.2 1320.1 428.9 1321.7 427.3 1324.4 425.4 1328.8 423.6 1334.7 421.2 1346.0 419.0 1358.3 416.4 1376.8 414.4 1394.2 413.1 1409.5 412.3 1414.5 411.5 1416.8 410.5 1418.1 409.2 1418.7 406.8 1418.8Z" fill="#cfe7fb"/><path d="M406.8 1418.8 407.0 1418.7 407.1 1418.3 407.8 1413.3 410.8 1381.7 413.5 1357.4 417.3 1326.7 420.1 1306.7 421.2 1301.6 422.5 1296.7 423.6 1293.4 425.8 1288.0 426.7 1286.4 427.5 1285.4 429.7 1284.0 431.5 1283.5 433.2 1283.9 435.0 1285.0 437.2 1286.9 440.9 1290.7 443.1 1293.7 448.3 1302.0 457.7 1314.9 472.6 1334.0 478.3 1341.9 481.8 1346.0 485.8 1349.8 488.8 1352.5 499.8 1361.1 503.7 1363.8 507.2 1365.7 527.8 1375.4 530.9 1377.1 537.4 1381.4 543.8 1384.1 560.9 1390.1 573.8 1394.2 582.7 1396.3 597.2 1399.1 613.4 1402.5 626.5 1404.6 650.4 1407.5 676.0 1409.7 L676.0 1412.1 650.2 1410.3 626.3 1407.8 612.5 1405.9 583.8 1400.8 574.0 1398.8 561.3 1395.1 544.2 1389.6 537.4 1386.9 530.9 1383.0 527.8 1381.4 507.2 1372.3 503.7 1370.6 500.2 1368.3 489.9 1361.1 485.6 1357.6 481.6 1354.0 478.1 1350.3 473.1 1343.7 458.4 1326.0 448.3 1313.0 443.1 1305.3 441.1 1302.7 437.6 1299.4 435.2 1297.4 433.2 1296.3 431.5 1295.9 429.7 1296.3 427.5 1297.6 426.7 1298.5 425.8 1300.0 423.6 1304.8 422.5 1307.8 421.2 1312.3 420.1 1316.9 417.3 1335.1 413.5 1363.0 410.8 1385.1 407.8 1413.8 407.1 1418.4 407.0 1418.7 406.8 1418.8Z" fill="#8d9fd3"/><path d="M406.8 1418.8 407.0 1418.7 407.1 1418.2 407.8 1412.3 410.8 1375.0 413.5 1346.3 417.3 1309.9 420.1 1286.3 421.2 1280.3 422.5 1274.5 423.6 1270.6 425.8 1264.3 426.7 1262.4 427.5 1261.2 429.5 1259.7 431.3 1259.0 432.8 1259.3 434.5 1260.4 436.5 1262.3 440.7 1266.9 442.9 1270.1 448.1 1278.9 453.8 1287.0 458.6 1293.3 472.2 1310.3 474.8 1313.9 477.2 1317.8 478.8 1319.9 481.6 1323.3 484.7 1326.5 488.6 1330.1 495.2 1335.2 503.3 1342.1 506.3 1344.1 517.7 1350.6 526.5 1356.1 530.6 1359.1 536.3 1364.1 539.0 1365.9 543.3 1368.1 556.0 1373.4 569.8 1378.9 575.1 1380.8 581.9 1382.7 597.9 1386.3 613.6 1390.6 627.6 1393.5 643.8 1396.1 659.8 1398.2 676.0 1399.7" fill="none" stroke="#869bd4" stroke-width="1.6"/><path d="M406.8 1418.8 407.0 1418.7 407.1 1418.3 407.8 1412.7 410.8 1378.0 413.5 1351.2 417.3 1317.4 420.1 1295.4 421.2 1289.8 422.5 1284.4 423.6 1280.8 425.8 1274.9 426.7 1273.1 427.5 1272.0 429.7 1270.4 431.5 1270.0 433.2 1270.4 435.0 1271.6 437.2 1273.7 440.9 1277.9 443.1 1281.2 448.3 1290.3 456.9 1303.0 472.9 1325.1 478.1 1333.1 481.2 1337.0 484.7 1340.8 488.6 1344.6 503.7 1357.3 506.8 1359.3 528.0 1372.2 537.7 1379.2 544.0 1382.2 561.1 1388.8 573.8 1393.1 583.2 1395.5 613.0 1401.8 626.5 1404.0 638.3 1405.6 650.4 1407.0 662.9 1408.1 676.0 1409.1" fill="none" stroke="#869bd4" stroke-width="1.6"/><path d="M406.8 1418.8 407.0 1418.7 407.1 1418.3 407.8 1413.0 410.8 1380.3 413.5 1354.9 417.3 1323.0 420.1 1302.2 421.2 1296.9 422.5 1291.8 423.6 1288.4 425.8 1282.8 426.7 1281.1 427.5 1280.1 429.7 1278.6 431.5 1278.1 433.2 1278.6 435.0 1279.7 437.2 1281.7 440.9 1285.6 443.1 1288.8 448.3 1297.4 456.7 1309.2 472.9 1330.5 478.1 1338.1 481.2 1341.8 484.5 1345.3 488.6 1349.1 503.9 1361.5 528.2 1376.3 531.1 1378.1 535.7 1381.6 537.9 1382.9 544.4 1385.9 561.5 1392.1 574.0 1396.1 583.8 1398.5 612.5 1404.1 626.3 1406.2 637.9 1407.6 650.2 1408.8 676.0 1410.7" fill="none" stroke="#869bd4" stroke-width="1.6"/><path d="M406.8 1418.8 407.0 1418.7 407.1 1418.3 407.8 1413.6 410.8 1383.6 413.5 1360.5 417.3 1331.3 420.1 1312.4 421.2 1307.5 422.5 1302.9 423.6 1299.8 425.8 1294.7 426.7 1293.2 427.5 1292.2 429.7 1290.9 431.5 1290.4 433.2 1290.8 435.2 1292.0 437.8 1294.3 441.1 1297.8 443.1 1300.5 448.3 1308.9 458.8 1323.7 473.7 1343.3 477.9 1349.1 481.2 1353.0 484.7 1356.4 489.5 1360.5 503.7 1370.9 507.0 1372.8 528.7 1384.2 537.2 1389.4 544.2 1392.2 561.7 1397.9 574.4 1401.4 585.2 1403.6 611.9 1408.2 626.3 1410.2 649.7 1412.4 676.0 1414.1" fill="none" stroke="#869bd4" stroke-width="1.6"/><path d="M406.8 1418.8 407.0 1418.7 407.1 1418.3 407.8 1413.7 410.8 1384.4 413.5 1361.8 417.3 1333.2 420.1 1314.6 421.2 1309.9 422.5 1305.3 423.6 1302.3 425.8 1297.3 426.7 1295.8 427.5 1294.9 429.7 1293.6 431.5 1293.2 433.2 1293.5 435.4 1294.9 438.0 1297.2 441.1 1300.5 443.3 1303.7 448.6 1312.3 461.0 1330.6 474.2 1348.8 477.9 1354.2 481.2 1358.2 485.1 1362.3 490.4 1366.9 500.4 1374.8 504.2 1377.4 514.9 1383.5 530.2 1391.7 536.8 1395.5 540.5 1397.2 545.1 1398.8 554.5 1401.9 562.2 1404.2 574.9 1407.5 587.1 1409.7 609.2 1412.7 625.2 1414.3 648.6 1415.8 676.0 1416.9" fill="none" stroke="#869bd4" stroke-width="1.6"/><path d="M406.8 1418.8 407.0 1418.7 407.1 1418.3 407.8 1413.2 410.8 1381.4 413.5 1356.8 417.3 1325.7 420.1 1305.6 421.2 1300.4 422.5 1295.5 423.6 1292.2 425.8 1286.8 426.7 1285.2 427.5 1284.1 429.7 1282.7 431.5 1282.2 433.2 1282.7 435.0 1283.7 437.2 1285.7 440.9 1289.5 443.1 1292.6 448.3 1301.1 457.3 1313.6 472.9 1333.9 478.1 1341.4 481.2 1345.0 484.7 1348.6 488.8 1352.4 503.9 1364.4 528.5 1379.0 537.7 1385.2 544.4 1388.2 561.3 1394.2 574.2 1398.2 584.3 1400.5 612.1 1405.7 626.1 1407.7 650.0 1410.3 676.0 1412.1" fill="none" stroke="#1b2d58" stroke-width="3.0" stroke-linejoin="round"/></g>
<path d="M406.16 1400.02h12.5M411.77 1325.59h12.5M417.38 1286.16h12.5M422.98 1252.88h12.5M428.59 1249.34h12.5M434.20 1249.34h12.5M439.81 1263.14h12.5M445.42 1279.45h12.5M451.03 1291.66h12.5M456.63 1304.47h12.5M467.85 1332.35h12.5M479.07 1356.53h12.5M490.28 1365.20h12.5M512.72 1370.33h12.5M535.15 1381.05h12.5M557.58 1391.95h12.5M669.75 1404.54h12.5" stroke="#ff2525" stroke-width="1.1" fill="none"/>
<g fill="none" stroke="#ff0000" stroke-width="2.45"><circle cx="412.41" cy="1400.02" r="3.15"/><circle cx="418.02" cy="1325.59" r="3.15"/><circle cx="423.62" cy="1286.16" r="3.15"/><circle cx="429.23" cy="1252.88" r="3.15"/><circle cx="434.84" cy="1249.34" r="3.15"/><circle cx="440.45" cy="1249.34" r="3.15"/><circle cx="446.06" cy="1263.14" r="3.15"/><circle cx="451.67" cy="1279.45" r="3.15"/><circle cx="457.28" cy="1291.66" r="3.15"/><circle cx="462.88" cy="1304.47" r="3.15"/><circle cx="474.10" cy="1332.35" r="3.15"/><circle cx="485.32" cy="1356.53" r="3.15"/><circle cx="496.53" cy="1365.20" r="3.15"/><circle cx="518.97" cy="1370.33" r="3.15"/><circle cx="541.40" cy="1381.05" r="3.15"/><circle cx="563.83" cy="1391.95" r="3.15"/><circle cx="676.00" cy="1404.54" r="3.15"/></g>
<clipPath id="clipfi"><rect x="562.6" y="1056.1" width="114.6" height="115.2"/></clipPath>
<g clip-path="url(#clipfi)"><path d="M563.2 1126.0 563.9 1108.1 565.3 1092.4 566.3 1083.6 567.6 1076.9 569.0 1074.8 569.9 1073.0 571.3 1072.0 575.6 1072.2 579.4 1073.1 591.7 1078.4 597.9 1080.2 607.5 1083.7 621.0 1087.8 628.0 1089.6 640.2 1093.5 648.9 1095.8 677.2 1103.8 L677.2 1177.2 670.8 1172.3 665.2 1167.1 660.7 1162.2 641.8 1140.6 634.4 1132.9 627.0 1126.1 620.2 1121.2 617.7 1119.1 610.3 1111.5 600.1 1102.6 593.6 1095.2 591.7 1093.8 586.4 1090.7 582.1 1086.3 579.4 1084.4 577.5 1083.3 574.9 1082.3 573.5 1081.9 572.5 1082.0 571.3 1082.7 570.1 1084.0 569.2 1085.9 568.3 1088.4 567.5 1091.4 566.8 1095.6 565.9 1103.8 565.5 1114.6 564.5 1152.5 563.2 1214.6Z" fill="#cfe7fb"/><path d="M563.2 1121.8 563.5 1110.5 564.1 1100.7 564.8 1094.0 565.8 1088.0 567.1 1082.8 568.5 1079.4 569.5 1078.2 570.8 1077.2 571.6 1076.9 573.1 1076.7 575.1 1077.0 578.0 1078.0 587.6 1082.8 590.6 1084.5 595.0 1087.3 603.2 1091.4 613.6 1095.5 619.1 1098.6 634.4 1105.5 643.7 1108.9 651.8 1112.5 661.3 1116.3 669.7 1119.4 677.2 1121.8 L677.2 1126.8 669.5 1124.1 660.9 1120.7 651.8 1116.7 643.7 1112.7 634.8 1109.1 619.1 1101.3 613.7 1098.0 604.0 1094.0 596.9 1090.4 593.9 1088.7 590.8 1086.5 587.8 1084.8 578.2 1079.7 575.4 1078.7 573.3 1078.3 572.0 1078.4 570.9 1078.8 569.6 1079.8 568.6 1080.8 568.0 1082.1 567.1 1084.4 565.9 1089.1 564.9 1095.0 564.1 1102.1 563.5 1112.0 563.2 1123.4Z" fill="#8d9fd3"/><path d="M563.2 1119.0 563.5 1107.9 564.1 1098.3 564.7 1091.7 565.7 1085.6 567.0 1080.7 568.4 1076.9 569.3 1075.7 570.5 1074.6 571.3 1074.2 572.6 1074.0 574.4 1074.1 577.5 1075.0 589.5 1080.0 593.6 1082.1 596.6 1083.4 604.0 1086.3 612.2 1089.0 615.1 1090.3 619.2 1092.5 634.3 1097.9 643.7 1100.4 651.8 1103.3 660.2 1105.7 669.2 1107.9 677.2 1109.4" fill="none" stroke="#869bd4" stroke-width="1.6"/><path d="M563.2 1120.2 563.5 1108.9 564.1 1099.1 564.8 1092.4 565.8 1086.3 567.1 1081.2 568.5 1077.8 569.5 1076.6 570.8 1075.6 571.6 1075.3 573.1 1075.1 575.2 1075.5 578.1 1076.5 588.8 1081.8 596.5 1086.3 604.0 1089.9 612.4 1093.6 615.2 1095.1 619.2 1097.7 634.6 1104.8 643.7 1108.2 651.7 1111.9 660.1 1115.2 669.1 1118.3 677.2 1120.6" fill="none" stroke="#869bd4" stroke-width="1.6"/><path d="M563.2 1121.1 563.5 1109.8 564.1 1099.8 564.9 1092.7 565.9 1086.9 567.1 1082.2 568.0 1079.8 568.6 1078.6 569.6 1077.5 570.9 1076.5 573.2 1076.1 574.8 1076.3 577.4 1077.1 586.4 1081.5 590.3 1083.6 596.0 1087.1 613.3 1095.4 619.4 1099.4 634.8 1107.0 643.6 1110.5 651.7 1114.4 660.1 1117.9 669.1 1121.2 677.2 1123.8" fill="none" stroke="#869bd4" stroke-width="1.6"/><path d="M563.2 1122.6 563.5 1111.0 564.2 1100.8 565.0 1093.1 566.1 1087.6 567.6 1082.3 568.8 1079.9 569.8 1078.9 571.1 1078.0 572.4 1077.7 573.6 1077.6 575.2 1077.9 577.4 1078.7 583.7 1082.0 589.6 1085.5 593.5 1088.2 596.2 1089.9 603.9 1094.0 612.6 1098.4 615.2 1100.0 619.0 1102.7 634.8 1111.4 643.7 1115.7 651.9 1120.4 662.3 1125.8 670.1 1129.6 677.2 1132.8" fill="none" stroke="#869bd4" stroke-width="1.6"/><path d="M563.2 1123.0 563.5 1110.9 564.2 1100.2 565.2 1092.5 566.5 1086.4 568.0 1081.7 569.4 1079.6 570.5 1078.6 571.3 1078.2 573.0 1078.0 574.6 1078.1 577.9 1079.3 585.4 1083.7 590.0 1086.7 593.6 1089.6 596.5 1091.7 612.5 1101.6 615.2 1103.6 619.0 1106.9 626.1 1111.9 635.5 1119.0 644.3 1125.1 652.3 1131.2 666.1 1140.9 677.2 1148.0" fill="none" stroke="#869bd4" stroke-width="1.6"/><path d="M563.2 1121.6 563.5 1110.1 564.1 1100.0 565.0 1092.4 566.0 1087.0 567.4 1081.8 568.1 1080.1 568.7 1079.0 569.7 1077.9 571.0 1077.0 572.2 1076.7 573.4 1076.6 575.0 1076.8 577.5 1077.6 586.7 1082.2 590.4 1084.3 595.5 1087.5 604.0 1091.9 611.5 1095.5 615.0 1097.6 619.2 1100.5 634.9 1108.6 643.7 1112.4 651.8 1116.6 660.4 1120.4 669.3 1124.0 677.2 1126.8" fill="none" stroke="#1b2d58" stroke-width="2.4" stroke-linejoin="round"/></g>
<path d="M558.74 1109.66h12.5M561.12 1082.94h12.5M563.51 1077.06h12.5M565.90 1073.32h12.5M568.29 1072.97h12.5M570.68 1072.97h12.5M573.06 1074.39h12.5M575.45 1076.23h12.5M577.84 1077.76h12.5M580.23 1079.54h12.5M585.00 1084.20h12.5M589.77 1089.67h12.5M594.55 1092.17h12.5M604.10 1093.85h12.5M613.65 1098.01h12.5M623.20 1103.70h12.5M670.95 1114.25h12.5" stroke="#ff2525" stroke-width="1.1" fill="none"/>
<g fill="none" stroke="#ff0000" stroke-width="1.7"><circle cx="564.99" cy="1109.66" r="2.9"/><circle cx="567.38" cy="1082.94" r="2.9"/><circle cx="569.76" cy="1077.06" r="2.9"/><circle cx="572.15" cy="1073.32" r="2.9"/><circle cx="574.54" cy="1072.97" r="2.9"/><circle cx="576.93" cy="1072.97" r="2.9"/><circle cx="579.31" cy="1074.39" r="2.9"/><circle cx="581.70" cy="1076.23" r="2.9"/><circle cx="584.09" cy="1077.76" r="2.9"/><circle cx="586.48" cy="1079.54" r="2.9"/><circle cx="591.25" cy="1084.20" r="2.9"/><circle cx="596.02" cy="1089.67" r="2.9"/><circle cx="600.80" cy="1092.17" r="2.9"/><circle cx="610.35" cy="1093.85" r="2.9"/><circle cx="619.90" cy="1098.01" r="2.9"/><circle cx="629.45" cy="1103.70" r="2.9"/><circle cx="677.20" cy="1114.25" r="2.9"/></g>
<path d="M406.8 1045.95V1418.8H676" fill="none" stroke="#111" stroke-width="1.45"/>
<path d="M406.8 1418.8v4M451.67 1418.8v4M496.53 1418.8v4M541.4 1418.8v4M586.27 1418.8v4M631.13 1418.8v4M676 1418.8v4M406.8 1418.8h-4M406.8 1372.19h-4M406.8 1325.59h-4M406.8 1278.98h-4M406.8 1232.38h-4M406.8 1185.77h-4M406.8 1139.16h-4M406.8 1092.56h-4M406.8 1045.95h-4" stroke="#111" stroke-width="1.1" fill="none"/>
<text x="406.8" y="1440.9" font-size="16" text-anchor="middle" >0</text>
<text x="451.67" y="1440.9" font-size="16" text-anchor="middle" >4</text>
<text x="496.53" y="1440.9" font-size="16" text-anchor="middle" >8</text>
<text x="541.4" y="1440.9" font-size="16" text-anchor="middle" >12</text>
<text x="586.27" y="1440.9" font-size="16" text-anchor="middle" >16</text>
<text x="631.13" y="1440.9" font-size="16" text-anchor="middle" >20</text>
<text x="676" y="1440.9" font-size="16" text-anchor="middle" >24</text>
<text x="398.8" y="1424.1" font-size="16" text-anchor="end" >0</text>
<text x="398.8" y="1377.49" font-size="16" text-anchor="end" >100</text>
<text x="398.8" y="1330.89" font-size="16" text-anchor="end" >200</text>
<text x="398.8" y="1284.28" font-size="16" text-anchor="end" >300</text>
<text x="398.8" y="1237.68" font-size="16" text-anchor="end" >400</text>
<text x="398.8" y="1191.07" font-size="16" text-anchor="end" >500</text>
<text x="398.8" y="1144.46" font-size="16" text-anchor="end" >600</text>
<text x="398.8" y="1097.86" font-size="16" text-anchor="end" >700</text>
<text x="398.8" y="1051.25" font-size="16" text-anchor="end" >800</text>
<text x="541.4" y="1460.1" font-size="16" text-anchor="middle" font-weight="bold" >Time [h]</text>
<text transform="translate(367,1232.38) rotate(-90)" font-size="16" font-weight="bold" text-anchor="middle">Glimepiride concentration [ng/mL]</text>
<text x="380.05" y="1032.25" font-size="16" text-anchor="start" font-weight="bold" >(f)</text>
<path d="M562.6 1056.1V1171.3H677.2" fill="none" stroke="#111" stroke-width="1.45"/>
<path d="M562.6 1171.3v1.6M600.8 1171.3v1.6M639 1171.3v1.6M677.2 1171.3v1.6M562.6 1171.3h-2.0M562.6 1159.74h-1.6M562.6 1152.98h-1.6M562.6 1148.18h-1.6M562.6 1144.46h-1.6M562.6 1141.42h-1.6M562.6 1138.85h-1.6M562.6 1136.62h-1.6M562.6 1134.66h-1.6M562.6 1132.9h-2.0M562.6 1121.34h-1.6M562.6 1114.58h-1.6M562.6 1109.78h-1.6M562.6 1106.06h-1.6M562.6 1103.02h-1.6M562.6 1100.45h-1.6M562.6 1098.22h-1.6M562.6 1096.26h-1.6M562.6 1094.5h-2.0M562.6 1082.94h-1.6M562.6 1076.18h-1.6M562.6 1071.38h-1.6M562.6 1067.66h-1.6M562.6 1064.62h-1.6M562.6 1062.05h-1.6M562.6 1059.82h-1.6M562.6 1057.86h-1.6M562.6 1056.1h-2.0" stroke="#111" stroke-width="1" fill="none"/>
<text x="562.6" y="1190.6" font-size="16" text-anchor="middle" >0</text>
<text x="600.8" y="1190.6" font-size="16" text-anchor="middle" >8</text>
<text x="639" y="1190.6" font-size="16" text-anchor="middle" >16</text>
<text x="677.2" y="1190.6" font-size="16" text-anchor="middle" >24</text>
<text x="550.4" y="1179.4" font-size="16" text-anchor="end" >10</text>
<text x="557.4" y="1171.4" font-size="12" text-anchor="end" >0</text>
<text x="550.4" y="1141" font-size="16" text-anchor="end" >10</text>
<text x="557.4" y="1133" font-size="12" text-anchor="end" >1</text>
<text x="550.4" y="1102.6" font-size="16" text-anchor="end" >10</text>
<text x="557.4" y="1094.6" font-size="12" text-anchor="end" >2</text>
<text x="550.4" y="1064.2" font-size="16" text-anchor="end" >10</text>
<text x="557.4" y="1056.2" font-size="12" text-anchor="end" >3</text>
</svg></body></html>
